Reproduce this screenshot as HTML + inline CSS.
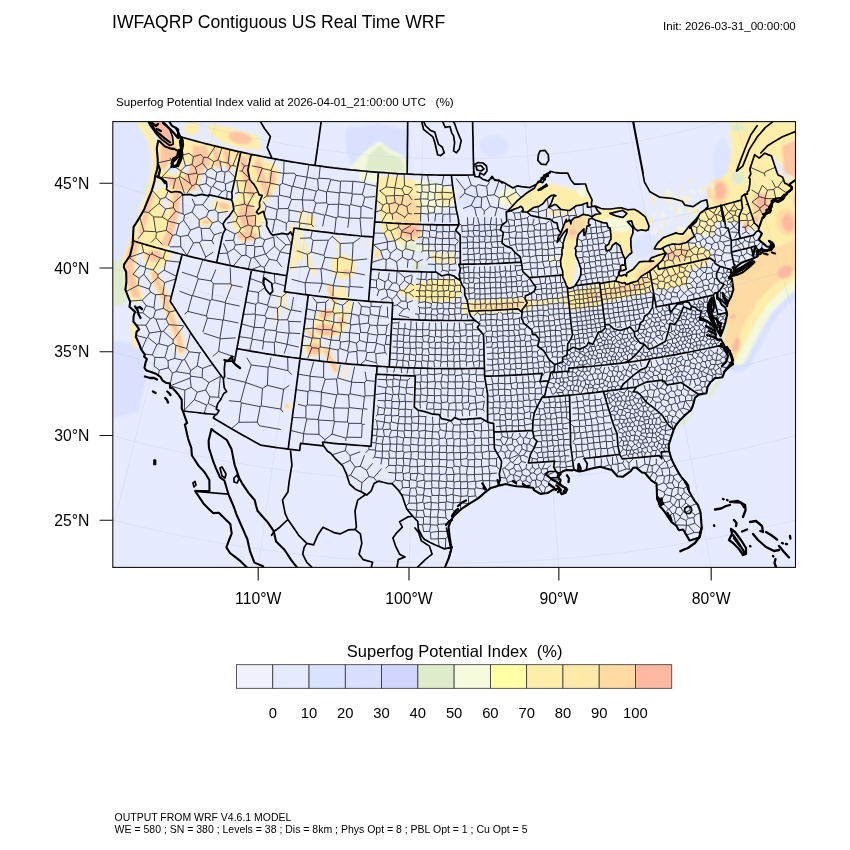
<!DOCTYPE html><html><head><meta charset="utf-8"><title>Superfog Potential Index</title><style>html,body{margin:0;padding:0;background:#fff}body{width:850px;height:850px;position:relative;overflow:hidden;font-family:"Liberation Sans",sans-serif}</style></head><body><svg width="850" height="850" viewBox="0 0 850 850" style="position:absolute;left:0;top:0">
<defs><clipPath id="fr"><rect x="112.8" y="121.6" width="682.7" height="445.8"/></clipPath></defs>
<rect x="112.8" y="121.6" width="682.7" height="445.8" fill="#e6ebff"/>
<g clip-path="url(#fr)">
<filter id="bl" x="-5%" y="-5%" width="110%" height="110%"><feGaussianBlur stdDeviation="0.9"/></filter><g filter="url(#bl)">
<polygon points="113,340 140,345 146,380 138,412 113,418" fill="#d9e1ff"/>
<polygon points="113,200 140,200 136,250 128,262 113,262" fill="#d9e1ff" opacity="0.6"/>
<polygon points="113,123 138,123 149,140 151,165 147,190 140,200 113,200" fill="#d9e1ff" opacity="0.55"/>
<polygon points="113,262 124,258 128,280 126,304 114,306" fill="#dfeccc"/>
<polyline points="142,124 151,138 155,150 156,165 154,178 149,190" fill="none" stroke="#ffeeaa" stroke-width="8" stroke-linecap="round" stroke-linejoin="round"/>
<ellipse cx="148" cy="189" rx="4" ry="6" fill="#dfeccc"/>
<polyline points="150,190 142,210 137,228 133,240 130,252" fill="none" stroke="#ffeeaa" stroke-width="4.5" stroke-linecap="round" stroke-linejoin="round"/>
<polyline points="133,326 136,346" fill="none" stroke="#ffeeaa" stroke-width="5" stroke-linecap="round" stroke-linejoin="round"/>
<polygon points="159,138 183,138 201,143 208,160 203,172 199,186 190,193 170,191 159,182 157,160" fill="#ffeeaa"/>
<polygon points="161,142 176,146 178,156 170,160 164,170 160,168" fill="#ffc6a3"/>
<polygon points="193,145 205,148 206,166 198,176 196,190 184,191 181,180 188,172 192,160" fill="#ffc6a3"/>
<polygon points="166,176 178,178 184,190 170,190" fill="#ffc6a3"/>
<ellipse cx="173" cy="170" rx="6" ry="4" fill="#e6ebff" transform="rotate(20 173 170)"/>
<ellipse cx="166" cy="183" rx="3" ry="4" fill="#e6ebff"/>
<ellipse cx="186" cy="168" rx="3" ry="5" fill="#e6ebff"/>
<polygon points="200,142 216,145 240,151 262,157 266,172 252,176 238,170 222,166 210,170 203,160" fill="#ffeeaa"/>
<polyline points="204,148 207,164" fill="none" stroke="#ffc6a3" stroke-width="5.5" stroke-linecap="round" stroke-linejoin="round"/>
<polyline points="215,149 218,165" fill="none" stroke="#ffc6a3" stroke-width="5.5" stroke-linecap="round" stroke-linejoin="round"/>
<polyline points="226,152 229,167" fill="none" stroke="#ffc6a3" stroke-width="5.5" stroke-linecap="round" stroke-linejoin="round"/>
<polyline points="238,155 241,170" fill="none" stroke="#ffc6a3" stroke-width="5.5" stroke-linecap="round" stroke-linejoin="round"/>
<polyline points="250,158 253,172" fill="none" stroke="#ffc6a3" stroke-width="5.5" stroke-linecap="round" stroke-linejoin="round"/>
<polyline points="260,160 262,172" fill="none" stroke="#ffc6a3" stroke-width="5.5" stroke-linecap="round" stroke-linejoin="round"/>
<polygon points="186,124 196,123 200,130 192,136 184,132" fill="#ffeeaa"/>
<polygon points="208,124 222,126 238,130 258,136 262,150 240,148 222,142 210,134" fill="#ffeeaa"/>
<ellipse cx="240" cy="138" rx="12" ry="6" fill="#ffc6a3" transform="rotate(15 240 138)"/>
<polygon points="234,156 272,162 280,172 276,190 268,200 252,204 238,196 234,176" fill="#ffeeaa"/>
<polyline points="243,160 246,176 252,196" fill="none" stroke="#ffc6a3" stroke-width="7" stroke-linecap="round" stroke-linejoin="round"/>
<polyline points="258,164 262,180 268,194" fill="none" stroke="#ffc6a3" stroke-width="7" stroke-linecap="round" stroke-linejoin="round"/>
<ellipse cx="272" cy="178" rx="4" ry="8" fill="#ffc6a3"/>
<ellipse cx="222" cy="206" rx="11" ry="6" fill="#ffeeaa" transform="rotate(15 222 206)"/>
<ellipse cx="224" cy="206" rx="6" ry="3" fill="#ffc6a3" transform="rotate(15 224 206)"/>
<ellipse cx="206" cy="222" rx="8" ry="4" fill="#ffeeaa"/>
<ellipse cx="206" cy="222" rx="4" ry="2" fill="#ffc6a3"/>
<polygon points="234,198 262,196 265,215 257,240 241,243 232,225" fill="#ffeeaa"/>
<ellipse cx="247" cy="216" rx="8" ry="15" fill="#ffc6a3" transform="rotate(-10 247 216)"/>
<ellipse cx="247" cy="236" rx="10" ry="5" fill="#ffc6a3"/>
<polygon points="156,188 172,186 181,196 179,216 174,232 170,246 160,250 140,246 138,238 147,210" fill="#ffeeaa"/>
<ellipse cx="166" cy="203" rx="3" ry="9" fill="#e6ebff" transform="rotate(8 166 203)"/>
<polyline points="152,196 146,214 141,232" fill="none" stroke="#ffc6a3" stroke-width="5" stroke-linecap="round" stroke-linejoin="round"/>
<polyline points="177,194 175,212 170,232 164,246" fill="none" stroke="#ffc6a3" stroke-width="7" stroke-linecap="round" stroke-linejoin="round"/>
<polyline points="136,242 131,254 129,268 132,284 137,296" fill="none" stroke="#ffeeaa" stroke-width="13" stroke-linecap="round" stroke-linejoin="round"/>
<polyline points="135,242 131,254 129,268 132,284 136,294" fill="none" stroke="#ffc6a3" stroke-width="8" stroke-linecap="round" stroke-linejoin="round"/>
<polygon points="140,244 166,246 172,256 160,270 146,268" fill="#ffeeaa"/>
<ellipse cx="154" cy="256" rx="8" ry="6" fill="#ffc6a3"/>
<polyline points="154,274 159,286 165,298 170,314 174,326 179,338 181,350" fill="none" stroke="#ffeeaa" stroke-width="10" stroke-linecap="round" stroke-linejoin="round"/>
<polyline points="154,274 159,286 165,298 170,314 174,326 179,338 181,350" fill="none" stroke="#ffc6a3" stroke-width="5.5" stroke-linecap="round" stroke-linejoin="round"/>
<ellipse cx="210" cy="262" rx="1.5" ry="1.5" fill="#ffeeaa"/>
<ellipse cx="222" cy="274" rx="1.5" ry="1.5" fill="#ffeeaa"/>
<ellipse cx="230" cy="288" rx="2" ry="2" fill="#ffeeaa"/>
<ellipse cx="201" cy="246" rx="1.5" ry="1.5" fill="#ffeeaa"/>
<polyline points="280,296 279,308 276,320" fill="none" stroke="#ffeeaa" stroke-width="3" stroke-linecap="round" stroke-linejoin="round"/>
<polyline points="284,294 286,310" fill="none" stroke="#ffeeaa" stroke-width="3" stroke-linecap="round" stroke-linejoin="round"/>
<polyline points="292,226 296,250 293,268" fill="none" stroke="#ffeeaa" stroke-width="5" stroke-linecap="round" stroke-linejoin="round"/>
<polyline points="302,212 300,236 306,250 314,274" fill="none" stroke="#ffeeaa" stroke-width="4" stroke-linecap="round" stroke-linejoin="round"/>
<ellipse cx="298" cy="254" rx="5" ry="8" fill="#ffeeaa"/>
<ellipse cx="310" cy="222" rx="5" ry="9" fill="#ffeeaa"/>
<polygon points="332,258 344,254 356,262 354,276 340,280 332,272" fill="#ffeeaa"/>
<ellipse cx="346" cy="272" rx="4" ry="3" fill="#ffc6a3"/>
<polyline points="337,238 339,252" fill="none" stroke="#ffeeaa" stroke-width="3" stroke-linecap="round" stroke-linejoin="round"/>
<polyline points="330,288 342,298" fill="none" stroke="#ffeeaa" stroke-width="4" stroke-linecap="round" stroke-linejoin="round"/>
<polyline points="329,287 332,296 335,303" fill="none" stroke="#ffeeaa" stroke-width="6.5" stroke-linecap="round" stroke-linejoin="round"/>
<polyline points="329,288 332,296 334.5,302" fill="none" stroke="#ffc6a3" stroke-width="3.5" stroke-linecap="round" stroke-linejoin="round"/>
<polyline points="341,288 345,297 349,305 347,313" fill="none" stroke="#ffeeaa" stroke-width="6" stroke-linecap="round" stroke-linejoin="round"/>
<polygon points="318,311 334,307 347,313 347,328 338,337 316,337 313,326" fill="#ffeeaa"/>
<ellipse cx="326" cy="314" rx="7" ry="4.5" fill="#ffc6a3" transform="rotate(-20 326 314)"/>
<ellipse cx="326" cy="330" rx="11" ry="6" fill="#ffc6a3" transform="rotate(5 326 330)"/>
<ellipse cx="341" cy="322" rx="4" ry="5" fill="#ffc6a3"/>
<ellipse cx="334.5" cy="320" rx="3.5" ry="3" fill="#e6ebff"/>
<polyline points="307,330 314,338 320,346" fill="none" stroke="#ffeeaa" stroke-width="5.5" stroke-linecap="round" stroke-linejoin="round"/>
<polyline points="308,331 314,338 319,345" fill="none" stroke="#ffc6a3" stroke-width="3" stroke-linecap="round" stroke-linejoin="round"/>
<ellipse cx="314" cy="349" rx="10" ry="8" fill="#ffeeaa"/>
<ellipse cx="314" cy="349" rx="7.5" ry="6" fill="#ffc6a3"/>
<ellipse cx="313" cy="349" rx="4" ry="3" fill="#ffb9a0"/>
<polyline points="326,351 331,360 335.5,370" fill="none" stroke="#ffeeaa" stroke-width="7.5" stroke-linecap="round" stroke-linejoin="round"/>
<polyline points="326,351 331,360 335.5,370" fill="none" stroke="#ffc6a3" stroke-width="4.5" stroke-linecap="round" stroke-linejoin="round"/>
<polyline points="346.5,365 345,378" fill="none" stroke="#ffeeaa" stroke-width="2.5" stroke-linecap="round" stroke-linejoin="round"/>
<ellipse cx="288" cy="407" rx="3.5" ry="3" fill="#ffeeaa"/>
<ellipse cx="287" cy="406" rx="2" ry="1.5" fill="#ffc6a3"/>
<polygon points="346,128 378,124 408,130 410,172 352,170 346,150" fill="#d9e1ff"/>
<polygon points="350,168 360,156 369,148 380,141 390,150 404,156 409,174 352,171" fill="#f3f9db"/>
<polygon points="366,168 368,156 374,150 380,145 388,153 402,159 406,173 368,170" fill="#dfeccc"/>
<polygon points="358,172 378,174 378,183 360,181" fill="#f3f9db"/>
<ellipse cx="494" cy="146" rx="14" ry="11" fill="#d9e1ff" opacity="0.8"/>
<polygon points="414,179 438,184 456,190 456,206 440,210 424,214 419,196" fill="#f3f9db"/>
<polygon points="378,176 398,176 416,181 421,196 421,223 380,223 377,200" fill="#ffeeaa"/>
<ellipse cx="445" cy="196" rx="9" ry="8" fill="#ffeeaa"/>
<polygon points="390,197 412,195 420,206 420,223 396,223 388,210" fill="#ffdba4"/>
<polygon points="379,223 420,223 422,236 412,243 396,243 384,236" fill="#ffeeaa"/>
<polygon points="396,223 420,223 420,238 404,242 396,234" fill="#ffdba4"/>
<ellipse cx="411" cy="231" rx="9" ry="5.5" fill="#ffb9a0"/>
<polygon points="396,242 430,246 432,252 400,250" fill="#f3f9db"/>
<ellipse cx="417" cy="266" rx="6" ry="4" fill="#dfeccc"/>
<ellipse cx="410" cy="247" rx="8" ry="3" fill="#dfeccc"/>
<polygon points="431,252 455,253 456,263 438,264 430,258" fill="#ffeeaa" opacity="0.75"/>
<ellipse cx="376.5" cy="254" rx="3.5" ry="5" fill="#ffeeaa"/>
<ellipse cx="376.5" cy="255" rx="2" ry="3" fill="#ffdba4"/>
<ellipse cx="369" cy="244" rx="2" ry="2" fill="#ffeeaa"/>
<ellipse cx="470" cy="200" rx="14" ry="10" fill="#d9e1ff" opacity="0.55"/>
<ellipse cx="486" cy="230" rx="12" ry="14" fill="#d9e1ff" opacity="0.55"/>
<ellipse cx="440" cy="225" rx="10" ry="8" fill="#d9e1ff" opacity="0.55"/>
<ellipse cx="460" cy="240" rx="12" ry="8" fill="#d9e1ff" opacity="0.55"/>
<ellipse cx="430" cy="270" rx="10" ry="6" fill="#d9e1ff" opacity="0.55"/>
<polygon points="396,291 410,285 430,280 452,278 462,284 460,296 452,301 430,303 410,299" fill="#ffeeaa"/>
<polyline points="468,308 498,306 526,304" fill="none" stroke="#ffeeaa" stroke-width="13" stroke-linecap="round" stroke-linejoin="round"/>
<polyline points="474,307 498,306 522,304" fill="none" stroke="#ffdba4" stroke-width="7" stroke-linecap="round" stroke-linejoin="round"/>
<polyline points="526,304 548,302 568,298" fill="none" stroke="#ffeeaa" stroke-width="6" stroke-linecap="round" stroke-linejoin="round" opacity="0.75"/>
<polyline points="708.5,398 714.5,388 720,380.5" fill="none" stroke="#dfeccc" stroke-width="3" stroke-linecap="round" stroke-linejoin="round"/>
<polyline points="678.5,427.5 685,421 691.5,415.5" fill="none" stroke="#dfeccc" stroke-width="3" stroke-linecap="round" stroke-linejoin="round"/>
<polyline points="574,300 590,297 610,291 630,287 648,282" fill="none" stroke="#ffeeaa" stroke-width="20" stroke-linecap="round" stroke-linejoin="round"/>
<polyline points="590,298 610,292 630,288 646,282" fill="none" stroke="#ffdba4" stroke-width="10" stroke-linecap="round" stroke-linejoin="round"/>
<ellipse cx="554" cy="260" rx="6" ry="4" fill="#f3f9db"/>
<ellipse cx="508" cy="197" rx="11" ry="9" fill="#f3f9db" transform="rotate(-30 508 197)"/>
<ellipse cx="511" cy="199" rx="6" ry="5" fill="#ffeeaa" transform="rotate(-30 511 199)" opacity="0.8"/>
<ellipse cx="560" cy="212" rx="14" ry="4" fill="#ffeeaa" transform="rotate(-5 560 212)" opacity="0.7"/>
<ellipse cx="645" cy="246" rx="14" ry="11" fill="#d9e1ff" transform="rotate(-20 645 246)" opacity="0.6"/>
<polygon points="650,268 660,250 680,244 700,246 712,252 708,264 690,270 686,286 660,290 648,286" fill="#ffeeaa"/>
<ellipse cx="676" cy="254" rx="16" ry="7" fill="#ffdba4" transform="rotate(-8 676 254)"/>
<ellipse cx="670" cy="255" rx="5" ry="3" fill="#ffc6a3" transform="rotate(-8 670 255)"/>
<ellipse cx="684" cy="252" rx="4" ry="2.5" fill="#ffc6a3"/>
<ellipse cx="689" cy="286" rx="3" ry="4" fill="#f3f9db"/>
<ellipse cx="722" cy="162" rx="9" ry="24" fill="#d9e1ff" opacity="0.7"/>
<polygon points="730,122 796,122 796,184 771,153 757,155 745,195 708,206 712,186 728,172 732,150 730,135" fill="#ffeeaa"/>
<ellipse cx="738" cy="178" rx="7" ry="7" fill="#dfeccc"/>
<ellipse cx="738" cy="128" rx="8" ry="4" fill="#dfeccc"/>
<polygon points="782,146 796,140 796,178 784,172" fill="#ffc6a3"/>
<polygon points="692,232 700,214 708,206 745,195 757,155 771,153 775,170 796,184 796,200 770,206 758,224 756,232 740,222 716,222 712,236" fill="#ffeeaa"/>
<ellipse cx="718" cy="192" rx="11" ry="13" fill="#ffdba4"/>
<ellipse cx="720" cy="191" rx="6" ry="9" fill="#ffb9a0"/>
<ellipse cx="762" cy="206" rx="10" ry="14" fill="#ffdba4" transform="rotate(-15 762 206)"/>
<ellipse cx="762" cy="203" rx="6" ry="9" fill="#ffb9a0" transform="rotate(-15 762 203)"/>
<ellipse cx="756" cy="219" rx="2.5" ry="3" fill="#ffb9a0"/>
<ellipse cx="746" cy="226" rx="2.5" ry="4" fill="#ffb9a0"/>
<ellipse cx="679.646" cy="218.596" rx="2.17085" ry="1.01789" fill="#ffeeaa" transform="rotate(87.7269 679.646 218.596)" opacity="0.85"/>
<ellipse cx="710.276" cy="225.645" rx="1.41747" ry="2.25147" fill="#f3f9db" transform="rotate(154.288 710.276 225.645)" opacity="0.85"/>
<ellipse cx="660.566" cy="213.411" rx="1.43347" ry="1.44291" fill="#ffeeaa" transform="rotate(28.4242 660.566 213.411)" opacity="0.85"/>
<ellipse cx="698.575" cy="223.823" rx="1.8376" ry="1.15633" fill="#ffeeaa" transform="rotate(15.1116 698.575 223.823)" opacity="0.85"/>
<ellipse cx="695.614" cy="211.574" rx="2.15959" ry="1.56235" fill="#ffeeaa" transform="rotate(152.636 695.614 211.574)" opacity="0.85"/>
<ellipse cx="695.942" cy="211.716" rx="3.0982" ry="2.38134" fill="#ffeeaa" transform="rotate(60.8497 695.942 211.716)" opacity="0.85"/>
<ellipse cx="665.352" cy="222.6" rx="1.92923" ry="1.09803" fill="#ffeeaa" transform="rotate(57.4862 665.352 222.6)" opacity="0.85"/>
<ellipse cx="654.504" cy="194.255" rx="3.0108" ry="2.10967" fill="#f3f9db" transform="rotate(101.127 654.504 194.255)" opacity="0.85"/>
<ellipse cx="689.425" cy="198.243" rx="2.07248" ry="2.02596" fill="#ffeeaa" transform="rotate(11.3198 689.425 198.243)" opacity="0.85"/>
<ellipse cx="651.327" cy="221.151" rx="2.60233" ry="2.02853" fill="#ffeeaa" transform="rotate(167.923 651.327 221.151)" opacity="0.85"/>
<ellipse cx="675.621" cy="198.073" rx="2.72898" ry="1.91366" fill="#f3f9db" transform="rotate(145.974 675.621 198.073)" opacity="0.85"/>
<ellipse cx="691.102" cy="231.617" rx="2.67651" ry="2.32977" fill="#ffeeaa" transform="rotate(60.1855 691.102 231.617)" opacity="0.85"/>
<ellipse cx="689.144" cy="198.478" rx="1.35" ry="1.02708" fill="#ffeeaa" transform="rotate(136.737 689.144 198.478)" opacity="0.85"/>
<ellipse cx="678.977" cy="212.879" rx="2.03733" ry="1.51466" fill="#f3f9db" transform="rotate(30.4252 678.977 212.879)" opacity="0.85"/>
<ellipse cx="700.808" cy="224.65" rx="2.95059" ry="1.90728" fill="#f3f9db" transform="rotate(125.292 700.808 224.65)" opacity="0.85"/>
<ellipse cx="662.353" cy="220.987" rx="2.07592" ry="1.44642" fill="#ffeeaa" transform="rotate(102.292 662.353 220.987)" opacity="0.85"/>
<ellipse cx="692.156" cy="210.231" rx="1.63601" ry="2.18291" fill="#ffeeaa" transform="rotate(54.3896 692.156 210.231)" opacity="0.85"/>
<ellipse cx="671.998" cy="217.721" rx="2.45045" ry="1.37702" fill="#f3f9db" transform="rotate(118.208 671.998 217.721)" opacity="0.85"/>
<ellipse cx="690.128" cy="224.237" rx="3.02224" ry="1.58171" fill="#ffeeaa" transform="rotate(51.488 690.128 224.237)" opacity="0.85"/>
<ellipse cx="683.216" cy="229.657" rx="2.18783" ry="1.69649" fill="#f3f9db" transform="rotate(116.77 683.216 229.657)" opacity="0.85"/>
<ellipse cx="678.657" cy="208.836" rx="3.06483" ry="2.17696" fill="#f3f9db" transform="rotate(22.8687 678.657 208.836)" opacity="0.85"/>
<ellipse cx="685.617" cy="198.52" rx="1.82736" ry="2.30307" fill="#f3f9db" transform="rotate(42.9023 685.617 198.52)" opacity="0.85"/>
<ellipse cx="676.905" cy="231.758" rx="3.0643" ry="1.75439" fill="#ffeeaa" transform="rotate(41.0466 676.905 231.758)" opacity="0.85"/>
<ellipse cx="695.63" cy="207.208" rx="1.47297" ry="1.20289" fill="#ffeeaa" transform="rotate(167.329 695.63 207.208)" opacity="0.85"/>
<ellipse cx="711.188" cy="232.092" rx="1.29174" ry="1.7755" fill="#ffeeaa" transform="rotate(132.536 711.188 232.092)" opacity="0.85"/>
<ellipse cx="691.475" cy="180.964" rx="2.61177" ry="1.07712" fill="#ffeeaa" transform="rotate(152.369 691.475 180.964)" opacity="0.85"/>
<ellipse cx="713.301" cy="191.877" rx="3.15939" ry="2.0741" fill="#ffeeaa" transform="rotate(81.7556 713.301 191.877)" opacity="0.85"/>
<ellipse cx="680.608" cy="229.268" rx="1.30636" ry="1.85956" fill="#ffeeaa" transform="rotate(56.2581 680.608 229.268)" opacity="0.85"/>
<ellipse cx="693.62" cy="231.085" rx="1.694" ry="1.07413" fill="#ffeeaa" transform="rotate(149.699 693.62 231.085)" opacity="0.85"/>
<ellipse cx="655.016" cy="231.322" rx="3.02307" ry="2.14022" fill="#f3f9db" transform="rotate(34.3299 655.016 231.322)" opacity="0.85"/>
<ellipse cx="661.258" cy="231.838" rx="2.78123" ry="1.23911" fill="#ffeeaa" transform="rotate(53.8362 661.258 231.838)" opacity="0.85"/>
<ellipse cx="693.103" cy="191.912" rx="2.95851" ry="1.44852" fill="#f3f9db" transform="rotate(53.7674 693.103 191.912)" opacity="0.85"/>
<ellipse cx="651.775" cy="201.669" rx="2.34931" ry="1.96311" fill="#ffeeaa" transform="rotate(102.295 651.775 201.669)" opacity="0.85"/>
<ellipse cx="688.638" cy="211.58" rx="2.26206" ry="2.20595" fill="#f3f9db" transform="rotate(63.3549 688.638 211.58)" opacity="0.85"/>
<ellipse cx="700.77" cy="190.862" rx="3.00567" ry="1.76214" fill="#f3f9db" transform="rotate(25.7801 700.77 190.862)" opacity="0.85"/>
<ellipse cx="689.904" cy="199.252" rx="1.64728" ry="1.328" fill="#f3f9db" transform="rotate(86.825 689.904 199.252)" opacity="0.85"/>
<ellipse cx="681.587" cy="188.515" rx="2.53634" ry="1.65873" fill="#ffeeaa" transform="rotate(10.7496 681.587 188.515)" opacity="0.85"/>
<ellipse cx="676.58" cy="201.285" rx="1.24768" ry="1.38359" fill="#ffeeaa" transform="rotate(171.074 676.58 201.285)" opacity="0.85"/>
<ellipse cx="706.512" cy="230.68" rx="2.06798" ry="2.31251" fill="#f3f9db" transform="rotate(54.119 706.512 230.68)" opacity="0.85"/>
<ellipse cx="687.966" cy="210.896" rx="1.70074" ry="1.46267" fill="#ffeeaa" transform="rotate(115.725 687.966 210.896)" opacity="0.85"/>
<ellipse cx="668.177" cy="197.387" rx="1.84961" ry="2.15994" fill="#ffeeaa" transform="rotate(98.2414 668.177 197.387)" opacity="0.85"/>
<ellipse cx="651.176" cy="219.528" rx="2.75779" ry="1.69239" fill="#ffeeaa" transform="rotate(55.9508 651.176 219.528)" opacity="0.85"/>
<ellipse cx="703.714" cy="187.707" rx="2.1683" ry="2.20382" fill="#ffeeaa" transform="rotate(20.7382 703.714 187.707)" opacity="0.85"/>
<ellipse cx="671.676" cy="207.805" rx="1.41039" ry="2.0574" fill="#f3f9db" transform="rotate(100.246 671.676 207.805)" opacity="0.85"/>
<ellipse cx="683.097" cy="199.329" rx="2.98101" ry="2.39129" fill="#ffeeaa" transform="rotate(31.5387 683.097 199.329)" opacity="0.85"/>
<ellipse cx="663.536" cy="215.354" rx="2.84593" ry="1.42342" fill="#f3f9db" transform="rotate(37.6381 663.536 215.354)" opacity="0.85"/>
<ellipse cx="654.644" cy="199.075" rx="2.9451" ry="1.04626" fill="#ffeeaa" transform="rotate(16.138 654.644 199.075)" opacity="0.85"/>
<ellipse cx="691.801" cy="215.594" rx="1.39273" ry="1.03917" fill="#ffeeaa" transform="rotate(116.772 691.801 215.594)" opacity="0.85"/>
<ellipse cx="667.911" cy="191.496" rx="1.442" ry="1.75098" fill="#f3f9db" transform="rotate(16.3665 667.911 191.496)" opacity="0.85"/>
<ellipse cx="654.208" cy="215.438" rx="2.12486" ry="1.563" fill="#f3f9db" transform="rotate(126.279 654.208 215.438)" opacity="0.85"/>
<ellipse cx="654.867" cy="193.584" rx="3.09791" ry="1.05375" fill="#f3f9db" transform="rotate(0.551542 654.867 193.584)" opacity="0.85"/>
<ellipse cx="699.145" cy="203.305" rx="2.48597" ry="1.62715" fill="#f3f9db" transform="rotate(127.797 699.145 203.305)" opacity="0.85"/>
<ellipse cx="679.832" cy="227.392" rx="2.50986" ry="1.87021" fill="#f3f9db" transform="rotate(146.99 679.832 227.392)" opacity="0.85"/>
<ellipse cx="668.646" cy="200.07" rx="2.84191" ry="1.44994" fill="#f3f9db" transform="rotate(30.3261 668.646 200.07)" opacity="0.85"/>
<ellipse cx="667.424" cy="202.583" rx="2.45667" ry="2.25507" fill="#ffeeaa" transform="rotate(61.5956 667.424 202.583)" opacity="0.85"/>
<ellipse cx="711.208" cy="201.499" rx="3.15346" ry="1.99405" fill="#ffeeaa" transform="rotate(90.9917 711.208 201.499)" opacity="0.85"/>
<ellipse cx="698.292" cy="204.505" rx="1.6447" ry="1.10765" fill="#f3f9db" transform="rotate(107.848 698.292 204.505)" opacity="0.85"/>
<ellipse cx="683.516" cy="203.798" rx="3.06909" ry="1.15643" fill="#ffeeaa" transform="rotate(174.144 683.516 203.798)" opacity="0.85"/>
<ellipse cx="670.36" cy="193.782" rx="3.12119" ry="1.98093" fill="#f3f9db" transform="rotate(171.942 670.36 193.782)" opacity="0.85"/>
<ellipse cx="661.199" cy="225.972" rx="1.79112" ry="1.83501" fill="#f3f9db" transform="rotate(19.6725 661.199 225.972)" opacity="0.85"/>
<ellipse cx="700.687" cy="213.945" rx="1.63932" ry="1.40844" fill="#ffeeaa" transform="rotate(85.2688 700.687 213.945)" opacity="0.85"/>
<ellipse cx="664.76" cy="194.663" rx="1.49397" ry="2.05465" fill="#ffeeaa" transform="rotate(81.1023 664.76 194.663)" opacity="0.85"/>
<ellipse cx="676.055" cy="210.115" rx="2.98305" ry="1.16122" fill="#ffeeaa" transform="rotate(98.4813 676.055 210.115)" opacity="0.85"/>
<ellipse cx="711.756" cy="185.795" rx="3.15039" ry="2.39416" fill="#f3f9db" transform="rotate(62.5927 711.756 185.795)" opacity="0.85"/>
<ellipse cx="690.049" cy="230.773" rx="2.94564" ry="1.97661" fill="#f3f9db" transform="rotate(6.64212 690.049 230.773)" opacity="0.85"/>
<polyline points="738,357 744,345 754,326 766,306 782,290 797,278" fill="none" stroke="#d9e1ff" stroke-width="30" stroke-linecap="round" stroke-linejoin="round"/>
<polyline points="738,357 744,345 754,326 766,306 782,290 797,278" fill="none" stroke="#f3f9db" stroke-width="17" stroke-linecap="round" stroke-linejoin="round"/>
<polygon points="738,357 744,345 754,326 766,306 782,290 797,278 797,278 797,184 792,187.5 786.4,194.3 780.1,201.1 772.1,202.8 768.8,211.7 762.3,218.1 758.6,230.4 762,233.6 758.7,239.6 764.6,244.6 769.1,241 773.9,246.5 770.2,247.9 763.3,250.8 757.5,256.1 754.3,261.7 749,266.8 737.1,274.3 731.8,278.2 731.1,296.7 726.6,304.9 727.1,314.7 723.6,328.4 721.5,340.4 729.5,353.4 733.1,364.1" fill="#ffeeaa"/>
<polygon points="737,351 737.5,340 746,321 759,300 776,283 797,268 797,268 797,238 780,246 773.9,246.5 770.2,247.9 763.3,250.8 757.5,256.1 754.3,261.7 749,266.8 737.1,274.3 731.8,278.2 731.1,296.7 726.6,304.9 727.1,314.7 723.6,328.4 721.5,340.4 729.5,353.4 733.1,364.1" fill="#ffdba4"/>
<ellipse cx="785" cy="272" rx="8" ry="6" fill="#ffb9a0" transform="rotate(-25 785 272)"/>
<ellipse cx="736.5" cy="345" rx="3.5" ry="8" fill="#ffb9a0" transform="rotate(10 736.5 345)"/>
<ellipse cx="733" cy="316.5" rx="3" ry="2.5" fill="#ffb9a0"/>
<ellipse cx="797" cy="200" rx="3" ry="7" fill="#ffb9a0"/>
<ellipse cx="787" cy="222" rx="11" ry="14" fill="#ffdba4" transform="rotate(-10 787 222)"/>
<ellipse cx="788" cy="223" rx="6" ry="9" fill="#ffb9a0" transform="rotate(-10 788 223)"/>
<polyline points="727.5,325 725,334 723,340" fill="none" stroke="#dfeccc" stroke-width="2.5" stroke-linecap="round" stroke-linejoin="round"/>
</g><g filter="url(#bl)">
<clipPath id="lk"><path d="M508.3 210.3L510.6 208L512.8 205.7L515 203.3L517.2 200.9L520.4 198.2L523.6 195.6L526.8 192.9L530.6 190.6L534.4 188.2L538.2 181.4L540.4 182L542.7 182.6L545.5 177.5L547.9 174.4L550.3 171.3L553 172L555.8 172.7L558 172.9L560.2 173.2L564 173.2L567.8 173.2L569.2 176.4L570.7 179.7L574.5 184.2L578.2 184.1L581.8 184L585.5 184L586.5 187.3L587.5 190.7L589.7 194.9L592.1 200L591.4 203.3L591.8 206.5L590.8 207L587.4 207.1L587.4 202.7L584.4 203.8L581.5 204.9L578.9 205.3L576.2 205.7L572.8 208.2L569.3 210.6L565 210L560.7 209.4L556.9 205.3L554.6 204.4L551.7 205.9L548.8 207.4L551.2 203.1L553.8 196.3L556 195.7L553.9 195.1L551 195.6L548.7 197.5L546.4 199.4L542.9 203.8L539 206.3L536.4 206.9L533.7 207.5L530.5 209.8L527.2 212.1L524.6 212L522 211.9L523.4 210.2L522.6 207.8L520.9 206.3L518.2 207.8L513.8 209.4L509.5 211.1L508.3 210.3ZM566.2 285.1L567.4 287.4L569.6 288.4L572.2 287.4L574.8 286.3L576.8 283L578.9 279.7L580.9 274.6L580.9 268.6L579.7 265L578.5 261.4L577 258.2L575.6 254.9L576 250L575 248.4L576.9 245.1L577.2 238.9L578.6 234.3L581.3 231.5L583.9 228.8L583.9 232.2L584 235.6L586.2 231.7L586.9 226.4L590.3 225L588.5 224.1L588.6 220.8L589 219.2L591.9 218.3L591.9 216.8L588.5 215.2L585.9 214.8L583.3 214.3L580.9 215.6L578.5 216.9L574.6 217.7L571.5 220.5L570.8 223.8L569.7 219.9L566 221.9L566.3 219.4L564.7 223.3L563.1 227.1L560.9 233L558.4 236.5L557.2 242.3L560.2 237.9L563.7 232.7L567.3 229.1L566.7 233.2L564.8 237.5L563.1 243.3L563 248.2L562 249.1L562 254.8L560.5 260.6L561 266.5L562.7 271.2L562.7 273.6L562.8 277L565.1 282L566.2 285.1ZM591.9 218.3L595.1 220L599 221.3L602.9 222.6L606.9 223.2L608.2 227.7L610.1 228.1L610.8 234L611 239.2L609.8 240.7L608.6 244.2L605.4 246.2L606.3 251L610.6 249.6L611 248.7L612.6 245.2L616 242.7L620 245.7L621.4 250.2L622.8 254.7L624.8 258.8L624.9 265.3L622.2 264.9L620.5 266L620.7 269.5L619.7 270.5L618.7 271.9L618.6 275.2L616.6 277.9L615.9 281.3L619 282L622.2 283.3L624.9 282.5L625.4 283.9L627.3 284.4L631.5 282.6L634.3 281.9L637.1 281.2L639.3 278.7L641.4 276.2L644 274.6L646.7 273L649.4 271.4L651.9 269.5L654.4 267.6L658.2 264.1L661.9 260.6L664 257L666.2 253.3L665.6 253.1L661.9 254.3L657.9 255.4L654.5 256.7L651.2 257.9L649.3 260.8L653.6 261.2L651.2 261.4L648.8 261.5L644.6 261.3L642.1 261.6L639.6 261.9L636.2 265.7L632.8 269.6L629.7 271.3L626.7 273.1L626.5 276.3L625.1 274.5L621.3 275.9L619.2 275.4L619 274.3L619.7 270.8L623.3 270.4L626.1 269.2L625.4 265.2L625.1 259.2L627.1 257L629.1 254.8L631.8 252.8L631.3 249.2L630.9 245.6L630.9 242L630.8 238.5L632.9 233L632.9 228L630.2 224.8L627.5 221.6L631.6 220.9L632.9 225.1L634.7 228.6L637.7 230.8L641.3 229.8L645.9 230.6L648.3 229.7L649 226L647.2 221.4L645.3 216.8L641.7 214L638 211.2L634.2 209.3L630.8 209.5L627.5 209.8L624.4 208.8L621.4 207.8L617.5 208L614.2 208.5L610.8 209L607.4 209L604 208.9L601.1 208.5L598.1 207.3L595.1 206.1L597.5 210.7L600.7 213.6L598.2 214L595.7 214.3L591.9 216.8L591.9 218.3ZM662.8 247.8L660.9 249.1L657.6 249L654.3 248.8L654.4 248.4L655.6 246.2L658.1 242.6L659.9 240.8L663.4 237.6L667.1 236.2L670.9 234.8L673.5 233.9L676 232.9L678 233.6L682.8 234.1L684.7 231.9L686.8 229.2L688.8 226.5L690.9 227.5L692.4 231.8L694.6 236.2L691.5 238.4L689 240.5L686.5 242.5L683.1 243.4L679.7 244.3L676 244.2L672.4 244L669.6 244.9L666.8 245.7L662.8 247.8Z"/></clipPath>
<g clip-path="url(#lk)">
<rect x="480" y="150" width="280" height="160" fill="#ffeeaa"/>
<polygon points="540,172 568,168 582,182 586,186 580,191 564,187 552,183 542,188" fill="#e6ebff"/>
<ellipse cx="584" cy="192" rx="7" ry="5" fill="#f3f9db"/>
<polyline points="576.5,248 578.5,262 577.5,274 575,284" fill="none" stroke="#e6ebff" stroke-width="5" stroke-linecap="round" stroke-linejoin="round"/>
<ellipse cx="619" cy="224.5" rx="15" ry="7" fill="#f3f9db" transform="rotate(8 619 224.5)"/>
<ellipse cx="574" cy="226" rx="12" ry="14" fill="#ffdba4"/>
<ellipse cx="573" cy="232" rx="3.5" ry="3" fill="#ffb9a0"/>
<ellipse cx="650" cy="270" rx="16" ry="6" fill="#ffdba4" transform="rotate(-28 650 270)"/>
<ellipse cx="690" cy="240" rx="12" ry="5" fill="#ffdba4" transform="rotate(-10 690 240)"/>
</g>
<path d="M133.4 91.6L135.1 96L136.9 100.4L138.7 104.8L140.9 108.4L143 112L145.1 115.6L147.5 120.2L149.9 124.9L152 127.8L154.1 130.8L156.1 133.7L159.1 136.8L162.1 139.8L164.8 141.8L167.4 143.7L170 145.6L173.3 144L172.6 137L171.2 133.2L169.8 129.4L166.3 126.2L162.8 123L162 118.4L161.2 113.9L158.2 109.5L155.2 105.1L152.3 103L149.3 100.8L146.3 98.7L143.9 96.1L141.5 93.6L139.1 91L136.2 91.3L133.4 91.6Z" fill="#ffb9a0"/>
</g>
<path d="M-239.8 567.2L-224.8 574.6L-209.8 581.9L-194.6 589L-179.4 595.9L-164.1 602.7L-148.7 609.3L-133.2 615.7L-117.7 622L-102.1 628.1L-86.5 634L-70.8 639.7L-55 645.3L-39.2 650.7L-23.3 656L-7.4 661.1L8.6 666L24.7 670.7L40.8 675.2L56.9 679.6L73.1 683.8L89.4 687.8L105.7 691.7L122 695.4L138.3 698.9L154.7 702.2L171.2 705.3L187.6 708.3L204.1 711.1L220.7 713.7L237.2 716.1L253.8 718.4L270.4 720.5L287 722.3L303.7 724.1L320.3 725.6L337 726.9L353.7 728.1L370.4 729.1L387.1 729.9L403.8 730.5L420.6 731L437.3 731.3L454 731.3L470.8 731.2L487.5 731L504.2 730.5L520.9 729.9L537.6 729.1L554.4 728.1L571 726.9L587.7 725.5L604.4 724L621 722.3L637.6 720.4L654.2 718.3L670.8 716L687.4 713.6L703.9 711L720.4 708.2L736.9 705.2L753.3 702L769.7 698.7L786.1 695.2L802.4 691.5L818.7 687.7L834.9 683.6L851.1 679.4L867.2 675L883.3 670.5L899.4 665.7L915.4 660.8L931.3 655.8L947.2 650.5L963 645.1L978.8 639.5L994.5 633.7L1010.2 627.8L1025.7 621.7L1041.2 615.4L1056.7 609L1072.1 602.4L1087.4 595.6L1102.6 588.7L1117.7 581.6L1132.8 574.3L1147.8 566.9L1162.7 559.3L1177.5 551.5L1192.3 543.6M-201.6 491L-187.4 498L-173.2 504.8L-158.9 511.5L-144.5 518.1L-130 524.5L-115.5 530.7L-100.9 536.8L-86.2 542.7L-71.5 548.4L-56.7 554L-41.9 559.5L-27 564.8L-12 569.9L3 574.8L18.1 579.6L33.2 584.3L48.3 588.7L63.6 593L78.8 597.2L94.1 601.1L109.5 604.9L124.9 608.6L140.3 612L155.7 615.4L171.2 618.5L186.8 621.5L202.3 624.3L217.9 626.9L233.5 629.4L249.2 631.7L264.8 633.8L280.5 635.7L296.2 637.5L311.9 639.1L327.7 640.6L343.4 641.9L359.2 643L375 643.9L390.8 644.7L406.6 645.3L422.4 645.7L438.2 646L454 646L469.8 645.9L485.6 645.7L501.4 645.3L517.2 644.6L533 643.9L548.8 642.9L564.6 641.8L580.3 640.5L596.1 639.1L611.8 637.5L627.5 635.7L643.2 633.7L658.8 631.6L674.5 629.3L690.1 626.8L705.7 624.1L721.2 621.3L736.8 618.4L752.3 615.2L767.7 611.9L783.1 608.4L798.5 604.8L813.9 601L829.2 597L844.4 592.8L859.6 588.5L874.8 584L889.9 579.4L905 574.6L920 569.6L934.9 564.5L949.8 559.2L964.7 553.8L979.5 548.2L994.2 542.4L1008.8 536.5L1023.4 530.4L1038 524.2L1052.4 517.8L1066.8 511.2L1081.1 504.5L1095.4 497.6L1109.5 490.6L1123.6 483.5L1137.6 476.1L1151.6 468.7M-164.3 416.6L-151 423.2L-137.5 429.7L-124 436L-110.4 442.2L-96.8 448.2L-83.1 454.1L-69.3 459.8L-55.5 465.4L-41.6 470.9L-27.7 476.1L-13.7 481.3L0.4 486.2L14.5 491.1L28.6 495.7L42.8 500.3L57.1 504.6L71.4 508.8L85.7 512.9L100.1 516.8L114.6 520.5L129 524.1L143.6 527.6L158.1 530.8L172.7 534L187.3 536.9L201.9 539.7L216.6 542.4L231.3 544.8L246 547.2L260.8 549.3L275.6 551.3L290.4 553.2L305.2 554.9L320 556.4L334.9 557.8L349.7 559L364.6 560L379.5 560.9L394.4 561.6L409.3 562.2L424.2 562.6L439.1 562.8L454 562.9L468.9 562.8L483.8 562.6L498.7 562.2L513.6 561.6L528.5 560.9L543.4 560L558.3 558.9L573.1 557.7L588 556.3L602.8 554.8L617.6 553.1L632.4 551.3L647.2 549.2L661.9 547.1L676.7 544.7L691.4 542.2L706 539.6L720.7 536.8L735.3 533.8L749.9 530.7L764.4 527.4L778.9 524L793.4 520.4L807.8 516.6L822.2 512.7L836.5 508.7L850.9 504.4L865.1 500.1L879.3 495.5L893.5 490.9L907.6 486L921.6 481L935.6 475.9L949.6 470.6L963.4 465.2L977.3 459.6L991 453.8L1004.7 448L1018.4 441.9L1031.9 435.7L1045.4 429.4L1058.9 422.9L1072.2 416.3L1085.5 409.6L1098.7 402.7L1111.9 395.6M-127.8 343.7L-115.2 349.9L-102.5 356L-89.8 362L-77.1 367.8L-64.2 373.4L-51.3 379L-38.4 384.4L-25.4 389.6L-12.3 394.7L0.8 399.7L14 404.5L27.2 409.2L40.5 413.7L53.8 418.1L67.1 422.4L80.6 426.5L94 430.5L107.5 434.3L121.1 438L134.6 441.5L148.3 444.9L161.9 448.1L175.6 451.2L189.3 454.1L203.1 456.9L216.8 459.5L230.6 462L244.5 464.3L258.3 466.5L272.2 468.6L286.1 470.5L300 472.2L314 473.8L327.9 475.2L341.9 476.5L355.9 477.6L369.9 478.6L383.9 479.4L397.9 480.1L411.9 480.6L425.9 481L439.9 481.2L454 481.3L468 481.2L482 481L496 480.6L510.1 480.1L524.1 479.4L538.1 478.6L552.1 477.6L566 476.4L580 475.1L594 473.7L607.9 472.1L621.8 470.4L635.7 468.5L649.6 466.4L663.5 464.2L677.3 461.9L691.1 459.4L704.9 456.8L718.6 454L732.3 451L746 447.9L759.7 444.7L773.3 441.3L786.9 437.8L800.4 434.1L813.9 430.3L827.3 426.3L840.8 422.2L854.1 417.9L867.4 413.5L880.7 409L893.9 404.3L907.1 399.5L920.2 394.5L933.3 389.4L946.3 384.1L959.2 378.7L972.1 373.2L984.9 367.5L997.7 361.7L1010.4 355.7L1023.1 349.7L1035.6 343.4L1048.1 337.1L1060.6 330.6L1072.9 323.9M-91.6 271.7L-79.8 277.5L-68 283.2L-56.1 288.8L-44.1 294.2L-32.1 299.5L-20 304.7L-7.8 309.8L4.4 314.7L16.6 319.5L28.9 324.2L41.3 328.7L53.7 333.1L66.1 337.3L78.6 341.5L91.2 345.5L103.7 349.3L116.4 353L129 356.6L141.7 360.1L154.5 363.4L167.2 366.5L180 369.6L192.9 372.4L205.7 375.2L218.6 377.8L231.5 380.3L244.5 382.6L257.5 384.8L270.5 386.8L283.5 388.8L296.5 390.5L309.6 392.2L322.6 393.6L335.7 395L348.8 396.2L361.9 397.3L375.1 398.2L388.2 399L401.3 399.6L414.5 400.1L427.6 400.4L440.8 400.7L453.9 400.7L467.1 400.6L480.3 400.4L493.4 400.1L506.6 399.6L519.7 398.9L532.8 398.1L546 397.2L559.1 396.1L572.2 394.9L585.3 393.6L598.3 392.1L611.4 390.5L624.4 388.7L637.4 386.8L650.4 384.7L663.4 382.5L676.3 380.2L689.3 377.7L702.2 375.1L715 372.3L727.9 369.4L740.7 366.4L753.4 363.2L766.2 359.9L778.8 356.4L791.5 352.9L804.1 349.1L816.7 345.3L829.2 341.3L841.7 337.2L854.2 332.9L866.6 328.5L878.9 324L891.2 319.3L903.5 314.5L915.7 309.6L927.8 304.5L939.9 299.3L951.9 294L963.9 288.5L975.8 282.9L987.7 277.2L999.5 271.4L1011.2 265.4L1022.8 259.3L1034.4 253.1M-55.7 200L-44.7 205.4L-33.6 210.7L-22.5 216L-11.3 221L0 226L11.3 230.9L22.6 235.6L34 240.2L45.4 244.7L56.9 249L68.5 253.2L80.1 257.3L91.7 261.3L103.4 265.2L115.1 268.9L126.8 272.5L138.6 276L150.4 279.3L162.3 282.5L174.2 285.6L186.1 288.6L198.1 291.4L210.1 294.1L222.1 296.7L234.1 299.1L246.2 301.4L258.3 303.6L270.4 305.6L282.5 307.6L294.7 309.3L306.9 311L319.1 312.5L331.3 313.9L343.5 315.2L355.7 316.3L368 317.3L380.2 318.1L392.5 318.9L404.8 319.5L417.1 319.9L429.4 320.3L441.6 320.5L453.9 320.5L466.2 320.4L478.5 320.2L490.8 319.9L503.1 319.4L515.3 318.8L527.6 318.1L539.9 317.2L552.1 316.2L564.4 315.1L576.6 313.8L588.8 312.5L601 310.9L613.2 309.3L625.3 307.5L637.4 305.6L649.6 303.5L661.7 301.3L673.7 299L685.8 296.6L697.8 294L709.8 291.3L721.7 288.4L733.7 285.5L745.5 282.4L757.4 279.2L769.2 275.8L781 272.3L792.8 268.7L804.5 265L816.1 261.1L827.8 257.2L839.3 253L850.9 248.8L862.4 244.5L873.8 240L885.2 235.4L896.6 230.6L907.8 225.8L919.1 220.8L930.3 215.7L941.4 210.5L952.5 205.2L963.5 199.7L974.4 194.1L985.3 188.5L996.1 182.6M-19.6 128.1L-9.4 133.1L0.9 138.1L11.2 142.9L21.6 147.7L32.1 152.3L42.6 156.8L53.1 161.2L63.7 165.4L74.3 169.6L85 173.7L95.7 177.6L106.5 181.4L117.3 185.1L128.1 188.7L139 192.1L149.9 195.5L160.9 198.7L171.9 201.8L182.9 204.8L194 207.7L205 210.4L216.2 213L227.3 215.5L238.5 217.9L249.7 220.2L260.9 222.3L272.1 224.4L283.4 226.3L294.7 228.1L305.9 229.7L317.3 231.2L328.6 232.7L339.9 234L351.3 235.1L362.7 236.2L374.1 237.1L385.4 237.9L396.8 238.6L408.2 239.1L419.7 239.5L431.1 239.9L442.5 240L453.9 240.1L465.3 240L476.7 239.8L488.2 239.5L499.6 239.1L511 238.5L522.4 237.9L533.8 237.1L545.1 236.1L556.5 235.1L567.9 233.9L579.2 232.6L590.5 231.2L601.9 229.6L613.2 228L624.4 226.2L635.7 224.3L646.9 222.3L658.1 220.1L669.3 217.8L680.5 215.4L691.6 212.9L702.8 210.3L713.8 207.5L724.9 204.7L735.9 201.7L746.9 198.6L757.8 195.3L768.8 192L779.6 188.5L790.5 184.9L801.3 181.2L812 177.4L822.8 173.5L833.4 169.4L844.1 165.3L854.7 161L865.2 156.6L875.7 152.1L886.1 147.5L896.5 142.7L906.9 137.9L917.2 132.9L927.4 127.8L937.6 122.7L947.7 117.4L957.7 112M16.8 55.4L26.3 60.1L35.8 64.6L45.3 69.1L54.9 73.5L64.5 77.7L74.2 81.9L84 85.9L93.7 89.9L103.5 93.7L113.4 97.5L123.3 101.1L133.2 104.6L143.2 108L153.2 111.3L163.3 114.5L173.3 117.6L183.4 120.6L193.6 123.5L203.8 126.2L214 128.9L224.2 131.4L234.4 133.8L244.7 136.1L255 138.3L265.4 140.4L275.7 142.4L286.1 144.3L296.5 146L306.9 147.7L317.3 149.2L327.8 150.6L338.2 151.9L348.7 153.1L359.2 154.2L369.7 155.2L380.2 156L390.7 156.8L401.2 157.4L411.7 157.9L422.3 158.3L432.8 158.6L443.3 158.7L453.9 158.8L464.4 158.7L475 158.6L485.5 158.3L496 157.9L506.6 157.4L517.1 156.7L527.6 156L538.1 155.1L548.6 154.2L559.1 153.1L569.5 151.9L580 150.6L590.5 149.1L600.9 147.6L611.3 146L621.7 144.2L632.1 142.3L642.4 140.3L652.7 138.2L663 136L673.3 133.7L683.6 131.3L693.8 128.7L704 126.1L714.2 123.3L724.3 120.5L734.4 117.5L744.5 114.4L754.5 111.2L764.5 107.9L774.5 104.5L784.4 100.9L794.3 97.3L804.2 93.6L814 89.7L823.8 85.8L833.5 81.7L843.2 77.5L852.8 73.3L862.4 68.9L872 64.4L881.5 59.9L890.9 55.2L900.3 50.4L909.6 45.5L918.9 40.5M54 -18.7L62.6 -14.5L71.3 -10.3L80.1 -6.2L88.8 -2.2L97.7 1.7L106.5 5.5L115.4 9.2L124.4 12.8L133.3 16.3L142.4 19.7L151.4 23.1L160.5 26.3L169.6 29.4L178.8 32.4L188 35.3L197.2 38.2L206.4 40.9L215.7 43.5L225 46L234.4 48.5L243.7 50.8L253.1 53L262.5 55.1L271.9 57.1L281.4 59.1L290.9 60.9L300.4 62.6L309.9 64.2L319.4 65.7L328.9 67.1L338.5 68.4L348 69.6L357.6 70.7L367.2 71.7L376.8 72.5L386.4 73.3L396.1 74L405.7 74.6L415.3 75L424.9 75.4L434.6 75.6L444.2 75.8L453.9 75.9L463.5 75.8L473.2 75.6L482.8 75.4L492.4 75L502.1 74.5L511.7 74L521.3 73.3L530.9 72.5L540.5 71.6L550.1 70.6L559.7 69.5L569.3 68.3L578.8 67L588.3 65.6L597.9 64.1L607.4 62.5L616.9 60.8L626.3 59L635.8 57L645.2 55L654.6 52.9L664 50.7L673.4 48.4L682.7 45.9L692 43.4L701.3 40.8L710.5 38L719.7 35.2L728.9 32.3L738.1 29.3L747.2 26.1L756.3 22.9L765.3 19.6L774.4 16.2L783.3 12.7L792.3 9L801.2 5.3L810 1.5L818.9 -2.4L827.6 -6.4L836.4 -10.5L845 -14.7L853.7 -18.9L862.3 -23.3L870.8 -27.8L879.3 -32.3M92.3 -95.2L100.1 -91.3L108 -87.5L115.9 -83.8L123.8 -80.2L131.8 -76.7L139.8 -73.3L147.9 -69.9L155.9 -66.7L164.1 -63.5L172.2 -60.4L180.4 -57.4L188.6 -54.5L196.9 -51.7L205.1 -48.9L213.5 -46.3L221.8 -43.7L230.2 -41.3L238.5 -38.9L247 -36.6L255.4 -34.4L263.9 -32.3L272.3 -30.3L280.8 -28.4L289.4 -26.6L297.9 -24.9L306.5 -23.2L315.1 -21.7L323.7 -20.2L332.3 -18.9L340.9 -17.6L349.5 -16.4L358.2 -15.3L366.8 -14.4L375.5 -13.5L384.2 -12.7L392.9 -12L401.6 -11.4L410.3 -10.8L419 -10.4L427.7 -10.1L436.4 -9.9L445.1 -9.7L453.8 -9.7L462.6 -9.7L471.3 -9.9L480 -10.1L488.7 -10.4L497.4 -10.9L506.1 -11.4L514.8 -12L523.5 -12.7L532.2 -13.5L540.9 -14.4L549.5 -15.4L558.2 -16.5L566.8 -17.6L575.4 -18.9L584 -20.3L592.6 -21.7L601.2 -23.3L609.8 -24.9L618.3 -26.7L626.8 -28.5L635.3 -30.4L643.8 -32.4L652.3 -34.5L660.7 -36.7L669.1 -39L677.5 -41.4L685.9 -43.8L694.2 -46.4L702.5 -49.1L710.8 -51.8L719 -54.6L727.3 -57.5L735.4 -60.5L743.6 -63.6L751.7 -66.8L759.8 -70.1L767.8 -73.4L775.9 -76.9L783.8 -80.4L791.8 -84L799.7 -87.7L807.5 -91.5L815.3 -95.4L823.1 -99.3L830.8 -103.4L838.5 -107.5M-279.3 646L-263.4 614.1L-247.6 582.7L-232.1 551.8L-216.8 521.2L-201.6 491L-186.6 461L-171.7 431.4L-157 402L-142.3 372.7L-127.8 343.7L-113.3 314.8L-98.8 286L-84.4 257.3L-70.1 228.6L-55.7 200L-41.3 171.3L-26.9 142.5L-12.4 113.6L2.2 84.6L16.8 55.4L31.6 26L46.5 -3.8L61.6 -33.8L76.8 -64.3L92.3 -95.2L108.1 -126.6L124.2 -158.7L140.6 -191.5L157.5 -225.1M-117.3 716.6L-104.8 683.2L-92.6 650.3L-80.5 617.8L-68.5 585.7L-56.7 554L-45 522.7L-33.4 491.6L-22 460.8L-10.5 430.1L0.8 399.7L12.1 369.4L23.3 339.2L34.5 309.1L45.7 279.1L56.9 249L68.1 218.9L79.4 188.8L90.7 158.5L102 128.1L113.4 97.5L124.9 66.6L136.5 35.5L148.2 3.9L160.1 -28L172.2 -60.4L184.5 -93.4L197 -127L209.8 -161.4L223 -196.6M51.5 769.3L60.2 734.7L68.9 700.7L77.4 667.1L85.8 633.9L94.1 601.1L102.4 568.7L110.5 536.5L118.6 504.6L126.6 473L134.6 441.5L142.6 410.1L150.5 378.9L158.4 347.8L166.3 316.7L174.2 285.6L182.1 254.5L190 223.3L197.9 192L205.9 160.5L214 128.9L222.1 96.9L230.2 64.7L238.5 32.1L246.9 -0.9L255.4 -34.4L264 -68.5L272.9 -103.3L281.9 -138.9L291.2 -175.3M224.9 803.4L229.9 768.1L234.8 733.3L239.6 699L244.4 665.2L249.2 631.7L253.8 598.5L258.5 565.7L263.1 533.1L267.7 500.7L272.2 468.6L276.7 436.6L281.2 404.7L285.7 372.9L290.2 341.1L294.7 309.3L299.2 277.6L303.7 245.7L308.2 213.7L312.8 181.6L317.3 149.2L321.9 116.6L326.6 83.7L331.3 50.4L336 16.7L340.9 -17.6L345.8 -52.4L350.8 -88L356 -124.3L361.2 -161.6M401 818.6L402.2 783L403.3 747.9L404.4 713.3L405.5 679.1L406.6 645.3L407.7 611.8L408.7 578.7L409.8 545.8L410.8 513.1L411.9 480.6L412.9 448.3L414 416.2L415 384L416 352L417.1 319.9L418.1 287.8L419.1 255.7L420.2 223.4L421.2 190.9L422.3 158.3L423.3 125.4L424.4 92.1L425.5 58.5L426.6 24.5L427.7 -10.1L428.8 -45.3L430 -81.1L431.2 -117.8L432.4 -155.4M577.7 814.8L575 779.2L572.4 744.2L569.7 709.7L567.1 675.5L564.6 641.8L562 608.4L559.5 575.4L557 542.5L554.5 510L552.1 477.6L549.6 445.3L547.2 413.2L544.7 381.2L542.3 349.2L539.9 317.2L537.4 285.2L535 253.1L532.5 220.9L530.1 188.6L527.6 156L525.1 123.1L522.6 90L520 56.5L517.4 22.5L514.8 -12L512.1 -47.1L509.4 -82.9L506.6 -119.4L503.8 -157M753 791.8L746.5 756.8L740 722.3L733.7 688.2L727.4 654.6L721.2 621.3L715.1 588.4L709 555.8L703 523.5L697 491.3L691.1 459.4L685.2 427.6L679.3 396L673.4 364.4L667.5 332.8L661.7 301.3L655.8 269.7L649.9 238.1L644 206.4L638 174.4L632.1 142.3L626 109.9L619.9 77.3L613.8 44.2L607.5 10.7L601.2 -23.3L594.8 -57.9L588.2 -93.2L581.5 -129.2L574.6 -166.2M924.8 750.1L914.5 716L904.4 682.4L894.4 649.2L884.6 616.4L874.8 584L865.2 552L855.6 520.2L846.1 488.7L836.7 457.4L827.3 426.3L818 395.4L808.8 364.5L799.5 333.8L790.3 303L781 272.3L771.8 241.6L762.5 210.8L753.2 179.8L743.8 148.8L734.4 117.5L724.9 85.9L715.4 54.1L705.7 21.9L695.8 -10.7L685.9 -43.8L675.7 -77.5L665.4 -111.9L654.8 -147L644 -183.1M1091 690.1L1077.2 657.3L1063.5 625L1050 593.1L1036.6 561.6L1023.4 530.4L1010.4 499.6L997.5 469L984.6 438.7L971.9 408.6L959.2 378.7L946.6 349L934.1 319.3L921.6 289.7L909.1 260.2L896.6 230.6L884 201.1L871.5 171.4L858.9 141.7L846.2 111.8L833.5 81.7L820.7 51.4L807.7 20.8L794.6 -10.2L781.3 -41.6L767.8 -73.4L754.1 -105.8L740.1 -138.9L725.8 -172.7L711.2 -207.3M1249.9 612.5L1232.5 581.4L1215.4 550.7L1198.5 520.5L1181.9 490.6L1165.4 461L1149.1 431.8L1133 402.8L1116.9 374.1L1101 345.5L1085.2 317.2L1069.5 288.9L1053.8 260.8L1038.1 232.8L1022.5 204.7L1006.9 176.7L991.3 148.7L975.6 120.6L959.9 92.4L944.1 64L928.2 35.5L912.1 6.7L895.9 -22.3L879.6 -51.7L863 -81.5L846.1 -111.7L829 -142.4L811.5 -173.8L793.7 -205.8L775.3 -238.7" fill="none" stroke="#c3c6d2" stroke-width="0.45" opacity="0.6"/>
<path d="M170.2 157.7l1 1.9 6.5-3.8M158 162.8l13.1-2.9 1.1 3.5M140.2 265.5l4.8 1.5 4.8-12-6.1-2.6-14.4 4.9M140.2 265.5l-11.3-8.1M133.1 274.2l7.1-8.7M133.1 274.2l6 4.1 4.8-4 1.9-6.1-.8-1.2M151.9 254.1l8.6 4-7.3 11.9-7.4-1.8M151.9 254.1l-2.1 .9M141.7 243.5l2 8.9M173 189.2l2.6-10.5-13.8-1.5-.8 .4M152.2 190.4l8.1 8.8 5.2-1.9 2.9-6.9M171.7 166.6l-9.9 10.6M179.1 223.9l-11.1-2.9-1.7 9.4 6.3 4.8 3.4-.5 3.1-10.8 4.6-3.7 .8-5.2 7.4-3 7.3 7.8-.1 7-8.6 3.3-6.8-9.9M143.9 231.1l11.8 .6-2.1-14.8-5.3-4.5-5.4-.8M143.9 231.1l-4.1-13.5M138 238.9l5.9-7.8M159 203.3l1.3-4.1M159 203.3l-10.7 9.1M162.3 244.4l-6.4-6.8-5 5M165.8 250.3l-2.7 7.8-2.6 0M151.9 254.1l.5-2.3M156.4 232.3l9.9-1.9M156.4 232.3l-.5 5.3M168.1 245.9l4.5-10.7M156.4 232.3l-.7-.6M220 161.5l1.8 9.6-4.9 1.3-5.3-4.2 2.3-6.5 4.2-1.9 1.9 1.7 8.1 1.6 1.8-13.6M222 147.5l-3.9 12.3M215.3 146.2l-7.5 11.4 6.1 4.1M203.5 157.2l4.3 .4M200.8 154.5l2.7 2.7-1 5.9 5.2 6.7 3.9-1.6M225.1 172.1l-3.3-1M228.1 163.1l2.3 3.1-1.9 4.5-3.4 1.4-1.2 10.5-7.7-1.4-.7-1.7 1.4-7.1M238.4 151.6l-5.5 13.9-2.5 .7M157.9 274.6l-4.7-4.6M157.9 274.6l6.3-4.4 1.7-9.6-2.8-2.5M193.5 156.7l-4.6-3.3-6.4 1.8 3 10.8 6.5-1.5 1.5-7.8 7.3-2.2M173.8 166.1l7.1 4.8 4.6-4.9M192 164.5l3.3 2.9 7.2-4.3M165.6 208.9l7.9-1.2 2.3 3.6-8 9.2-5.5-3.4 3.3-8.2-6.6-5.6M165.5 197.3l8.1 5.7-.1 4.7M153.6 216.9l8.7 .2M168 221l-.2-.5M180.9 170.9l.1 .8-1.4 4.4-.6 .9-3.4 1.7M143.9 274.3l7.2 9.4 7-6.3-.2-2.8M775.4 167.3l-10 4.3-.9 2 .5 2.7M771.9 180.5l3.6 6.9 2.5-.5 5.5-7.3M764.5 173.6l-14.1-6.2M180.2 262.2l-14.3-1.6M195.3 167.4l1.6 5.9-8.8 1.2-7.1-2.8M179.6 176.1l10.7 7.4-2.2-9M199.4 242.5l6.4 14.5 7.4-4.9M202.2 240.2l-2.8 2.3-5.9 .4-5.4-7.6-7.7 1.2 .5 10.3 6 8.5M202.2 240.2l9.8 .4 1.7 3.6M139.1 278.3l-1 7 11.1 3.7 1.9-5.3M164.2 270.2l12.5 6.2M154.1 366.1l5.2 3.9-.8 5.1M138.1 285.3l-11.7 6.1M149.2 289l1.3 3.1-8.3 8.1-12.1 .9M217 407.7l-8.8-4.2-1.5 1.6-2.5 8.5M184.4 410.1l9.9-10.4 12.4 5.4M445.3 548.7l.5-10.2-7.6 .2 .4-7.3-8 1 .2 6.7 7.4-.3 1.1 8.1M767.4 190.1l6.5-.7 1.9 9.5-10.7-.4-.3 5.8-4.9 3.8-7.9-6 7-5.4 6 1.6 2.4-8.2-5.2-4.7-3.8 8.8-6.7-4.3M318.9 178.2l11.4 .7 .5 .6-3.5 11.9-.8 .5-8.1-2.2-.7-10.5 1.2-1 1.4-12.3M341.2 181l-.6 .4-9.8-1.9M193.5 242.9l-6.5 12.4M204.4 259.3l1.4-2.3M169.8 246.8l11.1 0M176 234.7l4.4 1.8M182 272.2l15 4.9 5.7-17.1M218.6 253.6l8.7-.5 3.2 12.6M227.3 253.1l.4-.7-4.2-9M214.3 234.9l7.5-2.6M214.3 234.9l-2.3 5.7M198 174.5l-2.1 9.5 3.1 1.3 7-1.7 1-6.9-1.9-3.1-7.1 .9-1.1-1.2M192.1 185.9l-1.8-2.4M192.1 185.9l3.8-1.9M207.7 169.8l-2.6 3.8M215.5 179.5l-8.5-2.8M203.1 192.6l-4.1-7.3M211.3 187.4l-2 7.5M211.3 187.4l-5.3-3.8M228.5 170.7l6.2 6.3M232.9 165.5l3.4 .9M234.4 180.3l-9 3.8-1.5-1.5M211.3 187.4l1.5-1 3.4-5.2M215.8 269.6l-4.7 11.3-12.9-2.1-1.2-1.7M230.8 283.9l-.6-16.2M230.8 283.9l-17.4-.1-2.3-2.9M184.6 359.4l6.1 11.2 6.5-4.7 2.2-13-10.4-1.1-4.4 7.6-2.2 .7-7.7-1.7 1.2-13.1-2.8-2.1-5 3-3.2 11.4-10-.2-.8 8.7M134.6 312.7l8.2 .1 3.4-7.1-4-5.5M259.6 425.8l21.2 3.7M592.2 216.3l-1.4-9.3M583.4 214.2l-.4-10.1M578 216.6l-1.7-1.3-2.1-8.1M347.6 476.3l2.9-1.1 4.7-8.2-4.9-6.7-8.9 4.3M350.5 475.2l11.5 7.5-1 9.4M423.6 531.6l-1-6.8-4.4-.3M227.7 252.4l6.2-3.7 7.9 7-8.8 10.7M341.2 181l11.7 .4-.9 12-12.1-1.2 .7-10.8M300 238.3l10.8-.4 1.5-7.2M327.3 191.4l12 1.5 .6-.7M338.4 204.3l-.4 12.4-1.8 1.2-10.7-3.1 2.5-10.4 10.4-.1 .4-.3 .5-11.1M326.5 191.9l.1 10.9 1.4 1.6M324.8 215.3l-2.2 11.1M334.5 233.2l1.7-15.3M324.8 215.3l.7-.5M225.1 228.8l1.6 .8M225.5 229l9.4 4.9-1.4 6.3-8.5 .5M233.9 248.7l1.5-3.7-1.9-4.8M246.3 180.9l-9.4-.2 1.8 11.7 4.8 .7 .5-.5 2.3-11.7 2.5-1.8M254.1 193.2l-10.1-.6M256.9 192.4l-2.8 .8-6.6 12.3-.4 .1-2.5-1.5-1.1-11M241.9 171.1l2.6-5.2 4-.3M241.9 171.1l6.5 6M239.5 171l2.4 .1M241.4 163l3.1 2.9M235.2 179.9l1.7 .8M261.7 167.7l-9.8-1.8M294.4 173.2l-10.6 .1 .2-12.8M257.4 181.2l4.7-12.9 8.9 2.2 .5 .7-1.5 11.5-12.6-1.5-.7 .4M261.7 167.7l.4 .6M275.8 159l-4.8 11.5M283.6 173.4l-12.1-2.2M209.4 195.5l-1.1 1.5M208.9 196.2l-6.3 8.6-7.6 .3-2.9-6.4M192.1 185.9l-5.3 7.5M175.8 211.3l7.2 2.7-.3-19.4-9.1 8.4M179 177l5.4 16.4M202.2 240.2l-1.1-11.8 8.4-.1 4.8 6.6M212.8 186.4l9.3 5.2-4.6 5.3M208.9 210.8l-6.3-6M208.9 210.8l6.2-1 2.3-8.3M225.4 184.1l.3 5.7-3.6 1.8M218 212.8l10.1-1.4M218 212.8l.1 8.1 5 3.6M206.4 216.5l6 6.4 5.7-2M208.9 210.8l-2.5 5.7-7.2 3.3M215.1 209.8l2.9 3M209.5 228.3l2.9-5.4M158.1 277.4l6.5 5.2 11.2-3.7M146.2 305.7l7.7 2 1.7-12.9-5.1-2.7M164.6 282.6l-1.8 11.6-7.2 .6M142.8 312.8l7.5 6-4.4 6.4-9.7-.2M146.6 338.2l1.1-.8 9.2 7.1-4.6 10.4-7.9-.9M146.6 338.2l-5 11.7M136.3 335.4l10.3 2.8M149.4 333l-3.5-7.8M149.4 333l-1.7 4.4M154.9 357.4l-2.6-2.5M156.9 344.5l1.9-.8 2.4-12.2 2.2-.2 9.7 8.6 10.6-13.6M149.4 333l11.4-1.6-4.9-12.3-2.4-1.6 2-7.1 7.9-2 6 3.6-3.2 7.1-10.3 0M158.8 343.7l9.3 2.5M164.9 357.6l3.1 3 6.7-2.2M175.9 345.3l10.8 3.2 2.3 3.3M159.3 370l9.1-2.2-.4-7.2M168.4 367.8l4 5.3-2.1 11.1M182.4 360.1l-6.3 11.5-3.7 1.5M190.7 370.6l-.7 3.3-13.9-2.3M231.5 428.6l7.3-6.3 18.4-.2 2.4 3.7M197.2 392.2l8.4-2.2 4.3 6.8-1.7 6.7M194.3 399.7l2.9-7.5-6-4.9-6.4 2.9-14.5-4.4M221.2 398.9l-2.7-1.6-8.6-.5M686.2 520.5l.2 4.8-10.6-.4M680.2 517.7l-4.7 5.4-.6 1.3M680.2 517.7l6 2.8 2-2.3 5.6-.6 1 5.7 6.6 5.6M688.3 525.4l-1.9-.1-1 7.5M688.3 525.4l6 7.1-7.9 2.5M700.1 532.4l-5.8 .1M694.8 523.3l-6.5 2.1M478.2 184.7l8.5 1.6 2.9-4.3M486.7 186.3l.9 9.1 6.6-.6 4.8-13.8M467.9 175.2l3.4 10.1-6.4 4.7-8.7-11.4M476 186.5l-4.7-1.2M478.2 184.7l-2.2 1.8 1.6 9.8-2.4 1.1-4 8-8.2 3.1M548.6 249.1l-1.2-6.8-5.4 .8-.1 5.7 .4 .3 5.7 .6 .6-.6 5.6-.7 .3-.3-1.3-6-5.7 .1-.1-6.1 6-.4 .7 5.2-.9 1.2M546.9 230.5l-.7-.7-5.7 .2-.4 .3 .3 5.7 .4 .4 5.9-1 .2-4.9 5.8-1.2 .8 6.3 5.9-1M552.8 229.1l5.2-.7M302.8 443.8l.9-9.9 15.3 .5 6 5.3-.2 2.4M332.1 454.8l13.1-4.1 4.9 4.8 .2 4.8M423.6 531.6l6-.3 1 1.1M414.8 518.6l1.3-1.4 7.4 .2-.1 6.8-.8 .6M430.6 524.8l-1 6.5M430.6 524.8l-.4-.5-6.8-.1M759.9 208.1l0 1.5-6.6 4.2M338 216.7l11 1.6-1.2 9.4M313 240.4l-2.2-2.5M332.5 235.7l-.1 .9-4.1 3.6-15.3 .2-1.7 11.7 12.6 3.3 4.4-15.2M353.1 242.9l7.3-5.1M353.1 242.9l-12.9 .6-7.8-6.9M291.3 244l-5.2-9.9M291.5 244.6l-5.6 .2-9.6-8.5M280 251.6l-5.3-5.5-1-9.1 .4-.4M280 251.6l5.9-6.8M276 218.9l10.4 4.3-.4 7.6M274.8 219.7l1.2-.8 1.3-9.4 1.1-.8-.1-12.5-11.5-.2-3.4 2.4M274.8 219.7l-2.4 12.7M261.5 225.7l-2.9 1-3.4-.9 .5-10.5 .3-.4M274.8 219.7l-8.9-.9M265.7 254.3l9-8.2M273.7 237l-8.9 2.9-2.1 6.4 2.6 7.8 .4 .2 3.6 5-5.1 8.2-3.3-1.5-6.8-8.7-3.1 1-2.8 11.2M258.6 226.7l1.4 10.8 4.8 2.4M241.8 255.7l4.1-.5 5.1 3.1M262.7 246.3l-7.8 .6-.6 10.2 11-3M294.4 173.2l1.6 2.1 10.8 1.8 2.2-12.5M317.7 179.2l-10.8-1.9-2.2 11 11.6 2.8-2.4 9.2-11.5-.4 .8 11.1 9 2.1 1.3-.8 11.3 3M277.3 209.5l-11-3.3-3.2-4.7M264.3 213.7l2-7.5M270 182.7l.3 .4-3.5 12.9M254.4 206.5l-6.9-1M352 193.4l.4 .6 10 .4 2.8-10.7-.9-1.1-11.2-1.3M326.6 202.8l-10.7 .3-2.4 9.2M237.7 216.6l-1.4 4.7 4.4 7 7.5-3.4-1.8-8.5-.7-.8-8 1-4.2-6.5M227.1 223.1l9.2-1.8M234.9 233.9l4.5-2.2 1.3-3.4M255.7 215.3l-9.3 1.1M247.1 205.6l-1.4 10M252.6 226.4l2.6-.6M252.6 226.4l-4.4-1.5M183 214l1.5 1M188.1 235.3l2.4-5.2M195 205.1l-3.1 6.9M201.1 228.4l-2-1.6M226.6 199l.7-7.7 4.6 .9M225.7 189.8l1.6 1.5M244.6 204.1l-11.3 2.3M238.7 192.4l-3.7 1.1M162.8 294.2l2.2 1.4 6.4 .6M198.2 278.8l-5.6 16.8-.5 .3-12.5-4.7M165 295.6l-1.6 12.8M153.9 307.7l1.6 2.7M150.3 318.8l3.2-1.3M176 310.4l-6.6 1.6M192.1 295.9l-4.3 15.5-3.4 2.7M183.5 325.7l-14.8-1-5.3 6.6M173.1 343.2l0-3.3M186.7 348.5l3.8-15.7M166.2 319.1l2.5 5.6M170.2 385.8l19.9-7.8 1.1 9.3M184.4 410.1l.4-19.9M190.8 376.2l-.8-2.3M190.8 376.2l-.7 1.8M261.2 405.9l-1 .8-18.8-3.8-.9-1.1 5.2-19.3 16.8 5.9-1.3 17.5 19.6 3.2 2.8-19.8-16.2-4-4.9 3.1M238.8 422.3l2.6-19.4M257.2 422.1l3-15.4M267.4 385.3l.7-18.1-16.9-2.2-5.6 17.3-18.9-4.3M228.8 400.7l11.7 1.1M290.5 430.4l13.1 3.3 3.2-14.8-.9-1 0-11.6 1.4-1.3 13.6 .3 .2 .3-3 13.9-11.3-.6M197.2 365.9l5.4 2.5-.5 9.3-11.3-1.5M205.6 390l3.3-7.5-6.8-4.8M218.5 397.3l1.8-20.9-11.4 6.1M558.9 479.3l-4.4 8.1-5.1-2.1-.6-3 2.1-3.1 8 .1 .7-.5M443.9 175.3l-2 9.5-6-.9-6.6 .6-1.8-9.5M371.8 262.4l11.5-3.6-2.8-8.3-6.8-5.7 13.7-2.9 0 7.1-6.9 1.5M373.7 233.1l10.5 .1 3.3 8.6 7.3-1 1.9 7.7-6.1 4.8-1 4.8 6.9 3.6 6-4.5-.2-5.9-5.6-2.8M466.6 288.3l1.7-.1 .3-.3 0-4.2-4.8-1-1.9 1.9M467.6 254.3l-5.1 0M467.6 254.3l.7-5.6-.7-.6-5.3 .2M460.3 242.9l7.1-.3 .2 5.5M479.7 282.6l-5.2 1.1-.3 4.3 .5 .8 4.9-.2 .1-6 4.6 .7 .6 5.1 5.5-.4 .4 5.4 5.2-.3-.1-5.2 4.8-.1-.2-5.5-4.6-.1-.3 5.5-5.1 .2-.4-5.2 5.7-.6-.4-4.3 5.5-1.2 .4 .4 4-.1 .7-5.9 4.4 .3 .4 .3 .3 5-5.1 .8-.7-.5M540.4 236l-5.9 .6-.6-5.6 .9-1.2 5.3 .5M546.7 235.4l.7 .7M541.4 242.6l.6 .5M540.8 236.4l.6 6.2-6 .5-1.2-6.2-5.3 .6-1.5-6.1-4.8 .1-.7 .6 .2 6.1-6.5 0 .9-6.1 5.4 0M560.1 241l0-2.5M560.1 241l-1.9 0M557.5 240.9l-3.4 0M538.7 217.6l1.1 5.8 .7 .5 5.5-.3 3.3-3M532.6 224.7l1.5-6M532.6 224.7l1.2 .9 6-2.2M540.5 230l0-6.1M546.2 229.8l-.2-6.2M550.7 220.7l2.1 8.4M533.8 225.6l1 4.2M385.6 468.5l3.1-3.1 7.1 .1 .2 7.4-.3 .2-7.4-.7M396 472.9l6.2-.2 1-6.7-6.9-1.1-.5 .6M425 459.7l-6.9-1 .4-6.7 6.6 .1 .6-6.2-.8-.9 .3-6.4 6.7-.1-.2 7.1-6 .3M425 459.7l.6-.6-.3-6.8 7.2-.1-.4 7.2 7.2-.5 .5 .6-.9 6.9 .4 7.5-7.5 0 .1 6.8 6.9 .4 .3-.3 .9-6.3-.7-.6M439.2 424.3l7.4-.7-.4 7.6 6.3 .1 1.1-6.3-3.1-4.2M439.2 424.3l1.1 5.5 5.9 1.5-1.4 6.6-4.9 .7-1.5-6.7-5.9-.1 .5-7.3 6.2-.3 .6-7.1M348.7 408.2l-1.3 13.9-12.9-.5-.5-.7-.3-12.6 .4-.4 14.6 .3 .6-.6 13.4 1.5-1.4 14.3 .9 .9-.6 13.1-14.8-.2-.9 .9-.1 2.9M332 434.1l-7 5.6M319 434.4l-.4-14.4 15.4 .9M332 434.1l2.5-12.5M467.6 495.8l.8 .8 6.9-.6-.6-7.1-6.5-.2-.6 7.1-6.6 .6-.3-7.6 7-.5 .5 .4M332 434.1l13.9 4M345.2 450.7l1.2-5.5M350.1 455.5l10.2-3.8M348.8 423.3l-1.4-1.2M348.8 423.3l-2 13.9M348.8 423.3l12.5 .1M395.7 473.1l-.3 7.1-3.4 3.1M415.9 496.1l.9 7.1-7.9 0 .7-7.3 6.3 .2 1.3-1.2-1.5-7-5.3 .3-1.2 7.2-7.5-.8M708.1 209.1l5.9 4.2 3.3-6.4M700.2 220.6l6.4 1.1 2.1-2.4-4.3-8.9M698.2 217.6l2 3-.8 4.8 5.1 3.5 .2 1.3-3.8 4-4.1-.8 0-5.8 2.6-2.2M714 213.3l.7 1.2-3.8 4.6-2.2 .2M717.4 221.1l-3.1 1.7-3.4-3.7M715.8 214.8l1.6 6.3 3.2 .6 .5 5.4 4.7 .5M714.7 214.5l1.1 .3 1.8-.3 6.4 3.2M734.3 204.5l-.7-2.6M734.3 204.5l3.2 4.7 3.4 .6M746.7 214.9l3.5-2.7M748.4 204.4l-2.7 .1M746.7 214.9l-4.5-1.3M746.7 214.9l.6 5.4-7.6 .4M759 196.7l-.6-2.5M775.5 187.4l-1.6 2M688.2 518.2l-2.7-5.8 4-1.9 5.8 4.5-1.5 2.6M750.5 226.7l3.7-4M750.5 226.7l-2.4-1.4-.1-4.2 5.3-1.7M745.1 227.2l-3.1-.1M745.1 227.2l3-1.9M747.3 220.3l.7 .8M764.1 216.3l-4.2-6.7M253.7 245.5l-7.6 0-1.2-1.6 1-5.9 4.7-1.8 4.8 2.6-1.7 6.7 1.2 1.4M245.9 255.2l.2-9.7M260 237.5l-4.6 1.3M252.6 226.4l-2 9.8M239.4 231.7l6.5 6.3M235.4 245l9.5-1.1M282.3 183.3l9.9 3.3-2 10.9-10.7-2.4 .3-9.9 2.5-1.9 1.3-9.9M296 175.3l-3.2 11-.6 .3M270.3 183.1l9.5 2.1M278.3 196.2l1.2-1.1M291.5 199.5l-3.4 9.1-9.7 .1M291.5 199.5l-1.3-2M349.4 205.5l1.4-1 10.2 2.4-.3 10.9-.7 .6-10.7-.3 .1-12.6-10.6-1.5M352.4 194l-1.6 10.5M361.5 236.3l-1.5-17.9M313.5 227l-1.9-2.5 .6-11.4M299.1 229.1l.8-6 11.7 1.4M303.9 189l.8-.7M303.9 189l-1.6 10.8-10.8-.3M318.4 189.7l-2.1 1.4M315.9 203.1l-2-2.8M292.8 186.3l11.1 2.7M388.7 465.4l0-6.6 .7-.6 6.6-.1 .5 .5-.2 6.3M389.7 450.3l-.9 .9 .6 7M389.7 450.3l6.4 1.8-.1 6M396.7 444.2l-6.4-.2-.6 6.3M396.7 444.2l-.2 7.5-.4 .4M403.2 458.2l7.4 .7-1.1 7.1-5.6-.6-.7-7.2-6.7 .4M403.2 466l.7-.6M410.1 466.7l-.6-.7M410.1 466.7l7.3 0-.3-7-6.1-1.1-.4 .3M390.3 444l-7.9 .4 .1 6.7 6.3 .1M388.7 458.8l-6.5-.8 .1-6.7-6.4-.3-.7-.9 1.1-6.8 5.8 .8 1.4-7.2-6.4-.8-1.2 6.8 .4 .4M376.6 435.4l-4.7 0M376.6 435.4l.5 .7M371.4 442.5l4.5 .4M390.3 444l-.7-6.5 7.4-.7-.1 7.2 5.7 .4 1.3-6.3-6.6-1.7-.3 .4M440.7 381.7l-5.3 .2-.5 6.3 6.1 1.2 1-1.1-1.3-6.6M449.8 420.6l-3.2 3M376.5 280.2l1.8-1.8 6.7 3.4-.7 7-5.4 1.4-2.3-2.5-.1-7.5-5.9-.8M447.1 330.2l-5.4 0-.5-8.2M447.1 330.2l.6-7.4M427.6 382.2l7.3-.7-.6-6.7-6.3-.7-.9 .9 .5 7.2M421.1 381.6l6.4 .7-.3 5.5-6.4 1.1-.6-6.6 .9-.7 0-6.3 6-.3M466.6 355.3l6.2-.1-.3 6.1-5.9 .8-.9-1 .9-5.8-.5-.6-6.6-.4-.3 .3 .8 6.4 5.7 .1M453.6 361.4l.6 .5 5.6-.7 .3 6.8M453.6 361.4l.6-6.5 5-.3M280.8 409.1l2.2 3M283.6 389.3l5.7-4M213.4 283.8l-1.5 15.7 13.2 3 6.7-17.5-1-1.1M192.6 295.6l17.7 4.9 1.6-1M187.8 311.4l18.6 4.5 3.9-15.4M334.1 407.9l2.6-13 1.3-.9 10.6 .9 .7 12.7M235.6 357.3l-17-5.9-5.9 5.1M202.6 368.4l10.1-3.9M200.8 352.4l-1.4 .5M220.1 338.8l-1.5 12.6M220.1 338.8l15.5-1M251.2 365l-4.4-7.3M269 366.5l-.9 .7M271 357.4l-2 9.1 19 4.1-.3-12.9M500 477.3l5.7 .8-3.4-9.6M516.1 471.1l-1.8 3.5-.8 .5-3.3-.7-1.4-4.1 5-2.5 2.3 3.3 5.7-.1 .3-.5-3.2-6.2-4.4 .3-.7 3.2M514.2 480.3l-.7-5.2M507.4 482.7l6.8-2.4 2.4 1.1 3.5-1.8 .3-2.4 1.8-2.7 4.5 1.9-1 4-3.2 1.2-2.4-2M507.4 482.7l-.9-4.1 3.7-4.2M506.8 484.5l.6-1.8M506.5 478.6l-.8-.5M555.1 489.5l-.6-2.1M550.9 479.2l-2.6-4.4 5.4-2.5M514.3 474.6l6.1 2.6M521.8 471l.4 3.5M529.6 475.6l-2.9 .8M529.6 475.6l2.6 4.9-1.9 2.7-4.6-2.8M541.3 472.6l-4.4 2.6-.3 4.3 4.7 1.8 2.1-1.6 1.2-4-3.3-3.1-.1-3.2-2-1.7-.8-3.5M548.8 482.3l-5.4-2.6M548 474.7l-3.4 1M530.7 473.2l3.1-.3 3.1 2.3M529.6 475.6l1.1-2.4-1.6-2.7-3.2-1.8-3.8 1.8M532.2 480.5l3.3-.4 1.1-.6M569.1 215.8l-.2 4.2M576.3 215.3l-7.2 .5-1.1-.8-.7-4.7M473.3 354.7l-.4-5.7 5.3-1.3 1.7 1.8-1 5.9-5.6-.7-.5 .5M462.2 293l-1.6-1.5 0-6.4M459.6 278.2l4.4-.1-.1-5-4.4 .1M463.8 282.7l.5-4.3 4 0 1.3 4.3 3.7-.2 .6-4.6-5.1 0-.5 .5M448.8 320.8l.1-5.6-5.5-.6-.7 6M505.6 270.6l-5.5 1.2-.5-6.1M506 271l-.4-.4-.6-4.7M500.9 276.6l-1-4.5-4.4-.1-.4 .4 .1 5.2-5.3-.1 .3-5.1 4.9 0M516.9 286.5l-5.2 .2 0-4.8 4.7-.4 .5 5 .5 .4 0 4.4 5.3 .8 .3-.3 5.4-.2 1.7 1.4M515.7 276.7l1.2 4.2-.5 .6M515.7 276.7l-4.6-.1 .4 5.1-5.2 .4-.3-4.7M506.3 282.1l-.5 .8-5.2-.7 .7-5.2M511.6 286.9l-5.3-.2-.5-3.8M506.2 286.9l.5 5.8 5.2-1-.3-4.8M479.6 272.3l0-5.6M479.6 272.3l5.2 0-.2 4.8 5.2 .6 0 4.6-4.9 .5-.3-5.6-4.5 .4-1-4.7-5.2-.1 .1 5 5.4 .7 .7-.9M485.1 272.1l-.7-6M517.1 275.2l-1.4 1.5M517.1 275.2l-.9-4.1-.7-.6-4.7 1.1M516.1 192l-9.2 5.4 4.5 7.2M521.3 197.5l-5.2-5.5-1-3.8M494.2 194.8l5.1 3 4.9-1.7 1.6-11.7M504.2 196.1l2.7 1.3M529.2 210.9l9.2 1.4 .3-.5-.9-5.3M514.1 213l-3.8-2.4M520.1 212.6l-6 .4 1.3 6.5 5.5-.1 .7 5.4 6.8 0-.8 6.4 6.3-.2M520.1 212.6l2.7-3.2M538.8 217l-.4-4.7M547.3 198.7l1 8.3-1.7 2.4-7.9 2.4M546.6 209.4l-.2 7.9M475.2 197.4l-10.6-4.1-5 4.7M474.6 207.7l2 8.8M474.6 207.7l-3.4-2.3M464.9 190l-.3 3.3M481.1 207.1l3.3 4.1 5.9-4.9-3.7-10-4.9 1.1-.6 9.7-6.5 .6M484 214.6l.4-3.4M477.6 196.3l4.1 1.1M487.6 195.4l-1 .9M383.3 258.8l2.9 .7-.4 11M384.2 233.2l3.5-3.4 2.9 .8 4.3 10.1 5.7-3.1 1.2-5.8 9.2 1.8 .4 6.3-5 1.6-5.8-3.9M362.4 194.4l2.4 2.9 10.3-.7M365.2 183.7l10.9 2.5M361 206.9l1.7-1.3 2.1-8.3M360.7 217.8l12.4 .4M386.4 224.2l1.3 5.6M386.2 186.9l8.6 .9 2.8-13.9M386.2 186.9l2.7-13.7M379.3 190.8l.6 0 6.3-3.9M364.3 182.6l2.9-11.3M394.9 187.9l7.1 1.1 2.5-3.5-.4-11.4M462.7 260.7l5.5-1.1-.3-5 6.1-.3 .5 5.6 5.2-.2 1.2 4.6M468.6 264.3l-.3-4.7 6.2 .4-.5 4.3M442.9 224.9l.1 6.5 6.1 .5 .6-.5-.5-6.4M457.2 214l-7.4 .1 .3 8.3M449.6 207.2l6.3 0M449.6 213.9l0-6.7-.6-.6 .9-7.3-6.9-.2-.5 7.8 6.5-.3M448.6 251l6.8 0-.2-6-5.7-.5-.9 6.5-.6 .4-5.3-.8-.7 7.4-6.5-1 .3 6.9 6 .2 .6-5.7-.4-.4M449.4 244.4l-7.2 .1 .2 5.9-6.3 1-.6 5.5-6.4 .7-.6-6.8 7 0 .6 .6M458.6 241.5l-3.4 3.5M455.7 251.4l4.6 0M455.7 251.4l-.3-.4M467.8 242.2l5.3-.2 .3-4.8-5.4-1.1-1.1 1.1 .9 5-.4 .4M479.9 288.7l4.9-.3 .2 5.5 5.5-.1 .6 4.5 4.9 .5 .6 5-6 .2 .9 5.1M464.2 272.7l-.9-4.8-3.4 0M463.4 267.8l5.1-1.1 .3 5.7-4.6 .3-.3 .4M463.4 267.8l-.2-3.7M468.5 266.7l.8-.9M474.3 266.4l-.7 6.1-4.5 .1-.3 5.3M479.6 272.3l-.5 .6M473.9 272.8l-.3-.3M542.5 255.6l.2 6 5.8-.9 0-5.4 5.8-.2 .8 4.9-5.6 1.7-1-1M542.5 255.6l5.8-.4-.3-5.5M535.9 255.7l6.4-.3 0-6.3M535.9 255.7l1.7 6.8 5-.7 1.8 5.9 5.5-1.1-.4-4.9M530.2 257l5.5-1.4 0-5.5-7-.5 .6-5.5 5.5-.3 1 6.1 6.1-1.1M537.6 262.5l-.3 .3-7.1-.1-.5-.5 .5-5.2-.7-.6-.9-6.7-6 .4 .6 6.1 6.3 .2M588.2 226l2.6 1.9 5.3-.9-.9-6.9M601.2 222.2l-.2 4.7-4.5 .3-.4-.2M548.3 207l1.2 .8M548.8 207.4l4.5 3 6.6-1.1 .9 7-7.3 1.5-1.5 2.3M562.9 225.9l-1.1-8.7-1-.9M568 215l-6.2 2.2M553.3 210.4l.2 7.4M403.2 473.6l6.2-1 1 1.1 .1 6-1.3 1.1-5.7-1-.3-6.2-1-.9M410.1 466.7l-.7 5.9M395.4 480.2l6.5 .9 1.6-1.3M425 459.7l-.6 6.1-7 .9 .5 6.5 5.9 1.4 .2 5.5-6.9 1.5-1-1.1 1.7-7.2-7.4 .4M418.1 458.7l-1 1M410.5 479.7l5.6 .8M424.4 465.8l.5 .6 0 7.2-1.1 1M424.9 473.6l6.8 .2 .5-7-7.3-.4M432.2 466.8l.4-.4 6.3 0 7.5 .6 .7-7-.4-.3-6.9-.2M425.6 459.1l6.2 .5 .8 6.8M446.3 452.5l-7.1-.1 .1 6.5M446.3 452.5l.6 .6-.2 6.6M453.6 445.8l-.4 6.5-6.3 .8M446.3 452.5l.3-6.6 .4-.4 6.6 .3M496.9 481l-7.3-.3 .1 8.2M475.9 487.8l-.3-6.2 6.9-1.2 .5 .4 .4 8.2-7.5-1.2-1.2 1.1M478.2 498.4l-2.9-2.4M486 491.6l-2.6-2.6M489.4 480.5l-6.4 .3M369 446l-.2 3.6-3.3 3.3M368.8 449.6l6.4 .5M382.4 444.4l-.3-.3M377.3 482l-3.6-4.4 8-9.1M362 482.7l7-6.2 4.7 1.1M399.4 491.3l3.1-3.5 7-.4 .9 .8M401.9 481.1l.6 6.7M405.9 506.1l3-2.9M409.6 495.9l-.4-.5M409.2 480.8l.3 6.6M423.2 510.3l-6.2 .1-.9 6.8M423.2 510.3l1.5-1.6-.7-5.3-1.3-1.1-5.9 .9 .1 7.1-9.7-1M424.6 516.5l-1.1 .9M424.6 516.5l-1.4-6.2M431.4 502.5l-.6 7.1-6.1-.9M431 502l.4 .5 7 .6 .5 6.4 6.4 .8 .7 7.5 4.1 4.3M431 502l-7 1.4M417.1 481.6l-.1 5.2-1.3 1.1M437.5 525.1l1.2 6.3 10.2 0M437.5 525.1l.5-.6 11.4-1.1M430.6 524.8l6.9 .3M437.8 517.4l8.2 .4M437.8 517.4l.2 7.1M445.8 538.5l3.5-3.5M468.6 503.6l-8.1-.9 0 7M437.6 517.1l1-7.4-7.7 0-.6 7.3-5.7-.5M437.6 517.1l-7.1 .1-.3 7.1M460.5 502.7l-.3-.4 .7-5.9-7.5-1.5-.1 8 6.9-.6M468.6 503.6l-.2-7M622.3 252.7l-5.2-.2-.3-8.9M737.7 232.4l-3 5.4M737.7 232.4l-7-.4M733.9 227l-4.4 2.9M738.8 231l-4.9-4 4.3-4.7 .7-.2M737.7 232.4l1.2-.9M727.9 221.7l3.3 .6 3-1.6-1.5-3.8-5.7 2.9M733.9 227l-2.7-4.7M738.2 222.3l-4-1.6M721.1 209.3l-3.5 5.2M720.6 221.7l3.4-3.6M728.4 211.7l-4.3-6.8M728.4 211.7l-3.6 4.8M706.6 221.7l.7 2.9 3.9 1.8 2.8-1 .3-2.6M733.1 215.8l-4.5-4.1 1.6-.9 5.7 .2-1 4.1-1.8 .7-.4 1.1M739.1 217.2l-4.2-2.1M737.5 209.2l-1.6 1.8M734.3 204.5l-4.1 6.3M665.3 512.4l3.2-3.4-5.3-5.4M348.6 394.9l1.4-1.1 1.7-11.5 12.9 .3 1.9-2.1-1.4-8.7M338 394l-1.5-15 1.1-1 13.8 4 3.2-15.4M299.2 222.1l2.4-9.8-12.4-2.3-.4 11.1 10.4 1 .7 1M303.2 211l-1.6 1.3M286.4 223.2l2.4-2.1M288.1 208.6l1.1 1.4M434.6 395.8l6-.3 .5-.5-.1-5.6M434.9 388.2l-.6 .5 .1 6.9-6.7-.2 0-7.1-.5-.5M421.1 394.6l-.4-5.6-5.7-.3M421.1 394.6l6.2 1.2 .4-.4M420.5 395.1l.6-.5M414.8 395.2l5.7-.1-.5 6.9 6.7-.5 .7 .9-1 6.9 7.3-.5 .6 .7 6.8-.2 .3-.3-.3-5.6-6.8-.9-.4 .4-.2 5.9M435.4 381.9l-.5-.4M434.3 388.7l-6.6-.4M418.4 423.5l.4-7.2-7.3 .8 .6 5.9 6.3 .5M425.7 430.8l-.4-.5-6.4 1 .4 6.5 5.7 .6 .7-7.6 6.7 1-.4 6.6 7 1 .9-.8M417.8 430.4l1.1 .9M411.8 431l6-.6 .8-6.7 6.8 .3 .5-7.4 .8-.8M419.3 437.8l-.7 .5-7.4-.8 .6-6.5-.3-.3-.4-6.7 1-1M362.2 424.3l2.6 0M376.6 435.4l.7-6-4.7-.6M418.9 416.2l-.8-5.9M411.5 417.1l-.4-.4 .6-6.9 1-.8M405.6 401.6l7 .1M405.6 401.6l-.3 7.5 6.4 .7M383.5 436.9l.9-.6 4.7 .6 .5 .6M432.5 416.7l.4 7.6-7.3-.1-.3 6.1M418.9 416.2l7 .4M455.2 402.3l-6 1.2-1.7-1.6 .4-6.3 7.2 .2 .1 6.5 .6 .6 .3 7.1 5.8 .2 .8 6M440.6 395.5l1 7.3 5.9-.9M441.1 395l6.5 .3 .3 .3M434.6 395.8l-.3 6.7M441.6 402.8l-.5 .6M448 410.1l.5-.4 .7-6.2M448 410.1l-6.6-1.1M434 414.5l.3-5M440.4 415.4l.7-6.1M448.1 417.5l-.1-7.4M455.4 416.8l.5-6.7-7.4-.4M455.1 368.6l-.5 6.2-6 0 .2-5.9M454.2 361.9l-.2 5.7M447.7 361l-.4 .4 .4 5.9M447.7 361l5.9 .4M379.2 272.2l-.9 6.2M385 281.8l3.1-2.2 1.2-6.8M447.1 330.2l6.5 0 1-7.6M416.1 336.5l-.1 5.3 6.3 .9 1-1-.9-5.2-6.3 0M422 347.9l.3-5.2M416.1 348l5.9-.1 .9 1.1 5.3-.3 1.2 5.8-.9 .9 .2 5.6 5.1 .3 .7 6M415.7 342.1l.4 5.9M415.7 342.1l.3-.3M434.3 374.8l.3-.3 6.9-1 .9 1.1-1.4 6.9 7 .8 .5-.5 6.6 .1 .5 6.4-.5 .5-6.9-.3-.4-.4 .2-5.8M448.1 375.2l.5-.4M442.4 374.6l5.7 .6 .4 6.6M441.5 373.5l.2-4.6M447.3 361.4l-6.1 .5-1 5M434.6 374.5l-.1-6M441.2 361.9l-.4-.5-5.7-1.3-1.3 1.2M429.4 354.5l5.5 .1 .2 5.5M462.3 373.9l-.8-5M462.3 373.9l6.6 .3 .1-5.4M461.5 374.9l-5.9 .8-1-.9M461.5 374.9l.8-1M466.6 362.1l-.1 4.3M472.5 348.7l.4 .3M472.5 348.7l-6 .3-.4 5.7M292 417.5l13.9 .4M318.6 420l-.5-.5M298.1 404.4l7.8 1.9M333.7 408.3l-12.6-2.7M336.7 394.9l-15.2-2.7-.6 13.1M308 391.5l-.7 13.5M295.8 389.6l12.2 1.9 1.8-1.1 11.6 1.6 3.8-12.7-1.6-1.8-13.6-1.2-.2 14.1M239.6 306l-14.1-2.9-2.1 16.8 15 3.1M231.8 285l10.7 2.2M225.1 302.5l.4 .6M207.4 318l15.6 2.1-3.1 18.3-16.3-5.4M207.4 318l-4.6 14M223.4 319.9l-.4 .2M206.4 315.9l1 2.1M260.9 266l-9.3 3.5M269.3 259.3l7.6 1.3 3.2-8.7 9.9 2.1M336.5 379l-11.3 .3M241.4 323.9l12.6 3.5-2.1 11-12.7-1.8M249.6 351l2.7-11.9-.4-.7M601.3 458.4l0 8.8M594.5 457.9l.6 10.1M616 474.9l2.5-3.1 7.7-2.9 3.1 .3 1.9 1.2M617.9 464.1l.3-.5 4.4-.5 3.6 5.8M617.9 464.1l.6 7.7M612.6 456.7l-.1 7.6-1.6 1.5-1.9-1-2.4-7.4M602.8 467.3l6.2-2.5M606.8 448.4l.6 .4 .7 7.2M600.7 457.1l.4-8.6 5.7-.1-.4-6.8-.5-.4 0-5.6-6.8 .8-5.7 .4-.9-5.7 5.9-.4-.4-6.1-6.1 .6-.5-6.1 4.9-1.3 .9-1-.6-5-.4-.3-6.1 .4-.6 .7 1.7 6.3-6 1 .7 5.7-.7 .7-5.4 0-.5-5.7-.8-.7 .2-6 5.6 0 .7 5.9-5.7 .8M611.8 470.1l-.9-4.3M617.9 464.1l-5.4 .2M661.3 500.5l3.6-6.1-.8-2.2-7-3.3M508.8 470.3l-4.3-2.2-1.5 0M514.5 464.6l-1.7-2.1-2.1-1-6.2 6.6M560.3 472.4l-.1-4.9 5.8-.2 .5 3.1M560.2 467.5l-.4-.5-5.9 .2M560 457l5-1.6-.9-4.3-4.6 0-.7 4.9 1.2 1 .3 4.7-5.7-.2M565.3 455.7l-.4 6-4.5 .2-.6 5.1M530.3 483.2l-.7 4.6M535.5 480.1l.8 7.1-2.6 1.8M522.5 481.6l.7 5.1M516.6 481.4l0 5.4M539.3 414.2l-3.6 .4M539.3 414.2l0-5.5-1.7-1.3M534.3 419.7l5.8-.6 .3-3.9-1.1-1M544.9 413.9l.3-.5-1.5-4.7-4.4 0M540.4 415.2l4.5-1.3 1.4 5 4.2-.1 .5-5-1.3-1-4.5 .6M537 406.8l-6.9-.1-.3 4.9 .9 .9 3.2 .2M517.2 388.3l6 .3 0 5.3 5.3 .4 .7-.7-.4-5.6-5.1 .1-.5 .5M517.2 388.3l-.8 .8 .8 5.5-6.1 1.1 .2 5.5-5.2 1-1-.7-.1-6.1 5.9 .2-.4-5.8 1.4-1.2 4.5 .5M517.5 394.8l5.5-.6 .8 6.4 5.4-.6 1 .7-.3 5.8-6.2-.2-.8-4.9 .9-.8M572.5 414.1l6-.4-.3-5.6 5.4-.8 1.9 5.4-1.2 1.2M570.8 421.1l7.7-1.2M586.1 432l-.9-5.7M592.3 431l-.5-5.6-5.9 .2M586.6 432.3l5.7-1.3M586.6 432.3l-.5-.3-5.6 .8 .5 5.2 .7 .6 5.4-1.1 5.9-.2 .4-.5M557.1 423.8l-.6-5.2-5.7 .6 .5 5.3 5.8-.7M567.3 372.5l5.1-.8-.4 4.6-3.7 .6-1-4.4-.8-.5M572 376.3l1.1 .9 4.1-1.5-1.2-2.2-3.5-1.9 .8-3.7M577.2 375.7l.8 .5 .1 3.3 3.2 1.9 3.5-1-2.5-4-3.4-.6 2.6-4.3 1.4-.4 1.2 1 .5 1.5-2.3 2.8M572.6 381.2l5.4-1.6-1.5 6-2 0-1.4-1.1-.6-3.1-3.6-1-.9-2.7 .3-.8M572.6 381.2l.5-4M511.9 388.6l-1-4.9 5.6-1.6 .9 .9-.2 5.3M596.8 301.4l4.5-.9M596.8 301.4l1 4.6 4.3-1M607.7 303.7l.3 5-4.6 .3M607.7 303.7l-.3-.3-4.9 1M577.8 285.9l.4 3.8 .6 .5 3.7-.6 .7 4.6 3.7-.4 1.2 3.9-.3 .5-4.4 .5-.3-4.3-4.1 .2-.2-4.4M582.7 289.5l-.1-3.9M590.8 227.9l.4 5.4-5.6 .8-.8-.6M581.7 231l2.2 1.8M596.5 233.2l0-6M596.5 233.2l-4.9 .5-.4-.4M560.1 241l3 2.9M563.2 247.1l-8.7 1M550.9 267.3l-1-.7M550.9 267.3l5.4-.8 .2-5.4-1.4-1.1M554.2 248.4l.6 6-.5 .7M508.7 336.6l.5-.5-.4-5.6 4.8 0 1 5.1-5.4 .5M508.7 336.6l-5.7-1.1-.1-4.2 .3-.4 5.4-.5 .1-5.2-.6-.5-5.3 .1-.3 .4 .7 5.7M497.4 330.9l-.4 .4 .6 5.3 5.3-1 .2 6.3-5.3-.2-.6 .6 .4 4.9 .8 .7 4.9-.1 .3-.4-.4-5.4 5.6-1 .3 .3 0 5.6-5.5 .5M497.4 330.9l5.5 .4M497.4 330.9l-.2-5.1 5.3-.6M525.7 341.5l-.2 4.7 .6 .5 5.5-.7-1.3-5.1-4.6 .6-1.2-1 1.1-5.6 4.9 .6 .7 4-.9 1.4M518.8 324.6l-4.4 .2 0 4.9 4.5 .7 1.2-1.3-1.3-4.5 .8-.9-.2-5.6-5.7 1.4 .3 5 .4 .3M514 324.5l-5.3 .7M514.4 329.7l-.8 .8M524.9 329.2l.1 5.1 .6 .6M524.9 329.2l2-2.2M530.5 335.5l2.1-2.3M538.1 315.2l-.5-4.3-5.3 .2 .6 5.3 4.8-.8 .4-.4 5.3 .3-.5 5.3-4 .4-.4 5.4-4.1 .2-1.3-5.4 5.3-.6 .5 .4M531.8 305.4l-5 .8 .4 5.4 4.9-.6 .2-5.3-.5-.3-.5-5-5.4-.2M525.7 305.3l1.1 .9M522.2 312l5-.4 .5 4.2 5 .8-.1 4.5-3.8 1-1.9-5.2 .8-1.1M525 298.9l-2.5-2.5 .2-4.3M522.8 287.1l.2 4.7M521.4 286l1.4 1.1 4.6-1-.4-5.1-4.9 .4-.7 4.6-4 .9M511.9 291.7l.7 .6 3.8 0 1-1M522.5 296.4l-4.7 .7 .5 5 5.9 .4M516.4 292.3l1.2 4.8-5 1.2 .7 4.1-.8 .9-5.5-.3 .4-4.8-6-.1 .5 5.6 4.9-.5 1 4.7M517.7 307.5l-.1-4.7 .7-.7M496.6 303.9l-.5 5.1M519.6 313.6l-6.5-.5-.4 5.7 1 .7M520.2 317.1l-.8 1M508.1 324.7l.3-5.3 .2-.3 4.1-.3M502.6 314l-2.4-1.9M502.6 314l.2 5.6-.6 .8-5.3-.7 .4-5.8 1.5-1.7M507.2 313.8l1.4 5.3M507.2 313.8l-4.6 .2M508.4 319.4l-5.6 .2M502.8 324.8l-.6-4.4M497.2 325.8l-1-.7 .4-5.1 .3-.3M467.8 303.7l7.2 .7 0 5M474.3 315.7l3-3.2-.1-.7M467.4 303.6l-5.9-.4-1 5 .4 .5 6.5-.1M455.6 297.7l-.3 5.6 5.5-.8 .1-4.9-5.3 .1-.5-.5 .3-5.3 5.2-.4M460.9 297.6l.9-.9M460.8 302.5l.7 .7M443.4 314.6l-.5-.6 1.2-5.1 4.2-.1 1.4 5.7-.8 .7M455.8 320.8l-1.1-6.5-5 .2M474.2 292.7l-5 1.1-.9-5.6M474.2 292.7l.9 1.1-.4 4.8-5.4 .2-.2-4.9-4.6-.2M468.6 287.9l5.6 .1M474.7 288.8l-.5 3.9M479.9 288.7l.1 5.4-4.9-.3M475.3 299.2l-.2 5.2 5.6-.3-.8-5.1 5.3-.2-.2-4.8-4.8 .2-.5 4.7-4.4 .3-.6-.6M468.1 300.2l1.2-1.4M490.4 303.8l-4.2 .6-1-.8 .1-4.8 5.5-.1-.4 5.1M480.7 304.2l0 4.7M486.2 304.4l-.4 4.8M497.3 313.9l-6.4 .8 .3-4.2M485.2 303.6l-4.5 .6M506.2 286.9l-5.3 1 .5 5.3 5.1-.3 1.2 5 4.1-.2 .8 .6M512.6 292.3l-.8 5.4M512.7 308.2l-.2-4.9M517.6 302.8l-4.3-.4M490.1 272.3l-5-.2M490.1 272.3l.2-5.9M473.1 242l.3 .3-.3 5.9-4.8 .5M490.8 230.2l-5.6 .8 .7 4.8-.9 1-6-.9 .8-4.4-.6-.7 0-5.6-5.1 .5-.9-1-5.4 .2-.3 .5 .9 5.5 4.5 0 .5-.5 .7-4.7M490.8 230.2l-.8-5.6-5.2-.1-.1-7.4M485 230.8l-.4-6.2-5.2 .4-1.9-7.8M479.8 231.5l5.2-.7M491.3 230.6l4.9-1 .4-4.4-.3-.3-6-.5 1.2-7.2M491.3 230.6l-.5-.4M522.8 269.3l-6.6 1.8M515.5 270.5l-.2-4.7 6.8-.3M521.6 258.1l1.6-1.9M529.7 262.2l-6.6 1.3M535.4 243.1l-.6 .7M528.9 237.5l-.7 .9 .6 5.1 .5 .6M522 244.5l.6 5.6-5.2 .7-.5 .6M522 244.5l6.8-1M532.6 224.7l-4.1 0-1-6.9 1.4-1.9M520.1 212.6l1 6.5 6.4-1.3M496.6 225.2l5.7-.6M496.2 229.6l5.2 .7M496.2 229.6l1 6.6 4.4-.7M522 244.5l-.3-.4 .6-5.8 5.9 .1M507.7 210.3l-9.5-2.9-1.2 .7-2.1 8.2M502.5 224.4l-1.5-5.9M499.3 197.8l-1.1 9.6M496.3 224.9l0-7.3M490.3 206.3l6.7 1.8M449.6 213.9l-6.7 .5-.4 8.3M387.4 249l3.2 4.3M386.2 259.5l3.4-1.4M397.8 270.3l-1.3-8.6M404.6 218.3l.2-1.2-8.7-5.2-4 2.1 .7 5.8M398.8 227.2l-.2-3.2M398.8 227.2l-8.2 3.4M442.7 198.9l-.9-6.5-6.3 0-.6 .4-.1 6.7 .7 .7 7.2-1.3M434.8 199.5l-5.7 .9-1.4 5.5 7.3 1.2 1.4-1.2-.9-5.7M428.2 192.4l-.3 6.7 1.2 1.3M429.3 191.6l-1.1 .8-6.1-.5-.4-6.7-.6-.7-6.2 .4M434.9 192.8l-5.6-1.2-.3-6.7 .3-.4M362.7 205.6l10.1 3.5M435.9 183.9l-.4 8.5M473.2 248.3l1 5.7 4.9-.7 .6-5 5.3 0 .5 5.4-5.2 .8-1.2-1.2M398.8 227.2l2.8 3.6 9.5-5.5M443 231.4l-.4 .4 .3 6.7 5.9-.2 .3-6.4M455.4 231.3l-.5 .3 .2 6.6 3.4 2.8M449.7 231.4l5.2 .2M458.9 223.2l2.9 2.4 .3 5.8-.9 1M449.1 238.6l6-.4M468 236.1l.4-5.1-6.3 .4M466.9 237.2l-5.1-.5M449.4 244.4l-.3-5.8M479.7 282.6l-.3-4.1M484.3 283.3l.6-.5M490.1 282.7l-.3-.4M494.8 266.2l.7 5.8M474.5 283.7l-1.2-1.2M468.6 283.7l1-1M602 232.2l.7 .4 1.1 4.9-5.9 .3-.9-4.2 5-1.4-1-5.3 6.7-.6M610.6 229.6l-7.9 3M596.5 233.2l.5 .4M611.3 236.5l-7.4 1.1-.2 5.3 2.9 2.4M496.7 466.4l-7.5-1-.2-6.2 .3-.3 7.1-.4 .3 7.9 2.3 2.7M489 459.2l-6.4-.7-.6-5.9 6.8-1.7 .5 .4 0 7.6M440.3 429.8l-1.9 2.1M432.8 451.9l-.5-5.8 6.8-1.2 .8 .9-.7 6.6-6.4-.5-.3 .3M431.7 445.6l.6 .5M439 439.4l.1 5.5M446.6 445.9l-6.7-.1M447 445.5l-.6-6.4-1.6-1.2M482.6 473.8l-.6-6.8 6.5-.9 1.4 7.6 6.9-.7M482.6 473.8l7.3 0-.5 6.7M482.3 474.3l.3-.5M482.3 474.3l.2 6.1M489.2 465.4l-.7 .7M375.9 451l-1.4 6.1 7.5 1.1-1.1 6.2M417 486.8l7.2 1.5 .8-7.1-1-1.1M438.9 488.2l-6.9-.4-.4-6.8 .3-.3M438.8 481.1l.1 7.1 .4 .3-.3 6.6 7.3 .8 .3 5.6 6.6 1.5-.6 6.4-6.8 .4 .1-7.7 .7-.6M425 481.2l6.6-.2M445.6 487.8l-6.3 .7M445.6 487.8l.8 7.9 6.5-1.4 .5 .6M745.1 227.2l1.1 4.6-4.5 2.5M750.5 226.7l4 4.2M711.9 244.5l-.4 3.5 4 2.5 3.6-1.7-1.4-6.4-2.8 0-3 2.1-5.2-1.6-1.5-3.7 4.2-2.9 2.6 1.4 2.9 4.7M721.8 255.8l1.8-3-.5-1.1-4-2.9M721.8 255.8l-7.2-1.2 .9-4.1M691.6 495.9l-1.8 .5-4.4 3.9 .3 2.7 4.6 3.2 6.7-2.7M370.4 314.5l8.4 1.5-1.4 9.2-.5 .5-6.8-.7-1.9-2 .8-7.1 1.4-1.4-.4-7.1 1-1 0-5M376.9 325.7l1.2 8.9 7.4 0 1.7-9.2-9.8-.2M390.6 344.4l-5.2 0 1.2-8.9 3.2 .2M359.7 324.2l1 8.1 6.8 .5 2.6-7.8M368.2 323l-8.5 1.2M392.9 379.6l-6.6 .3 1 6.8 4.9 .5 .7-.5 0-7.1 .9-.8-.3-3.5M386.1 379.7l1-4.9M419.9 402.1l.6 6.3M427.3 395.8l-.6 5.7M414.5 401.6l5.4 .5M433.9 402.9l-6.5-.5M420.2 382.3l-4.9-.3M421.1 375.3l-.7-.6-6.4 .6-.8 .8M424.9 445l-6.6 .5-.4-.5 .7-6.7M418.5 452l-.5-.5 .3-6M411.2 437.5l-.3 .3 0 6.5 7 .7M411 458.6l.1-6.7 6.9-.4M405.1 416.8l0-7.5-6.1 0-.5 6.2 .8 1.1 5.8 .2M411.1 416.7l-5.9 .2-.2 6.8 6.1 .3M463 381.8l-1.5-6.9M463 381.8l-7.9 .1 .5-6.2M455.3 395.5l-.2-6.7M447.6 395.3l.6-6.8M442 388.3l5.8-.2M460.2 452.5l-6.5 .4-.5-.6M460.2 452.5l-.2-6.1-6.3-.6 .4-6.6-1.2-1.1-.1-6.5 7.5 .5-.3 6.3-5.9 .8M461.1 423.9l-1.1 1-6.4 .1M461.1 423.9l-.7-4.5M481.7 430.7l6.9-.2 .3 7 5.4 .2M488.8 430.2l-.8-8M481.7 430.7l-.4-7.1 3-3.3M469.6 410.6l0 5.3M469.6 410.6l6.8-1.6 .3 7.2M461.8 402.7l.6 .6 .9 5.6-1.4 1.3M455.8 402.9l6-.2 .7-6.7 5.9-.3 .1 6.3 1.3 1.4 5.9-.4-.6-6.4-6.7-.9 .6-6.1-6.6-1.8-.5 .5 0 7.2 .6 .5M469.6 410.6l-1.2-1.3-5.1-.4M476.7 408.7l6.1 .8 1.6-8.3-8.5 2 .8 5.5-.3 .3M468.4 409.3l1.4-5.9M462.4 403.3l6.1-1.3M380.3 306.9l-1.3 9 8.7 1.3-.3-10.5M380.3 306.9l1.6-1.5M387.2 325.4l2-1.6M388.8 318.2l-1.1-1M377.1 296.1l1.8-5.9M384.3 288.8l2.1 1 1.4 6.8-6.9 3.5M431.5 296.7l.6-5.4 4.9-.6 .7 .7 .6 5.2 5.4 .1 .3-.3 5.1 .5 .5 .6-.2 5.1-5.9 .2 .2-6.1M431.5 296.7l6.6 .1-.4 5.9 5.1 .8 .6 4.6-6.4 1 1.1 4.7 4.8 .2M416.9 269.2l.3-6.9-5.1-3.6-4 1.2-.8 7.9M397.4 271.2l7.2 6.3 7.5-2.6M402.5 257.2l5.6 2.7M414.1 251.1l.6-.4M422.7 259.3l-5.5 3M414.1 251.1l-2 7.6M402.3 251.3l3.4-2.6 8.4 2.4M447.6 342.9l.2-6.6 5.2 .7 .8 4.9 .8 .7-1.5 6.3 6.6 0-.2 5.4M447.6 342.9l-6.2-1.2 0-4.1 6.1-1.6-.4-5.8M465.9 348.4l.6 .6M465.9 348.4l-6.1 .3-.8-5.9-4.4-.2M440.8 361.4l.6-6.6 5.7 .3 .3-6.8-6-.1-.1 6.4-6.3-.1 .3-5.9 5.8-.6-.1-5.8 .4-.5M447.7 361l-.3-5.7 6.1-.9 .7 .5M435.4 336.3l5.8 1 0-6.9-5.3-.3-.3-7.4M435.4 336.3l.2-6-6.2 0-.5 5.2 .5 .8 5.1 .8 .9-.8M441.7 330.2l-.5 .2M423.3 341.7l4.8 .4 1.3-5.8M422.9 336l6-.5M422.9 336l-.5 .5M385.5 334.6l1.1 .9M416.8 329.6l-.5 .4-.3 6.3-6.1-.2-.5 6 .5 .4 5.8-.4M416.8 329.6l5.7 .2 .4 6.2M416.3 330l-5.6-.4 .4-8.7M416.8 329.6l-.6-7.5M410.7 329.6l-.5 .3-1 5.5 .7 .7M428.5 355.4l-6.2-.4-.4-.5 1-5.5M415.8 348.2l.7 6.4 5.4-.1M386.1 379.7l-8.5-.3M375.7 381.4l-9.2-.9M365.6 360l10.7 2.8 1.1 1.7M359.9 364.9l5.7-4.9 1.4-7.4 7.4-.4 2.1-8.9-.4-.6-8.9-.4-.4 .3-1.1 8.4 1.3 1.6M375.8 353.7l.5 9.1M385.1 352.6l2 1.9M385.1 352.6l-9.3 1.1-1.4-1.5M393.6 372.8l1.3-5.5M387.3 372.7l-.4-6M391.8 334.6l5.5 .5 .1 5.9 5.8 .5 .7-6.1 5.3 0M392.7 341.1l4.5 0-.3 6.1-4.3-.3M409.4 342.1l-5.5 .2-.7-.8M384.2 345.4l1.2-1M385.1 352.6l-.9-7.2-7.7-2.1M254.2 327.3l9.6 .5 1.7 1.9-2.4 11.3-10.8-1.9M262.5 349.5l1.1-7.8-.5-.7M274.7 353.9l-.4-11.5-10.7-.7M245.8 302l10 2.3-.7 9.8-11.8 .3M254.2 327.3l1.4-12.7-.5-.5M247.8 290.7l10.7 1.7-.5 10.1-2.2 1.8M264.2 267.5l.7 4.2M276.9 260.6l4.8 6.3M262.2 282.9l2-10.2M262.2 282.9l-12.2-4.5M258.5 292.4l6-4.6M263.6 285.8l-1.4-2.9M367.2 258.9l-14.7 1.6-.3-.3 .9-17.3M340.2 243.5l-.1 13.5 12.1 3.2M352.5 260.5l-1.6 11.6 13.9 2.8M376.6 287.7l-7-.2M623.2 311.4l-4.8 1.1-.4-5 4.7-.5 .5 4.4 .5 .5 5-1.4-.9-3.9-.4-.3-4.4 .4-.3 .3M604.6 322l-5 1.1 1.1 3.8 4.4-.5M616.7 354.5l-1.5 2.4-3.7-.3 3.3-3.9 1.7 .6 .2 1.2 2.6 2.8 2.4-1-.5-3.3-2.8-1.1-1.9 1.4M606.7 328.9l-1.2 3.9-2.2 .4-2.2-1.1M605.5 327.4l1.2 1.5 3 .3 1.2 2.9 3-.6 .2-2.7M602.4 340.3l-1.2-2.1 2-1.8 3.5 2 .1 1-1.7 .9-2.7 0-1 2.2 2.3 2.8 .7-.5 .7-4.5M607.4 303.4l-.3-4.1-.3-.3-5 .4M627.8 306.6l4.8-1.3-1-4.4-4.2 .5 0 4.9M623 306.7l-1-5.1 4.9-.6 .5 .4M598.4 430.7l.4 .3 .3 5.4 .7 5.9-6.1 .5-.7-5.5M603.6 423.4l.9 6.5-5.7 1.1M603.6 423.4l-5.2 .7-.4 .5M605.1 430.4l-.6-.5M605.1 430.4l1 4.9 5.7 0 1.2 5.2-.8 1-5.8 .1M593.6 442.8l.7 6.2 .6 .3 5.8-1.2-.8-5.8 6-1.1M595.9 457.4l-1-8.1M601.1 448.5l-.4-.4M590 458l-.8-8 5.1-1M593.6 442.8l-5.5 .8-1-6.1-.5-5.2M611.8 435.3l.8-1-1.6-5.8-5.9 1.9M628.8 463.3l.5 5.9M628.8 463.3l-2.3-2.8M622.6 463.1l1.5-2.8M628.8 463.3l4.3-4.5M621.9 456.2l4.6-1.6 1.5 .8 1.1 2M637.4 468.2l-1-8M519.1 455.4l-6.3 7.1M519.1 455.4l.9 .6 1.4 5.4-2.5 2.9M526.7 464l-.8 4.7M526 462.8l-4.6-1.4M542.1 440.8l4.9 .1-.3-5.6-.4-.3-4.6 .7 .4 5.1-.9 .9-4.2-.2M532.4 464.3l0 2.8 3.2 2.4 3.6-1.8M529.1 470.5l3.3-3.4M533.8 472.9l1.8-3.4M541.2 469.4l1.1-.5 2.6-5.8M548 474.7l-.8-6.2-4.9 .4M554 456.9l-6.2 .3 1.4 4.7M554 456.9l.3 4.6M554.3 456.5l4.5-.5M554.3 456.5l-.3 .4M547.2 468.5l3.5-3.4M543.5 461.9l.1-3.9 4.1-.9 .3-5.4 .3-.4 4.9 .3 .9-5.5-.8-.6-1.2-5.3-4.8 1 .2 5.3-.3 .5-5.1-.1-.9-5.2M566.3 466.8l-.7-4.5 7.1-2.1M566.3 466.8l7.2-.9M566 467.3l.3-.5M564.9 461.7l.7 .6M569.6 456l-4.3-.3M576.4 457.5l7.1-1.1 1.9 1.9M576.4 457.5l-2.2 3.4M571.6 451.9l4.7-.1 .1 5.7M541.4 484l-2.9 2.9 4.3 6.7M541.4 484l4.1 3.6-1.2 5.8M541.3 481.3l.1 2.7M536.3 487.2l2.2-.3M549.4 485.3l-3.9 2.3M557.3 423.9l4.5-.6 1.1 .7 0 4.4-.9 1-4.3-.1-.4-5.4M543.7 408.7l.7-.8 5.3-.3 0 5.2M546.3 435l-.1-4.8 5.6 .2 0 4.5-5.1 .4M557.4 429.7l.3-.4M557.4 429.7l-5.3 .2-.8-5.4-5.5 .7-.1 4.6 .5 .4M555.8 382.3l.2-3.4-2.3-.8-4.3 1.4M554.1 383.8l1.7-1.5 3.3 1.7 1.3-1.7-.5-4.1-3.2 .2-.7 .5M554.1 383.8l-5.7-1.8M532.9 368.3l.3-.3 5.5 .3-.3 5.4M532.9 368.3l.9 5.9M517.4 383l5.5-.4 .8 5.5M528.9 387.9l-.3-5.8-5.7 .5-.1-6.3M516.5 382.1l-.5-5.8M524.8 412.9l5-1.3M524.8 412.9l-1.8-5.7 .7-.9M534.8 399.6l2.2 7.1M534.8 399.6l-4.6 1.1M535.2 393.6l-6 0M528.5 394.3l.7 5.7M535.3 393.8l-.3 5.5 5.9 .5M518 400.9l4.9 .5M518 400.9l-.5-6.1M488.8 430.2l4.9-.2M502.3 436.3l-1-3.5M500.4 439.8l1.9-3.5 5.8 1.8-1.3-6.7M500.4 439.8l-4.6-.2M580.5 432.8l-1.1-.7 .1-5.5-5.8-.1 .5 6.3-3.7 .1M570.1 421l-3.6-3 .3-5.8 3.3 .1M562.9 424l7.3-1.5M561.8 423.3l.1-5.6 4.6 .3M566.1 406.9l-5 .3-.5-4.9 4.7-.8 .8 5.4M578 376.2l.9-.4M587.6 376.2l-.9 3.2-1.8 1 .8 3.6 2.9 .7 0 3.4 4.4-.8 .2-1.3-3.1-2.2-1.5 .9M587.6 376.2l-3-2.6M578.3 370.1l3.2 1.4M578.3 370.1l-2.3 3.4M587.2 370.8l-3.1 1.3M589.7 371.4l-2.5-.6-.5-3.5M587.6 376.2l3.3-2-1.2-2.8 2-5.2M577.4 367.9l.9 2.2M583.2 367.5l-.3 3.6M510.9 383.7l-.4-.2-.2-7M585.1 316.1l-3.7 .3-1-4.4 4.8-.5-.1 4.6 .3 .3 4.4-.9-.8-4.3-3.6 .1-.9-3.9 4.6-.8-.9-4.2-4.1 .9 .3 4.1-4.4 .7 .4 3.9-3.7 .9-.4 .4 .7 3.7 3.9 0 .5 3.9-4.1 .9-.4-4.6-5.8 1M570.7 334.5l-3.9 .4 0 5.1 2 1.7M553.7 378.1l-1.6-5.1M556.7 378.4l-.1-6.1M575.4 361.2l3.2 .8 .4 2.6-2.4 2.5M575.4 361.2l-1.3 .8 .3 4.8M567.5 350.4l-4.8 .8-.5 .8 .7 2.6M554.1 383.8l-.1 2.9-3.8 1.7-3.3-1.5M561.8 377.2l-1.9 1M562.9 378.1l-1.1-.9 .5-5M562.9 378.1l1 3.7-3.5 .5M568 377.7l-5.1 .4M564 381.9l3 .5 1.9-2M603.6 314.2l4.5-.5 .5 .4 .8 3.9-4.8 1.5M599.6 323.1l-.6-.4 .1-3.9 4.1-.9M613.5 312.9l-4.9 1.2M608.3 308.9l-.2 4.8M608.3 308.9l4.5-.2 .9 4 4.7-.2 .7 4-4.7 1.2 1.1 4.7-5.1 .8-.4-4.8 4.2-.8-.7-4.7M595.6 323.7l3.4-1M593.9 319.6l.8-.8 4.3-.1-1-4.6 5.5 0M593.9 319.6l1.7 4.1M587 293.6l-.2-3.9 .4-.5 3.8 0 0 3.7-4 .7M582.7 289.5l4.1 .2M586.8 284.8l.4 4.4M586.7 279.6l4.7-1-.6-5.8 5.6 .2 .4 4.6-5 1.2 1 4.2M586.7 279.6l.3 4.9M581.2 280.8l5.3-1.3-1.8-5.1-3.8 .6M581.2 280.8l0 3.7M591.6 288.7l-1-3.7M591 289.2l.6-.5 3.1 0 .7 3.8-3.8 .9-.6-.5M591.7 238.7l-.1-5M597.9 237.8l-.3 .4-5.2 1-.7-.5-4.4 1-1-.6-.7-5M581.2 280.8l-2.1-1.8M578.2 289.7l-4 1.1 1 4.1 3.7-.2 .5 4.2-4.2 .8 .9 3.6-.6 .8 .3 3.8 3.9-.1 .2-4.2 4.2-.4-1-4.2-3.5 .2 0 4.3-3.5-.2M573.1 286.9l1 3.8-5.5 1.6M550.9 283.2l4.8-.9-.6-6.8M549.2 276.4l1.7 6.8M612.1 259.2l5.1-1.1 .7 .4 1.5 5.8-6.8-.5-.5-4.6M612 264.7l.6-.9M612 264.7l1.7 5.5 7.1-1M621 265.7l-1.6-1.4M624.1 256.7l-6.2 1.8M617.1 252.6l.1 5.5M613.7 270.2l-.3 .4-5.2 .5-1.2-5.4 5-1M508.7 336.6l.1 4.4M483.7 349.1l-3.8 .4M478.2 347.7l.7-5.2 3 .1M477.3 312.5l3 2.4 5.3-1-.2-3.3M480.3 314.9l.6 5.3-2.2 2.3M479 355.5l4.9-.4M472.5 361.3l.8 .7 .8 4.8M479 355.5l.5 4.9-6.2 1.6M479.5 360.4l.4 .5-.9 6.5M479.9 360.9l4.4 .6M531.7 293.3l.2 6.6 4.8 .2-.2-5.7-2.5-2.2M531.3 300.4l.6-.5M528.4 291.6l-.8-5.3 6.5-.6M546.5 284.2l4.3-.9 1 5.1 4.3-.1 .1-5.6-.5-.4M546.5 284.2l-1.4-1.1 .8-6.7M550.9 267.3l0 7.5M544.4 267.7l-.4 .6 1 7.1M530.2 262.7l.8 5.8 6.2-.5 .1-5.2M544 268.3l-6.2 .4-.6-.7M520.3 341.2l.4-.5-1.4-5.6-4.2 .8-.4 5.3 5.6 0 0 5.4-5.3-.4-.7-4.6-5.2-.3M524.5 340.5l-3.8 .2M525 334.3l-5.7 .8-.4-4.7M514.3 341.6l.4-.4M514.6 335.6l.5 .3M520.1 329.1l4.8 .1M519.6 323.7l5 .4M533.2 368l-.2-4.8 5.1-.7 1 5.3-.4 .5M545.4 346.5l-.8-4.4-5.9-.1M545.4 346.5l-5 1.5M531.2 339.5l6.6 1.1M537.6 345l-5.7 1.2 0 5-5.4 .7 .7 5.2 4.8-.3 .5-5-.6-.6M533.1 333l6.5-1.1-.9-5.2 5.5-.6-.6-4.7-.7-.6M539.6 332l.1 5.4-1 1.1M545.2 337l-5.5 .4M545.2 337l-.1 4.6-.5 .5M531.9 329.1l2.5-2.3M496.6 303.9l5.2 0 .3 5M507.5 313.6l5.3-.8-.1-3.7M507.5 313.6l-.1-4M513.1 313.1l-.3-.3M455.6 307.9l-.7-4.2-5.4-.9-.7 5.6 6 .4 .8-.9 4.9 .3M455.3 303.3l-.4 .4M460.7 313.7l.2-5M460.7 313.7l-5.9 .4 0-5.3M448.3 308.8l.5-.4M501.4 298.1l-.3-.3 .2-4.6-5.2 0-.1 5.5 5.1-.9M467.5 217.4l.3 7.5M461.8 225.6l5.7-.2M474 217.3l-.8 7.4M479.2 230.8l-5.8-.4M474.3 236.2l-1.4-5.3M473.4 237.2l.9-1 4.6-.1 .6 5.9 5.2-.2 .3-5M473.4 242.3l5.7 .2 .3 5.5-6.2 .3M479.5 242l-.4 .5M485.7 242.7l-1-.9M485.7 242.7l5-.8 .3-5.3-5.1-.8M491.3 230.6l.2 5.6 5.6 .1 .1 5.2-6.1 .8-.4-.4M491.5 236.2l-.5 .4M522.6 231.5l-1.2-6.5-6 1.4 .2 4.7-6.6 1.6 .8 4.9 5.7 .7 .3 5.7-.3 .4-5.4 1.3-1.3-6.9 1-1.2M508.4 219.4l6.1 1 .9-.9M503.6 247.2l.6-.5M502.4 241.3l-5 .4 .5 5.6 5.7-.1 0 5.5 5.8 .6-.6 5.3-5 .2-.4-.3-.4-5.1 .6-.7M436.4 205.9l5.9 1.2-.2 6.4 .8 .9M453.7 196.1l-3.8 3.2M452.2 185l-9.2 .9-1 6.3 10.3 .7M441.9 184.8l1.1 1.1M428 214l.6 7.6M428 214l.7-.8 5.6-.5 1.4 1.4-.9 7.4M435 207.1l-.7 5.6M427.5 206.1l1.2 7.1M442.1 213.5l-6.4 .6M381.9 221.7l4.7-8.4-5.3-3-5.8 1.7M392.1 214l-2.2-1.1-3.3 .4M376.3 200.3l6.8 4.8-1.8 5.2M383.1 205.1l3.9-2-1.2-7-5.9-5.3M389.9 212.9l-1-8.8-1.9-1M416.3 191.8l4.8 1 1-.9M422.3 174.6l-1.2 9.9M404.5 185.5l8 2.7M404.5 194.4l3.8 .2 4.3-5.5M402 189l2.5 5.4-1.3 1.4-8.9-.4 .6-7.5M429 184.9l-7.3 .3M427.9 199.1l-7.3-.3 .5-6M420.4 199.1l1.2 7.1-.6 .7-4.7-.2M420.4 199.1l-6 .3M427.5 206.1l-5.9 .1M408.3 194.6l3.9 5.5M414 213.6l6.7 0-.1 8M420.9 213.4l.1-6.5M408.2 213.4l-1.4-6.8 4.5-3.4M412 214.1l-3.8-.7-3.4 3.7M420.9 213.4l7.1 .6M423.3 224.5l-.1 5.9-.4 .4-6.7-.1M422.6 236.8l.2-6M417.7 237.7l4.9-.9 .7 .7 5.2 .6 .5 6.1-6.2 .2-.4-.4 .9-6.5M460.4 285.1l-4.9 .3-1.3-5.7 2.1-2M455.4 291.9l-1-.9 .4-5 .7-.6M448.8 257.7l5.9-.1 .4 .5 .6 5.6-6.2 .9-.7-.9 0-6-.8-6.3M455.7 251.4l-1 6.2M456.3 270.2l-7.1 .1 .3-5.7M456.4 264.5l-.7-.8M460.3 257.8l-5.2 .3M401.6 230.8l.2 1M405.7 248.7l.7-7.2M414.1 229.6l-3.1 4M414.5 241l-3.1-1.1M435.5 250.8l-.5-6.4-5.9-.2-.6 6.5-5.6 .1-2 1.7M429.1 257.6l-2.7 2.8M442.2 244.4l.3-5.6-6.8-1-.6 6.5 7.1 .1M442.9 238.5l-.4 .3M481.3 452l-6.4 .4-.2-6.8 6.5-.1 .1 6.5 .7 .6M474.9 452.4l-.7 .7 .9 5.9 6.4 .6 1.1-1.1M482 467l-.4-.4-.1-7M481.3 423.6l-6.8 .7-.3-.3-.2-5.3M467.6 419l-.5 5.4 7.1-.4M461.1 423.9l5.7 .8 .6 6.9 6-.1 1.8 6.8 5.8-.4 .3-6.8-6.6-.9-1.3 1.3M372.8 463.3l-6.2 6.9-6.3-3.9 4.2-11.1M374.5 457.1l-1.9 1.5M369 476.5l-2.4-6.3M355.2 467l5.1-.7M431.1 488.6l-6.6 .1-1.1 6.3 .3 .5 7 1.3 1.4-1.4-1-6.8 .9-.8M424.2 488.3l.3 .4M438.6 495.5l.4-.4M438.6 495.5l-6.5-.1M431 502l-.3-5.2M422.7 502.3l1-6.8M438.4 503.1l.4-.4-.2-7.2M417.2 494.9l6.2 .1M438.8 502.7l7.1-.6M445.3 510.3l.5-.5M456.5 513.6l-3.9-4.2M475.6 481.6l-.6-.5-7.4 1.1 .1 6.1M445.6 487.8l.5-.4 .4-5.5-7.4-1.1M452.9 494.3l.7-5.3-7.5-1.6M662.3 259.6l2.5 2 .2 6.5M651.5 280.2l5.7-1.8 .7-2.8-4.3-5.7M647.5 272.9l.1 4.7 2.8 2.3M661.9 274.6l-4 1M661.9 274.6l3.4-5.8M661.9 274.6l2.5 3.7-.4 3.1-4.7-.2-2.1-2.8M699.8 241.6l3.7-3 1.7 .6M699.8 241.6l1.9 5.5 2.2 .1 2.8-4.3M708.9 250.6l2.6-2.6M708.9 250.6l-3.1-.8-1.9-2.6M659.3 295.5l-5-2.2M659.3 295.5l2-1.7 .7-4.7-3.8-.9-1.9 1.3M659.3 281.2l-1.7 3.4 .6 3.6M664 281.4l1.2 1.5-1.3 5.5-1.9 .7M746.2 231.8l3.6 2.4M764.8 204.3l5.9 3.7M755.9 251.5l-2.3 3 3.9 1.2M755.9 251.5l1.2-.1M775.8 198.9l2.3 2.2M778 186.9l8.9 6.4M730.8 245.2l-5.8 .6-1.9 5.9M723.6 252.8l7.6 .3M708.9 250.6l1.5 4.5 3.9-.3 1.6 7.4M712 237.7l3.7-3.2-1.1-2.8-4.5 .1-.7 .5 0 4M714 225.4l3.3 2.9-2.7 3.4M711.2 226.4l-1.1 5.4M721.1 227.1l-1.6 1.2-2.2 0M723.6 235.3l6.5 3.8M723.6 235.3l-2.3 .6-.7 .9-.9 4.1 3.2 1.3 6.8-2.1M728.2 229.6l-4.6 5.7M719.5 228.3l1.8 7.6M715.7 234.5l4.9 2.3M717.7 242.4l2-1.5M732.6 247.5l3.3-2.1 .3-6.1M725 245.8l-2.1-3.6M696.9 241.6l-2-5.5M695.2 237l-.6-1.6M696.9 241.6l2.9 0M694.4 234.8l2.4-1.4M703.5 238.6l-2.6-4.4M709.4 232.3l-4.7-2.1M707.3 224.6l-2.8 4.3M692.1 225.4l4.7 2.2M685.5 512.4l-2.1-.4-2.3-4.3 4.6-4.7M689.5 510.5l.8-4.3M680.2 517.7l.1-1.6 3.1-4.1M350.9 272.1l-1.1 1.1 .1 13.3 13.3 .9M378.1 334.6l-.6 .6-9.4-1.6-.6-.8M356.7 351.4l-8.3 .8-2.8 11.5M356.7 351.4l1 13.4M337.6 378l2.7-13.1M398 423.5l1.3-6.9M398.5 415.5l-6.8 .4-.3 6.1 6.6 1.5M406.3 393.4l-1.2 1.2 0 6.6 .5 .4M406.3 393.4l6.7 1.4M391.8 408.1l.2-6.6 7.5 .2-1.3-7.3-4.9 .1-.6 .5-1.2 5.7 .5 .8M391.8 408.1l6.8 .8 1-7.1 5.5-.6M399 409.3l-.4-.4M391.7 415.9l-.6-.8 .5-6.8-6.3-.3-.6 .4-.8 6-6.3 .4 .8-7.6 6.3 1.2M398.7 394l-.5 .4M398.7 394l6.4 .6M350 393.8l14.5 2.7-1.3 12.1-.5 .5M364.6 382.6l.5 13.3-.6 .6M407.4 380.2l-.9 7.5-.5 .4-6.4-1.4-.4-.5 .8-5.9 .4-.3 7 .2 3-2.2M413.5 387.4l-7 .3M400.6 375.3l-.2 4.7M393.8 378.8l6.2 1.5M392.9 386.7l6.3-.5M393.3 394.5l-1.1-7.3M398.7 394l.9-7.3M406.3 393.4l-.3-5.3M410.7 451.6l-.6-6.4-7-.2-.2 6.1 1.1 1.3 6.7-.8 .4 .3M410.9 444.3l-.8 .9M403.2 458.2l.8-5.8M404.8 437.4l-.9 .7M402.6 444.4l.5 .6M410.9 437.8l-6.1-.4-.9-6.3-6.3-.4-.3 5.7M396.5 451.7l6.4-.6M397.3 430.4l.8-6.8 6.5 .3 .2 6.4-.9 .8M389.1 436.9l2.2-6.6 6 .1M411.5 430.7l-6.7-.4M405 423.7l-.4 .2M475.1 396.6l1.5-1.4-1.2-6.7-6.4 1-.1-8.2 6.6 1.3 .4 5.3 7.5 .5 1.1-1M455.3 395.5l6.6 0M455.6 388.3l6.3 0M463.1 381.9l-.7 5.9M460 424.9l.3 7.2 7.1-.4 .1 6.4 7.4 .5-1 6.2-6.4 .6-1-6.1 1-1.2M446.4 439.1l6.5-1M460.4 438.8l-.1 7.3-.3 .3M460.4 438.8l-.4-.4M476.6 395.2l5.8 .2 2.3 2.6M504.9 383.9l-.3 5.3-5.8 .2-.9-5.9 .3-.3 6.6 .5-.1-7.1M493 383.8l4.9-.3M492.6 384.3l.4-.5-1.6-6.5M492.6 384.3l.3 5.3 5.5 .2 .4-.4M511.9 414.1l-.7 5.2-4.9 .3-1.3-5.4 .4-.6 6.2 .1 .3 .4 5.3-.3 .8 5.8 .5 .4 5.4-1 .7-.7-.6-4.3-6.2-.9-.6 .7M468.9 374.2l.7 .6-.8 6.4-5.7 .7M476.4 368.5l-.7 5.8-6.1 .5M484.4 374.9l-8 .1-.7-.7M476.5 381.5l-1 1.1M476.5 381.5l7.6 .2M482.4 395.4l1-7M475.4 388.5l.5-.6M476.4 375l.1 6.5M492.6 384.3l-6.5 .5M488.7 390.4l4-.5 .7 6.1 5-1.1 0-5.1M387.8 296.6l4.3 2.7 .1 3.8M386.4 289.8l2.1-.5 4-6.3-4.4-3.4M397.1 271.5l-.7 11.4-3.9 .1M404.4 280.5l.2-3M404.4 280.5l-5.1 5.3-2.9-2.9M454.2 279.7l-4.8 .1 0-5.3M449.2 270.3l-.9 .9 .3 1.9M448.3 271.2l-5.7-.9-.6-6 6.8-.6M409.5 283.9l1.4-.3 1.5-7.9M409.5 283.9l-5.1-3.4M453 349l-5.4-.9 .3-4.8 5.9-1.4M453.5 354.4l-.5-5.4M447.6 342.9l.3 .4M404.3 328.8l-.6 6.4-5.6-.8 0-5.3 .5-.5 5.7 .2 .5-.5 5.4 1.6M398.7 322.7l-.1 5.9M398.7 322.7l-6.9 .3M393 328.3l5.1 .8M397.3 335.1l.8-.7M397 305l-3.4 .6M397 305l6.9 4.2-5.2 5.7M423 321.8l-.4 7.9 6.2 0 .6 .6M436.8 308.9l.8-6.2-5.1-.3-1-5.7-5.4 .4-.9 4.5-6 1.1 0-6 .5-.5 5.7 .1 .7 .8M444.1 308.9l-.7-.8M431.4 303.5l-.5 4-5.2 .6-.3-6.3 6 1.7 1.1-1.1M436.8 308.9l-4.7 .1-1.2-1.5M422.3 355l-.1 5.5 5.9 1 .6-.5M428.1 361.5l-.5 6.2M428 374.1l-.7-5.9M409.9 342.5l.3 5.8 .3 .3 5.3-.4M415.7 355.3l-5.9-1.2 .7-5.5M416.5 354.6l-.8 .7-.2 5.5-6.1-.5-1.1 1.1 .8 5.5M265.5 329.7l10.5 1 .8 1.1-1.7 9.8-.8 .8M263.8 327.8l2.6-9.6-1.6-2.6-9.2-1M278.2 319.9l-.3-.4-11.5-1.3M276 330.7l2.2-10.8 9.3-.1 3.2-9.4-10.2-4.5 1.1-8.8-11-2.4-3.1 10.5 .9 1.5 9 1.5 3.1-2.3M274.4 273.8l.5 9-2.9 1.8M629.2 315.4l-4.2 .9 .1 5 4.9-.9-.8-5M624.3 315.8l-4.8 1 .7 4.9 4.7-.2 1.6 6M623.7 311.9l.6 3.9 .7 .5M581.4 316.4l-.5 .6M603.3 333.2l-.1 3.2M606.7 338.4l1.3-3 0-.9-2.5-1.7M615.7 359.5l-.5-2.6M611.3 356.7l.2 3.1 1 .4 3.2-.7 1 .5 0 3.9M611.3 356.7l-2-1.4-.6-2 1.6-2.2 3.8 .9 .7 .7M614.1 352l.7-3.9-4.5 .7-.4 .4 .4 1.9M607.6 340.1l-.8-.7M607.6 340.1l.6 3.7-.4 .4-3.4 .6M609.9 349.2l-1.6-.9-.5-4.1M612.3 344.2l-2 4.6M612.3 344.2l-4.1-.4M599.5 369.3l-3.9-.5-1.8-2.6M601.8 365.7l-2.3 3.6 1.9 3.4 1.2 .4 .5-.2 1.8-5.7M594.5 365l.6-1.6 4.2-1.2 2.4 1.5-.1 1.4M590.3 365.4l-2.7-2-4.6 1.9 .4 1.7M582.9 365.2l-3.9-.6M631.6 300.9l.7-1-1.6-4.4-4 .7 .2 4.8M613 447.1l2.4 7.9M613.1 446.8l4.4-.4M607.4 448.8l5.6-1.7M612.2 441.5l.9 5.3M618.2 463.6l-1.8-7.7M619 443.4l2.7-3.4-.5-1.9-2.2-1M613 440.5l2.4-.2M612.6 434.3l4.7-.8M589.2 450l-.9-.6-5.9 2 1.1 5M588.1 443.6l-.6 .7 .8 5.1M581.7 438.6l.1 5.6 5.7 .1M626.4 412.7l-1.3 2.9-3.7-.6 1.5-5.2-4-.5-1.7 2.8-3.5-1.4 1.3-4.3 1-.5 1.3 .5 1.6 2.9M623.2 409.6l3.2 3.1 3.6-.5 .7 1.2-1.1 4.3-2.2 .9-.5-.1-1.8-2.9M630.4 410l-.4 2.2M623.2 409.6l.6-1 3.2-.4 3.4 1.8 1.7-1.7 .3-2.1-1.3-1-3.2 .2-.9 2.8M622.9 436.8l-.1-3.4-4.5-1.6M621.2 438.1l1.7-1.3 2.3-.1 1.3-1.1-.5-3.5-1.1-.2-2.1 1.5M632.4 429.9l2.9 2.2 2.3-1.8 0-4-2.8-.7-2.1 1.6-.3 2.7-3 1.4-1.4-.5-.7-3.8 2.5-.9 2.9 1.1M644.2 457.6l.9 6.5 3.6 .9 .4-.1 1.3-7.6M645.1 473.3l1.8-1.1 1.8-7.2M637.7 468.6l7.4-4.5M520 456l3.5-.7 4.8 2.4M531.9 463l.3-4.7 4.9 .8 .5 3.7M532.2 458.3l-1.6-1.6M534 436.1l7.1-.8 .6 .4M544.4 407.9l-.1-4.8-2-2M541.4 393.9l2.5 2.2M535.3 393.8l6.1 .1 0-6.1-6.1 .7-.1 5.1M550.2 388.4l2.2 6.1M550.1 407.2l-.4-4.6-5.4 .5M550.1 407.2l4.8 .6 .4-.5 .6-4.8-.9-.7-5.2 .7-1-5.5M549.7 407.6l.4-.4M555.4 412.8l-4.4 1M555.4 412.8l-.5-5M554.8 397.3l.2 4.5M560.2 402l.4 .3M560.8 407.6l.3-.4M560.8 407.6l-5.5-.3M560.2 402l-4.3 .5M560.2 402l-.2-4.5M524.4 425.7l.4-.6 7.7-1.6M525.5 430.3l-1.1-4.6-5.7-.1-.2-5.6M530.7 412.5l-.4 6.5 2.2 2.1M511.2 419.3l1.1 1.2 5.7-.9M524.8 425.1l-.9-6.1M517.9 408.3l5.1-1.1M517.9 408.3l-.1 4.8M524.8 412.9l-.8 1.1M530.3 419l-5.7-.7M514.9 447.2l4.1-2.5-2.7-5.1-3.7-.6-.4 5.3 2.7 2.9-.9 3.4 4.6 4 3.4-5.8-.5-3.9 2-1.4 3.4 .8 .1 6.6-.5 .2-4.5-2.3M534 447.2l-5.1-3.3 1.7-4.7 3.2-2.3M527.9 431.7l-2.5 5.5 5.2 2M519.5 432.9l.8 3.2 3 2.2 2.1-1.1M541.1 435.3l0-4.5 4.6-1M532.9 431.8l7.6-1.6 .6 .6M533.3 425l6.4 .4 .8 4.8M551.8 430.4l.3-.5M546.6 386.9l-4.7 .4-2.1-5.8M528.9 387.9l5.5-.4 .9 1M541.4 387.8l.5-.5M529 381.7l-.8-6.1M529 381.7l6 .4-.6 5.4M535 382l-1.7-7M528.6 382.1l.4-.4M539.7 381.1l-4.7 .9M527.8 368.9l5.1-.6M527.5 369.2l.3-.3-.7-5.8-5.3 .5-.7 4.9 .8 1-.5 5.5M527.5 369.2l.8 5.3M527.5 369.2l-5.6 .3M500.2 426.4l-4.2 .1M500.2 426.4l-.3-6.4 5.6 .5 .8-.9M499.7 419.9l-5.7 .3-1 1.1M505 414.2l-4.7 .7-.6 5M494 414l4.8-.5 1.5 1.4M494 414l0 6.2M506.3 431l-.1-5.3-.5-.5-5.5 1.3 1.1 5.6M505.5 420.5l.2 4.7M512.3 420.5l-.2 5.2-5.9 0M581 438l-6.2 1.1 .1-5.9 4.5-1.1M609.6 415.6l-5.6 .9-.7 .9 .8 5.5 7.1-.1M578.2 408.1l-.4-.4-5.4 .6M566.8 412.2l-.5-.3 0-4.9 3.7-.6M588.9 399.7l.8 .8-.5 5-4.8 .7-1.6-5 1-1.3 5.1-.2 .2-5.9M561.7 417.5l.1-5-.8-.6-5.6 .9 1.5 5.2 4.8-.5M566.3 411.9l-4.5 .6M556.5 418.6l.4-.6M550.8 419.2l-.3-.4M560.8 407.6l.2 4.3M597.9 378.6l-3.6 1.2-.5-.3-1.8-5 2.9-1.6 3.1 1.6-.1 4.1 1.6 .8 2.6-.5 2.4 1.3-1 2.7-4.2 1.5 .2-5M601.4 372.7l-3.4 1.8M595.6 368.8l-.7 4.1M586.7 379.4l3.2 1.5 3.9-1.4M590.9 374.2l1.1 .3M525.5 346.2l-5 .6-.2 5.1 .5 .5 5.7-.6-.4-5.1M598.2 358.3l1.1 3.9M595.1 363.4l.3-3.8 1.8-1.5 1 .2 3.3-.6 .8 .5 2.5-1 2.1 .4 1 2.9-1.4 1.3-3.3-.6-.9-3M566.8 334.9l-.7-.5-4.6 .6-.5 .8 .8 4.4 5-.2M582.1 325.6l.3 3.6-4.1 .9-.5-4.4 4.3-.1 .3-.4-.4-3.8-.6-.5M585.4 316.4l.7 3.8-4.1 1.2M577.2 321.8l.4 3.8-5.3 1.5M576.3 313.3l-5.9-.2M563.8 308.7l.7 5.2-5.6-.5-.2-4.3 4.3-1 .8 .6 5.6-.7M564.7 314l5.3-.9M576.7 312.9l-1.1-4.8-5.1 1M570.6 343.9l-1.6-1.9M570.6 343.9l.1 3.9M574.7 339.5l1.1 3.9-.3 .4-4.9 .1M574.7 339.5l-3.6 .2M575.5 343.8l.1 4.1M562.7 351.2l-.2-5.5 2.8-.1M575.4 351l-1.5 2-2.4-.3-2.2-2.7M575.4 351l-.2-2.6M569.7 355.1l-2.4-.9M569.7 355.1l1.8-2.4M549.2 361.9l.9 5.4 3.5-.7M549.2 361.9l1.3-1.2M562 356.8l-4.7 .6-.4-.3 .8-5.6 4.5 .5M549.7 371.8l.2-4.2-5.6-1-.9 1 1.4 5 4.9-.8 .8 .8M542.1 376.3l2.7-3.7M544.5 362.1l4.7-.2M544.5 362.1l-.2 4.5M539.1 367.8l4.3-.2M552.6 356.8l4.3 .3M557.3 357.4l.3 5.8M551 358.4l1.6-1.6-.6-4.2 5.1-1.7-.4-3.5-5.1-.6-.4 5.1 .8 .7M574.1 362l-.7-.3-1.8-4 3-1.8 1.9 1.1-1.1 4.2M574.6 355.9l-.7-2.9M569.7 355.1l.7 2.4 1.2 .2M549.2 325.6l-5 .6 .5 5.3 5.6-1.1-.5-4.3-.6-.5 0-4.7-.5-.5-.3-4.2 1.2-1.2 3.5-.3 1.8 5.1-.6 .8-5.1 .3M545.2 337l.4-.5-1.1-4.7-4.9 .2M561.5 329.4l-1 1.4-5-.5 .3-4.3 4.4-1.1 1.3 4.5 4.7-.4-.1 5.4M561.5 335l-1-4.2M554 386.7l2.7 2.5-.6 2.8-3.3 2.6M602.8 310.1l-4.8 .1 0 3.9-3.6 .7 .3 4M593.9 319.6l-3.1 .1-.8-4 3.9-1.2 .5 .3M589 311.2l.3-.2 3.8-.2 .8 3.7M599.2 288.1l-4.1 .2-.2-4.4M600.4 289.8l4.6-.9-1-5.4M594.7 288.7l.4-.4M598.1 282.8l-.7-4.8-.6-.4M585.1 273.8l-.4 .6M585.1 273.8l5.6-1.1 0-4.5-6.4 .3 .4-5.3 4.5-.9 1.7 5.5 4.4-.7 1.7 5.1-.6 .8M584.1 268.7l1 5.1M590.7 268.2l.2-.4M601 265.9l-4.9 .4-1-4.8 .6-.9 4.9 .1 .4 5.2 .9 .8-.1 4.8-4.8 .7M595.3 267.1l.8-.8M605.9 259.4l-4.9 .8-.4 .5M606.6 265.4l-.7-6 6.2-.3-.9-6.1 5.9-.4M601.9 266.7l4.7-1.3 .4 .3M582.4 246.4l-6.3-.1M582.4 246.4l.4-.5-1.3-5.1-4.4-2.4M581.5 240.8l4.8-1.7M584.1 268.7l-3.5 0M556.5 266.6l1.4 7.6M560.4 275.2l.2 7.2-4.4 .3M565.3 281.6l-4 1.3-.7-.5M574.4 295.8l.8-.9M574.4 295.8l-5.3-.3M591.6 293.4l.4 3.8-3.9 .5M592.7 302l-.4-4.6 3.8-.7 .1-3.4 3.8-1.2M588.3 302.3l-.5-4.1M588.3 302.3l4.4-.3M574.4 295.8l.6 3.7-5.6 1.9M596.2 296.8l4.7 .2M595.4 292.5l.8 .8M605.2 289l.8 4.9-4.2 .8M596.7 301.3l-.5-4.5M596.7 301.3l-3.9 .7 .5 4.2 4.2 .3 .4 3.6-4.8 .7 .1-4.5-4 .5 .1 4.2M606.8 299l-.8-5.1 4.5-.6 1.2 4.7-4.6 1.3M497.6 336.6l-.5 .8 .7 4.3M497.6 347.2l-4.8 1.3-1.2-1.2 1-4.7 4.6-.3M486.2 347.3l5.4 0M486.8 342.6l-1.3 1.6M486.8 342.6l4.8-.9 1 .9M472.3 324l1.9-2.6M472.3 324l.5 5.6 6 .2M466.1 329.8l-.3-5.4 6.5-.4M466.1 329.8l.3 .3 5.8 .1 .6-.6M492.5 331.6l-.9-.9-5.4 .8-2.1 2.7M492.5 331.6l-.5 4.9-.6 .5-5.1-.5-1.2-.9M497 331.3l-4.5 .3M496.2 325.1l-4.5 .8-.1 4.8M497.1 337.4l-5.1-.9M486.4 325.4l-.7 .7 .5 5.4M491 325.2l.7 .7M491 325.2l-4.6 .2-.8-5.3 5.4-.5 0 5.6M491.6 341.7l-.2-4.7M486.8 342.6l-.5-6.1M480.1 325.8l5.6 .3M490.9 314.7l-5-.6-.5 5.9-4.5 .2M490.9 314.7l.3 4.7 5.4 .6M485.6 313.9l.3 .2M460.9 320.6l1.1-5.8 5.3-.9 .3 4.6M459.9 330.3l-.7-7.8M459.9 330.3l6.2-.5M465.8 324.4l-1.5-1.7M460.7 313.7l1.3 1.1M486.5 364.8l6 .5 .7 4.5-8 1.5M516.9 280.9l4.4-.3 0-4.8-4.2-.6M522.1 281.4l-.8-.8M536.7 300.1l.7 .6-.3 4.8-4.8 .2M537.9 310.4l5.2-.4-.1-4.8-5.9 .3 .8 4.9-.3 .5M536.5 294.4l4.9 .4 .4 4.7-4.4 1.2M543.2 304.9l-.7-4.9-.7-.5M534.4 284.8l6.4-.9 .7 5 4.8-.6 .2-4.1M539.4 277.1l1.5 6.7 4.2-.7M537.8 268.7l-.3 7.2M537.7 315.6l.7 5.2M533.1 321.4l-.5-.3M522.8 317.9l4.1-1M526.5 324.9l2.3-2.8M544.5 362.1l-.9-1-5.2 .9-.3 .5M533 363.2l-.7-.6-5.2 .4-.3-5.4-5.8-.3-.2-4.9M538.4 362l-1.3-4.7-4.5 .1-.3 5.2M564.2 318.5l.5-4.5M559.4 319.4l4.8-.9 1.2 1 5.2-.7M559.4 319.4l-.6-5.8-5.6 .9 .2-5.4 .3-.3 4.7 .1 .3 .2M563 308.1l.4-5-4.8-.3-.5 .6 .3 5.5M568.8 302.7l-5.3 .3-.6-5.7-5.2 1.4-.5-.4 .5-5.2 4.2-.3 1 4.4 5.3-.2M492.1 263.7l-.2-3.4-.5-.6-5-.1-.8 4.4M479.7 259.7l.4-.4 5.9-.2 .4 .5M491.9 260.3l5.9-1.3-1-5.3 .5-.7 .3-5.4-5.4-.4-1.1 1.3 .4 5-5.6 .5-.4-.3M498.3 263.4l-.3-4.2 5.4-.7M490.5 293.8l.3-.4M490.8 298.7l.3-.4M479.4 248l.3 .3M485.3 248l-.3 .3M485.7 242.7l-.4 5.3 5.8 .5M480.1 259.3l.2-4.8M486 259.1l-.1-5.1M508.9 258.8l6.2-.2 .2 3.3M508.9 258.8l.6 4.2M515.3 265.8l-1-1.1M510.4 271.3l.2-6.5M520 257.7l-4.9 .9-.8-6M508.9 232.6l.3-6.1 .4-.4 4.8-.5 1 .8M503.3 232.1l5.6 .5M503.3 226.1l5.9 .4M508.2 220.3l1.4 5.8M514.5 220.4l-.1 5.2M516.5 232.1l-.9-1M521.7 244.1l-5.9-.1M517.4 250.8l-1.9-6.4M509.5 246.5l.6-.8M504.1 239.4l4.7-.6M394.2 195.6l1 6.9 3.8 2.5 2.5-.6 1.7-8.6M385.8 196.1l8.4-.5M388.9 204.1l6.3-1.6M406.8 206.6l-5.3-2.2M396.1 211.9l2.9-6.9M430.5 230.3l-1.1 1 .4 5.7 5.9 .7 1.2-5.8-.9-1.1-5.5-.5-.2-5.6M423.2 230.4l6.2 .9M437.2 225l-1.2 5.8M442.6 231.8l-5.7 .1M429.8 237l-1.3 1.1M416.1 243.8l6.3 .2M422.9 250.8l-.1-6.4M437.7 291.4l5.9-.5 .3 .3 .1 5.2M442.8 303.5l.7-.7M450.1 291.6l-1 5.3M450.1 291.6l-1.6-1.5-4.6 1.1M455.1 297.2l-5.5 .3M454.4 291l-4.3 .6M481.3 438.2l.4 6.8 6.7 .6 .5-.7-.5-6.8-7.1 .1-.3-.3M488.8 450.9l-.4-5.3M481.2 445.5l.5-.5M494.4 444.5l-5.5 .4M488.9 437.5l-.5 .6M489.3 451.3l5.6 .2M481.7 430.7l-.4 .4M474.5 424.3l.2 5.9M475.2 438.3l-.3 .3M474.7 445.6l-.8-.8M467.1 445.9l-6.8 .2M460.4 438.8l6.1 .5M467.1 445.9l.4-.5M481.6 466.6l-7.1 .6-.1 7.1 7.9 0M475 481.1l-.7-6.6-7.3 .3-.6-.6-6.2-.1-.2 7 .8 .7 6.3-.2-.1-6.8M446.4 467l.4 .5-1.1 6.4-5.7 .6M446.5 481.9l.7-.7-.7-6.5-.8-.8M467.1 445.9l.6 6.4-7.1 .5-.4-.3M474.2 453.1l-6.2-.5-.3-.3M474.7 459.5l-.4 7.4-6.3-.5 0-6.5 6.7-.4 .4-.5M466.9 458.6l1.1-6M466.9 458.6l1.1 1.3M453.4 460l.8-.7 6.3 .1 .1-6.6M453.4 460l.8 6.1 5.6 .8 1.4-1.3-.6-6.1 6.3-.9M453.7 452.9l.5 6.4M447.1 460l6.3 0M452.4 467.8l-5.6-.3M452.4 467.8l1.8-1.7M467.5 466.7l.5-.3M467.5 466.7l-6.3-1.1M453.6 489l.5-.5 6.4 .1 .3-6.8M664.4 278.3l4.7-3.1-2.7-6.1M671.1 280.4l-.2-4-1.8-1.2M671.1 280.4l-2.6 2.2-3.3 .3M710.4 255.1l-2.2 3.3M705.8 249.8l-2.4 3.7 4.2 5.1M690.1 249.7l3.5 4.5 3.3 .5 .4-.4 1.4-5.5-2.7-2.6-5.9 3.5-.3-.2-1.7-6.9 7.3 .8 .6 2.8M696.9 241.6l-1.5 1.8M701.7 247.1l-3 1.7M703.4 253.5l-6.1 .8M660.4 300.3l2.1 .6 2.7-2-.3-3.1-3.6-2M660.4 300.3l-1.1-4.8M700.6 325.2l-1.3 1 .1 2.7 1.8 1.5 3.1-2.9-2.4-2.7-1.3 .4-2.4-4.1 2-1.3M760.7 250.6l2-7.7M735.9 245.4l1.3 0 3.9-2-3.5-4.4M744.2 238.3l.6 2.1-2.6 3.1-1.1-.1M755.9 251.5l-.9-.8-3-.9M736.2 275.3l.3-5.6M743.2 271.8l-2.4-4.1M713.2 262.7l-1.9 5.3 1.9 3.5 3.8-.4M707.3 267.2l-1.7-6.1M707.3 267.2l4 .8M721.5 260l.3-4.2M721.5 260l-3.9 2.5M731 272.6l-4.1-.6 .7-3.2M724.1 261.7l-2.6-1.7M724.1 261.7l1.5 4.6M638.8 425.5l.1-4.5-3-1-2.3 2.3 1.2 3.3M637.6 426.3l1.2-.8 1.8 .3 3.9-2-.5-1.9-4.8-1.2 1.8-4-2.4-1.2-.8-2.6 1.5-2.5 4.5 1.5-1.4 4.5-1.4 .3M627.8 421.8l-.4-3.2M630.2 423.2l2.6-1.2-2.6-3.9-.6-.4M627.8 421.8l2.4 1.4-.4 2.9M633.6 422.3l-.8-.3M630.2 418.1l5.1-.6-1.6-3.6-3-.5M635.9 420l-.6-2.5 3.3-2M668.5 422.4l-1.2 .9M668.5 422.4l-1.2-6.2-2.4 .3M683.1 408.1l1.8-6.8 .5-.3 5.8 8M683.1 408.1l7.4 2.6M680 402.1l4.9-.8M680 402.1l-2.9 1.7 2 5.6 .4 .1 3.6-1.4M672.2 409.8l-3.5 2.5 .5 2.7 3.9 1.8 2.4-1 .7-3.8-4-2.2-1.2-5 4.6-1.6 1.5 .6M679.1 409.4l-2.9 2.6M684.5 415.4l-5-5.9M680.7 419.6l-5.2-3.8M660.9 414.3l4.9-4.3 2.9 2.3M667.3 416.2l1.9-1.2M671.1 421.7l-2.6 .7M671.1 421.7l.4-.3 1.6-4.6M677 424.1l-5.5-2.7M689.8 496.4l-5.5-4.5-3 4.2 .7 2.4 3.4 1.8M681.1 507.7l-1.6-.4-.4-7.5 2.9-1.3M359.4 323.9l-.6-8.4 1.6-1.3 8.6 1.7M370 307.4l-8.6-1.1-3-4M380.3 306.9l-9.3-.5M360.4 314.2l1-7.9M377.5 335.2l-1.4 7.5M368.1 333.6l-.9 8.7M359.4 333.7l1.3-1.4M359.4 333.7l.2 6.8 7.2 2.1M357.4 350.6l-1-7.5 3.2-2.6M357.4 350.6l8.3 .4M356.7 351.4l.7-.8M367.5 409.3l-4.3-.7M391.3 430.3l-1.1-1.3-.2-5.9 1.4-1.1M384.4 436.3l-1-6.5 6.8-.8M387.3 386.7l-1.3 1-8.6-1.7M402.8 360.3l-5.4 0-1.2 6.2M402.9 360.4l0 6.7M389.8 359.2l7.2 .6 .4 .5M401.7 373l-.5-4.8M407 373.8l1.2-6M489.3 408.1l3.7-.1 .5 5.5-6.1 1M493.3 402.7l-5.9-.7M493.3 402.7l0 4.9-.3 .4M482.8 409.5l1.8 2M493.3 407.6l6.6 .4-1.1 5.5M494 414l-.5-.5M510.5 383.5l-5.6 .4M510.5 389.8l-5.8-.5-.1 5.8-4.9 .7-1.3-.9M488.1 396.1l5 .3 .9 5.4-.7 .9M493.4 396l-.3 .4M396.5 294.9l4.9 6.3 4.6 0 0-8.4-2.1-1.8-3.8-1.1-2.6 2.1-1 2.9-4.4 4.4M397 305l4.4-3.8M388.5 289.3l9 2.7M399.3 285.8l.8 4.1M409.5 283.9l-5.6 7.1M403.9 309.2l3.7-1.2-.3-5.3-1.3-1.5M410 310.3l-2.4-2.3M407.3 302.7l5.5-2.1M406 292.8l2.9-.1 4.8 4.1M421 279.3l4.7 .2 1.2-7.2M421 279.3l.4-7.5M435.3 264.4l.2 7.5M427.9 264.1l7.4 .3 .5-.5M426.7 280.2l4.9-1.2 .9 5.6-.6 .6-5-.3-.2-4.7-1-.7M431.8 272.9l-.2 6.1 6.1 .7-.3 5.1 .5 .6 4.7 .1 .5-.3 .5-5.6-5.5-.3-.4 .4M425.8 286.1l.2 4 5.8 .9 .1-5.8M425.8 286.1l1.1-1.2M454.8 286l-5.7-.9 .2-5.2-5.5-.4 0-2.2M448.5 290.1l.2-4.6 .4-.4M442.6 270.3l-1.9 1.6M448.8 257.7l-6.4 .7M459 342.8l1.2-1 6 1-.3 5.6M472.5 348.7l-.6-5.8-5.2-.6-.5 .5M454.4 331l5.2-.2 1.1 5.5-.4 .6-6.4-.8 .5-5.1-.8-.8M459.9 330.3l-.3 .5M453 337l.9-.9M460.2 341.8l.1-4.9M466 335.6l-5.3 .7M466.4 330.1l-.4 5.5 1.1 1.1-.4 5.6M434.5 341.6l-5.5 1.4 .3 4.6 5.8 .8 .3-5.9-.9-.9 0-4.5M428.1 342.1l.9 .9M441 342.2l-5.6 .3M428.2 348.7l1.1-1.1M409.4 317.6l-10.5-2.3M404.8 328.3l.2-5.2M419.1 320.2l-.3-5.8-3.8-.6M398.7 322.7l1-.9M438.1 313.8l-1.2 1.4 .5 5.2M425.5 313.9l-.1-5.6-6-.7 .4 5.9 5.7 .4 .5 .4 4.9-.1 .4 .4 .2 6M418.1 306.1l1.3 1.5M418.8 314.4l1-.9M422.2 360.5l-.9 .9 .8 6M420.4 374.7l.4-6.3M403.6 353.6l-.1-5.6-.5-.7-5.5 .4-.7 5.6 .3 .4 6.5-.1 .5 .6 5.3 .2 .4-.3M410.2 348.3l-6.7-.3M404.1 354.2l-1.3 6.1M397 359.8l.1-6.1M390 353l6.8 .3M396.9 347.2l.6 .5M403.9 342.3l-.9 5M348.5 296.9l.8-9.8-15.9-1.4-.5 10.4M258 302.5l9.5 2.7M270 293.7l.6 1M264.8 315.6l3.6-8.9M277.9 319.5l-.5-11.3M291.4 310l2.1-12.8M291.4 310l-.7 .4M281.6 297.1l5.1-4.4M274.9 282.8l10.3 3.1M289.9 267.8l17.9-1.5-.4-11.9-10.6-3.7M311.3 252.1l-3.9 2.3M337.2 272l.5-13.4-12.8-1.3-3.2 11 15 4.1 .5-.4 12.6 1.2M340.1 257l-2.4 1.6M349.9 286.5l-.6 .6M333.3 285.6l3.4-13.2M323.9 255.4l1 1.9M309.9 268.6l-2.1-2.3M309.9 268.6l11.1 .3 .7-.6M620 321.9l.4 4.8 1.7 1.2M609.7 329.2l1.6-2.2M610.6 332.8l-2.6 1.7M610.6 332.8l.3-.7M615.7 326.9l-.2-4.5 4.5-.5M610.1 323.6l.3-.4M616.9 327.4l3.5-.7M609.4 318l.6 .4M610.6 332.8l3 3.9-1.6 .9-4-2.2M607.6 340.1l3.3-.3 1.1-2.2M579.3 338.2l3.7-.2 .6 .5 .2 4.4-4.1 .1 .3 4.6M579.3 338.2l.3 4.8-3.8 .4M574.8 339.5l4.4-1.4-.9-3.7 .3-.5-.7-3.3-5.6-.6M587.9 338l1 4.4M587.9 338l-4.3 .5M585 343.9l-1.2-1M601.7 363.7l1.5-2.5M607.3 364.6l-.8-2.8M609.3 355.3l-2.4 2.3M610.6 360.4l.9-.6M610.6 360.4l-2.7 .1M597.9 345l-2.6 1.8 .2 3.3-2 1.1-.2 3.4 3.4 1.7 .9-3.2-1.5-2.7-.6-.3M597.9 345l.5-2.1-1.9-3.1-1.1-.5M595 346.7l-1.3-3.5M601.4 342.5l-3 .4M599.8 346.4l3.9-1.1 .5 2.9-1.9 2.1 .2 2.1 3.1 .9 1-.3-1-4.4-1.4-.4M599.8 346.4l-1.9-1.4M600.8 338.2l-4.3 1.6M589.1 342.9l1.2 3.1 .4 .1 4.3 .6M600.1 349.3l2.2 1M599.8 346.4l.3 2.9-4 1.1M608.3 348.3l-2.7 .3M608.7 353.3l-2.1-.3M601.5 353.6l1-1.2M601.5 353.6l0 4.1M604.8 357.2l.8-3.9M602.6 373.1l-.5 5.8M582.9 365.2l.1-4-1.9-1.2-2.5 2M587.6 363.4l-1.3-2.8-.9-.2-2.4 .8M576.5 357l1.9-.3 2.2 1.6 .5 1.7M580 348.9l-.3 3.4 3.4-1 2 2.3 3.5-2.3 4.1-.3 .8 .2M575.4 351l4.1 1.6 .1 .4-1.2 3.7M580.6 358.3l3.6-2.9-4.6-2.4M626 295.7l-4.7 1.5-1.1-5.2 4.9-.4 .9 4.1 .7 .5M621.9 301.6l-.6-4.3-5.1 .2-.4 .4 1 4.4-4.5 1.4-.4-.3 .3-5.1 3.6-.4M618 307.5l-.3-.2-.2-4.5 4.4-1.2M612.8 308.7l.7-.8 4.2-.6M605.2 289l4.6-1-.9-5.6M634.5 285.3l.5 4.7-4.3 .5-1.7-6.8M634.5 285.3l-3.4-2.6M638 309.7l-4.2 .4-1.1-4.7 4.4-1.1 .4 .3 .5 5.1M643.2 308.1l-4.9 1.8 1 3.7 4.7-.5-.7-5 4.5-.7-.8-4.7 5.9-.9M643.2 308.1l-1.4-4.1-4.3 .6M635 290l.4 .2 .3 4.4-5 .9 0-4.9-5.3 .5-.7-4.4 2-2.4M657.6 284.6l-5.7-1.7M640.8 276.9l1.2 .8 2.2 5.1-.8 1.1-3.9 .9-.4-.3-.8-4.4M647.6 277.6l-5.6 .1M634.5 285.3l4.6-.8M650.4 281.9l-6.2 .9M635.4 290.2l4.4-.9-.3-4.5M652.5 297.2l-6.2 .9-.9-4.1-4.5-.1-.8-4.3-.3-.3M646.9 302.6l-.7-4.4-4.8 .9 .6 4.6 4.9-1.1M655.5 302l4.9-1.7M629.4 400.6l.6-.5 3-.2 2.5 4 2.4-1.3 3.4 1.8 .4 1.3-2.9 3.2 .5 1.5M631.1 405.2l-1.7-4.6-3.7 .6-.6 .3 .2 1.1 2.6 2.8M632.4 406.2l3-2.1 3.2 4.8-4.2 .6-2.3-1.2M665.8 410l0-3.1 3.6-2.5 1.6 .4M668.1 400.9l1.3 3.5M675.6 403.2l-1.1-5.5-4.8-.3-1.6 3.5-5-1.4-1.6 .8-.8 1.7 1.3 3.4 3.8 1.5M628 430.8l-2 1.3M626.5 435.6l3.5 .9 1-1-1.6-4.2M632.9 458.2l0-3.9-3.2-.2-1.7 1.3M632.9 454.3l.9-1.8 3.8 1.4 .9 3.9M575.6 444.7l1 6.7 5.6-.1-.5-7.1-6.1 .5-2.7-1.9M574.8 439.1l-2 3M576.3 451.8l.3-.4M617.2 412.1l.2 1.7 2.7 2 1.3-.8M610.5 414.3l4.2 1 2.7-1.5M613.7 410.7l-3.4 1.4M612.6 421.4l2.7-1.7-.6-4.4M620.1 415.8l-.3 3.1-.6 .8-3.9 0M626.9 418.5l-2.8 1.3-4.3-.9M619.6 429.1l-1.2 1.8M619.6 429.1l-2.1-3.9-3.8-.3M622 428.3l2.9 3.6M622 428.3l-2.4 .8M611 428.5l.8-1.3M619.6 422.6l-.4-2.9M619.6 422.6l-2.1 2.6M604.1 422.9l-.5 .5M631 435.5l3.7-.2-.4 4.6-1.2 1.4-3.4-.7 .3-4.1M635.3 432.1l-.3 3 4.3 1.5 .2 2.1 3.3 1.6 3.2-2 .2-.7-5.4-2.4-1.5 1.4M644.8 424l3.6-.4 .4-4.4-4.3 1.1-.5 1.6M649.1 417.3l.3 1 2.9 1 2.1-1-1.5-3.9-1.7-1-2.1 3.9-1.6-.9-4.3 .7 1.3 3.2M649.4 418.3l-.6 .9M665.7 422.7l-4.3-.8-1.9-4.7 .9-2.2M652.9 414.4l6.1-1.4M654.4 418.3l2.2 .1 2.9-1.2M648.4 423.6l1.8 1.1 2.3-.5-.2-4.9M664.1 492.2l3.4-4.5-1.3-3.5-2.5-1.3-6.9 2.7M542.1 446.9l-.5 .5-7 .4M514 450.6l-2.6 .9-2.4 6.9 .3 .4 9.3-4.1 .5 .7M510.7 461.5l-1.4-2.7M519 444.7l2.5 .2M523.3 438.3l.2 5.2M520.3 436.1l-4 3.5M528.9 443.9l-2 .4M531.6 452.2l-4.6-1.3M523.5 455.3l3-4.2M512.2 444.3l-5.8 1.1 2.1 4.7 2.9 1.4M500.4 439.8l2.6 4.9-1.4 1.4-6.6-1.3M508.2 438.2l-3.1 6.3-2.1 .2M512.6 439l-1.1-1.1-3.3 .3M505.1 444.5l1.3 .9M503 458.9l2.8-1.1-1-5.5-4.1-1.6-3.1 2.6M509 458.4l-3.2-.6M496.4 458.5l1.4-1.5M508.5 450.1l-3.7 2.2M501.6 446.1l-.9 4.6M554.3 456.5l-1-4.8 6-.8-1.1-5.4-4.1 .6M564 439.6l5.3-.2M564 439.6l-.4 5.3 7.1 .1M518.7 431.2l-.3-5.2-6.1-.1-.3 5.2M511.5 437.9l1.7-5.1M518.7 425.6l-.3 .4M545.4 424.8l-5.5 .4 .4-5.9 4.8 .8 .3 4.7 .4 .4M546.3 418.9l-1.2 1.2M570.6 423.9l3.1 2.6M574.9 433.2l-.7-.4M562.9 428.4l5.2 .4M562 429.4l1.5 4.7 5.3-1.3M615 406.4l-2.3-.3-3.4 3.9M602.9 410.2l1.1 6.3M602.9 410.2l5.6-.3M623.8 408.6l-.2-1.4 1.7-4.6M617.3 406.4l2.7-1.7 3.6 2.5M602.1 405l.7 5.1-6.2 1.7M602.1 405l4.3-1.5M612.5 360.2l1.1 3M622.3 356.5l-.6-.2M619.3 357.3l-.6 1.7 2.7 2.6 2.8-2.4-1.9-2.7 3.1-2.2-.7-2 2.3-1.3-1.3-3.8-2.6 1.7 .4 2.8 1.2 .6M618.7 359l-2 1M617.9 365.7l-3.6 1.6-3.2-1.6M610.6 360.4l-.4 4M602.2 388.1l.8 2.6M604.7 385.8l2.4 .3 1.2 1.4-1 3.5M602.2 388.1l2.5-2.3-1.2-2.9M604.9 380.1l3.5 2-1.3 4M604.9 380.1l-.4 .1M594.3 379.8l.7 4.1 4.1 .8 .6 2 2.5 1.4M593.5 388.1l-.5-.8M593.5 388.1l3.7 1.1 2.5-2.5M595 383.9l-1.8 2.1M589.9 380.9l.2 2.9M585.7 384l-1.5 3.5 3 1.7 1.4-1.1M592.1 393l1.4-4.9M588.2 393.2l-1-4M583.8 399.9l-1.2-5.3M509.1 346.9l.7 .6 4.5-.4 .7-.9M520.3 351.9l-5.1 .3-.9-5.1M521 357.3l-.3 .4-5.4 .7-.5-5.8 .4-.4M520.7 357.7l.9 5.6-5.9 .1 .4 5.3-.9 .8-4.3-.5-.5-4.6 5.2-1.1-.6-4.6-5.1-.1-.6 4.8 1.1 1M601.5 353.6l-3.9-.5M597.2 358.1l-.5-1.8M592.7 351l-2-4.9M595.4 359.6l-3.5-1.2 .2-2.7 1.2-1.1M591.1 365.5l-.6-6.5-1.6-.3-2.6 1.9M590.5 359l1.4-.6M562.1 345.5l-5.3 1.8-.7-5.8 5.1-.4 .9 4.4 .4 .2M561.8 340.2l-.6 .9M578.3 334.4l-3.9 .5-1.7-1.1M583.6 333.8l-.6 4.2M583.6 333.8l-.7-.5-4.3 .6M582.9 333.3l-.5-4.1 4.6 0 .1 3.5-.5 .7-3 .4M578.3 330.1l-.4 .5M574.8 339.5l-.4-4.6M586.1 320.2l.4 .3 4.3-.7 .1 4.3-4 .3-.5 .7 1.1 3.4 3.6-.2 .2-3.8-.4-.4M571.8 328.9l-5.5 0-.7-4.8 5.4-.5M557.7 351.5l-.6-.6M550.7 345.9l-4.3 1.1 .3 5.3 4.5-.4M550.7 345.9l.9 .9M557.5 364.9l4.1 3 .6 3.9M557.5 364.9l.5 6.7M557 363.9l.5 1M560.3 362.8l3 2.6-1.7 2.5M563.3 365.4l2.1-.1-.5 6.3M573.4 361.7l-2.2 .3-2 4-2.6-1.5 1.4-4-.3-1-.4-.3-4.1 0M562.9 361l3.5 3.5-1 .8M566.3 355.4l1 3.8M570.4 357.5l-2.7 2M571.2 362l-3.2-1.5M561 335.8l-5.2 .2 .1 5.4-4.7 .6-.5 3.9M545.6 336.5l4.7 .2 .8 5.1-6-.2M545.4 346.5l1 .5M564 381.9l-1.4 4-2.7-.1-.8-1.8M556.7 389.2l1.5-.8 1.7-2.6M559.8 396.1l-2.5-3.4 5.5-.3 .7 3M556.1 392l1.2 .7M565.5 401.3l-.1-5M558.2 388.4l4.8 2.8-.2 1.2M597.8 306l-.3 .5M602.1 271.8l.2 5.3 .4 .3 5.6-.6-.9-4.8-5.3-.2M597.4 278l4.9-.9M608.2 271.1l-.8 .9M603.3 283l-.6-5.6M595.1 261.5l-5.7 .6-.3-4.9-6-.5-.2-4.4-.9-.9 .4-5M582 251.4l-6.2 .5M556.5 261.1l4.3-1.2M554.8 254.4l7.3 0M566.9 286.8l-4.9 .7 .5 4.4 5.2 .1M561.3 282.9l.5 4.4-5.7 1 .9 4.2 .7 .6M479 335.9l-6.4-.1-.4-5.6M479 335.9l-.4 6.3-5.5-.3-.7-5.8-5.3 .6M480.9 333.8l-1.9 2.1M471.9 342.9l1.2-1M493.7 370.3l4.7 0 .6 5.7M493.7 370.3l-.8 6M493.2 369.8l.5 .5M498.2 383.2l.4-5.9M487.1 359l5.3 .5 .3 5.5-.2 .3M504.9 375.7l-1.2-5.9-4.6-.1-.7 .6M510.3 369.5l-5.8-.7-.8 1M510.3 369.5l-.8 5.9M530.5 269.2l1.8 8.3M530.5 269.2l-7.1 .4M531 268.5l-.5 .7M521.3 275.8l2.4-2M527 281l2.5-2.6M543.2 304.9l4.6 0 .6-.8-1.2-5-4.7 .9M548.4 304.1l4.3-.5 .4 .4 .6 4.8M553.4 309.1l-4.8-.1-.8-4.1M553.1 304l5-.6M541.4 294.8l.9-1-.9-4.8-6.4 .9M538.1 355.9l5.8 .4 1.1-1.2M538.1 355.9l-.8-4.1 2.1-2.6M543.6 361.1l.3-4.8M537.1 357.3l1-1.4M546.7 352.3l-1.2 1.2M526.8 357.6l.4-.5M532.6 357.4l-.6-.6M537.3 351.8l-4.8 0M543.1 310l.8 .7-.4 4.8 4.9 .7M548.6 309l-.8 1.1-3.9 .6M543.6 321.4l5.1-1M554.6 325l-.3-4.4M549.8 326.1l4.8-1.1 1.2 1M560.3 324.6l-1-5.1-4.4 .3M547.8 310.1l1.8 4.9M562.5 291.9l-.6 .9M553 298.5l-.3 5.1M553 298.5l4.2-.2M558.6 302.8l-.9-4.1M503.6 263.6l.2-4.8M511 251.7l-1.6 1.6M496.8 253.7l-5.2-.1-.2 6.1M497.9 247.3l-.3 .3M491.1 242.3l1.1 4.9M503 253.4l-5.7-.4M452.4 467.8l1.8 6.4 5.6-.4 0-6.9M446.5 474.7l7.6-.4-.8 7.1-6.1-.2M454.1 488.5l-.2-6.5-.6-.6M679.6 272.1l-2.7 2.3-1.2-.3-3.4-6.9M679.6 272.1l-.5-5.9-.7-1M677.9 276.6l-1-2.2M677.9 276.6l2.9 1.5 4-2-1.4-3.7-3.8-.3M675.3 282.1l2.6-5.5M675.3 282.1l-4.2-1.7M670.9 276.4l4.8-2.3M696.9 254.7l1.5 4.9M707.1 267.4l-6.3 .4 1.2-6.2M690.6 256.7l.4 5.9M690.6 256.7l3-2.5M663.9 288.4l2.9 2.1 4-4-2.3-3.9M664.9 295.8l2.5-4.5-.6-.8M688 288.8l5.5-1.3-3.1-4-4.2 0 1-6.1-2.4-1.3M688 288.8l-2-5.1-3.9 .6-1.3-6.2M712.1 272.9l1.1-1.4M712.1 272.9l-5.4 .8-1.4-1.1 1.8-5.2M690.4 283.5l3.3-2.9 3.2 3.5-.3 3.3-.8 1.1-2.3-1M689.2 276.5l-2 .9M689.2 276.5l4.5 2.5 0 1.6M695.3 515l4.9-2.3M614.8 348.1l.8-1.1 3.5 .7-.7 4.2M713.9 339.4l1.5-2.1M713.9 339.4l-2.5 .3-.9-.5 0-4.6 .5-.2 4.5 2.2M714.9 330.2l-3.3 1.7-.6 2.5M695.3 325.2l4 1M693.7 326.8l1.1 2.4 1.6 1.8 3-2.1M693.7 326.8l1.6-1.6-.1-.8 2.5-3.4-2.1-2.4 4.4-1.8M710.5 334.6l-.8 0-3.2 2.7 1 1.9 3 0M706.5 337.3l-2-1.3-.1-2.8-2.5-1.1-.7-1.7M706.2 341.8l1.3-2.6M706.2 341.8l-3.6-1.6 1.7-4.1-3.5 .6-1.3 2.5-2.9-2.2-.3-3 2.7 .1 1.8 2.6M724.7 294.9l-2.9 5.5M724.7 294.9l5.1 4.1M728.1 291.8l.7-.5 3.7 .1M728.1 291.8l2.1 5.9M724.7 294.9l-.1-1.2-4.1-1.8-.4 7.5M728.1 291.8l-1.3 .3-2.2 1.6M744.8 240.4l4.2 1.9-.3 5.1M750.8 235.7l-1.7 6.6 5.1-.4 1-1.2 3.7-.8M755 250.7l-.1-4.5M741.8 255.2l-.9-4.3M741.8 255.2l1.1 .5 3.9-2.7-.1-4.5M746.3 261.3l-3.4-5.6M751.2 255.2l-4.4-2.2M737.2 245.4l4.2 4.4M742.2 243.5l1.7 4.4M732.1 255l7.4 1.3-.9 5.8-5.4-1.4M741.8 255.2l-2.3 1.1M724.1 261.7l7.7-2.3M740.1 263.7l-1.5-1.6M714.2 283.9l.3-5.2-1.9-1.3-4.3 2.8 1.2 3.3 4.7 .4M712.1 272.9l.5 4.5M706.2 279.2l2.1 1M706.7 273.7l-.5 5.5-4.1 1.3 1.4 4.8 4.9 0 .7 4-4.6 1.5-.4-.2-1.4-3.5 .8-1.8M716.9 278.3l-2.4 .4M719.9 291.3l.6 .6M726.8 292.1l-2.2-3.7-1.3-.1M724.9 277.9l2.7-1.8-2.1-2.9-1.5-.2-1 .6-.5 3.6 2.4 .7 .6 3.1 1.8 0 4.5-2.3M729.4 276.8l-1.8-.7M722.4 283.1l3.1-2.1M719.9 279.2l2.6-2M718 272.3l5 1.3M726.9 272l-1.4 1.2M723.4 268.1l.6 4.9M633.7 413.9l1.6-1.1-.9-3.3M635.3 412.8l2.5 .1M643.2 417.1l-.8-.7M664 435.6l-.3 3.1-2.5 .6-2.8-3.1 1.6-2.4 4 1.8 1.4-1.5 6.3 1.4M661.2 439.3l-3.1 2.2 .7 1.4 3.3 2.1 1.2-.9 .6-5.2 5.9 2.1M684.3 491.9l-.6-3.4 4.5-2.6M685.5 400.7l6.2-.2 2.3 1.4M676.9 507.5l-3.1-2.1-.5-.1-4.4 3.6 3.4 4.7 1 0 1.7-.9 1.9-5.2 2.6-.2M677 499.7l-3.2 5.7M677 499.7l2.1 .1M680.3 516.1l-5.3-3.4M670.1 501.3l3.2 4M663.1 503.1l7-1.8 1.3-5.1 2.6 .3 3 3.2M668.5 509l.4-.1M668 516.8l4.3-3.2M675.5 523.1l-2.2-9.5M288 370.6l3.7 4M309.8 376l-12.1-1.9M359.4 323.9l-8.5 1-1.3 7.8 9.8 1M309.8 376l3.8-14.2M323.6 377.5l.1-15M377 405.4l1.4 1.8M375.9 416.3l1.7-1.5M384.9 415.4l-1-1M391.1 415.1l-6.2 .3-.6 6.8-7.6-1.5 1 8.5 4.8-.2 1.9-6.8 5.6 .9M375.4 419.4l1.3 1.3M383.4 429.8l-.9-.8M377.3 429.4l.4-.2M385.6 393.3l-.2 7.2-.5 .3-7.3-.4M385.5 393.1l-10 1.5M392.7 395l-7.1-1.7M391.5 400.7l-6.1-.2M386 387.7l-.5 5.4M385.3 408l-.4-7.2M365.1 395.9l9.6-.3M517.9 408.3l-.5-6.9-5.3 .4 0 5.7 5.8 .8M518 400.9l-.6 .5M511.6 413.7l-.4-5.4 .9-.8M505.4 413.6l-.4-4.9 1-.9 5.2 .5M505 408.7l-4.9-.8-.2-5.8-.4-.4-5.5 .1M418.3 303.7l.9-1M415.4 296.4l3.8 .3M426 290.1l-.7 .8 .1 5.4M431.8 291l.3 .3M420.8 279.5l-4.3-.9M416.1 290.4l3.1 .4 .5 5.4M419.4 290.7l1.4-6-.6-.7-4.2 .6M408.9 292.7l5.2-3.5M425.3 290.9l-5.9-.2M425.8 286.1l-5-1.4M420.8 279.5l-.6 4.5M410.9 283.6l2.8 1.9M437.9 273.3l.2 6M448.7 285.5l-5.6-.3M432.5 284.6l4.9 .2M437 290.7l.9-5.3M443.6 290.9l-1-5.4M426 314.3l-1.2 6M432.1 309l-1.2 5.2M436.9 315.2l-5.6-.6M428.8 329.7l.7-6.9M415.5 360.8l.4 .4-1.3 6M409.4 354.4l0 5.9M421.3 361.4l-5.4-.2M402.9 360.4l5.4 1M414 375.3l-.2-7.3M291.4 310l10.1 1.8M617.4 330.5l-2.7 1.5 1.4 3.4 .9-.1 3-2.1-.2-1.3M613.9 331.5l.8 .5M615.1 336.7l-1.5 0M615.1 336.7l1-1.3M623.1 334.4l1.7-5.4M623.1 334.4l-.6 .2-2.5-1.4M621.2 339.3l1-.6 .3-4.1M621.2 339.3l-4.2-4M569.6 304l5.9 .1M596.5 331.9l1.6 1.3M596.5 331.9l-.4-4.1 4.3-.4 .6 4.3M600.8 338.2l-2.1-5M600.7 326.9l-.3 .5M595.4 324l.4 3.5 .3 .3M587.9 338l.2-.5 4.1-1.2 2.6 2.1M588.1 337.5l-1.5-4.1M596.5 331.9l-4.4 .3-.6-3.5 4.3-1.2M592.2 336.3l-.4-3.6-4.7 0M592.1 332.2l-.3 .5M606.8 374l2.7-3.6 2.6 .9 .8 4.7-2.3 .9-3-1.2-.8-1.7-3.7-1.1M608.3 366.8l1.2 3.6M604.9 380.1l2.7-4.4M610.4 381.6l-2 .5M610.4 381.6l.2-4.7M613.6 370.6l.7-3.3M613.6 370.6l-1.5 .7M611 288.9l-1.2-.9M611 288.9l-.3 4.2 5.3 .1 .2 4.3M613.5 307.9l-1.2-4.2M617.5 302.8l-.7-.5M611.7 298l.5 .3M607.7 303.7l4.2-.3M613.4 270.6l.2 4.9 3.3 2.2M608.3 276.8l.5 .5 4.8-1.8M608.8 277.3l.6 4.6M628.7 310.6l5.1-.5-.2 5 5.3-.8 .4-.7M628.7 310.6l.7 4.6 4.2-.1 1.1 4.8-3.8 1.1-.3 4.2-1.7 1.8M640.5 294.4l-4.4 .5 .3 4.7-4.1 .3M640.5 294.4l.5 4.5-4.5 .8 .6 4.6M635.7 294.6l.4 .3M640.9 293.9l-.4 .5M641.4 299.1l-.4-.2M644.8 288.9l1.2 4.2 4.6-.9-1.5-5.1-3.8 1.1-.5 .7-4.7 .7M645.4 294l.6-.9M643.4 283.9l1.9 4.3M650.4 285.1l-1.3 2M653.3 293.9l-2.7-1.7M674.5 397.7l1.3-1.9 3 .1 1.2 6.2M633.8 452.5l-.7-2.1-1.3-1-1 .6-1.1 4.1M626.5 454.6l.2-3.9 4.1-.7M633.1 450.4l4.7-1.6 .6 3.8-.8 1.3M621.5 423.7l2.3-1 2.2 1.5 .2 2.2-3.5 1-1.2-3.7-1.9-1.1M624.1 419.8l-.3 2.9M622 428.3l.7-.9M627.8 421.8l-1.8 2.4M627.3 427l-1.1-.6M656.6 418.4l-.9 5.8 4.1 .2 1.6-2.5M652.5 424.2l1.8 .8 1.4-.8M646.9 472.2l5.5-.2-.4-6.3-2.9-.8M649.6 478.6l3.3-6.1-.5-.5M663.7 482.9l.7-6.5 5.5-1.6-.7-6.5 5.2-3M666.2 484.2l2.4-1.3 1.4-8.1 3.3 1.1 5.6-2.5M671.3 429.3l-5.9 1.5 0 3.3M671.1 421.7l2.2 7.4M666.2 425l-1.1 5.3 .3 .5M666.2 425l.8-1.3M542.7 452.5l.2 5-4.6 .1-1.3-4.4 4.8-1.4 .9 .7 5.3-.8M543.6 458l-.7-.5M548.3 451.3l-1.1-4.3M541.6 447.4l.2 4.4M533.6 450.8l3.4 2.4M537.1 459.1l1.2-1.5M569.4 449.4l-4.9 1.2-.4 .5M564.5 450.6l-1.1-5.5-5 .2-.4-4.7-5.8-.5 .3-4.3-.7-.9M547.5 446.5l5.8-1M558.6 439.8l-1.4-4.7 .5-.6 5.4 .1 .4 4.5-4.9 .7-.6 .8M552.5 435.8l4.7-.7M564 439.6l-.5-.5M563.5 434.1l-.4 .5M557.4 429.7l.3 4.8M589.7 400.5l5.2-.5 .7 5.8 6.3-1-1.6-5.2-5.1 0-.4-4.9M589.2 405.5l.6 .6 5.7-.2 .7 5.6M601.9 397.5l-1.6 2.1M594.9 400l.3-.4M597.2 389.2l.8 3.4M577.8 407.7l-.5-6.1-5.9 1M583.6 407.3l.8-1.1M582.8 401.2l-5.4 .3-.9-5.1M565.5 401.3l4.2 .3M604.6 394.9l2.6-.7 1-2M611.9 390.6l-.2-3.7-3.4 .6M614.2 394.8l-1.4-3.5M614.2 394.8l-2.4 .7-3-3.1M605.8 398.8l1.9-1.1-.5-3.5M613.1 400.5l-2.4-2.9-2 .4 1 5.3-1.9 .7M613.1 400.5l-3.1 2.8 2.7 2.8M607.7 397.7l1 .3M611.8 395.5l-1.1 2.1M621.4 361.6l-.1 2M584 387.6l-3.2 6M584 387.6l-3.8-1.9-1.8 .7-.1 4.8 1.4 2.4M581.3 381.4l-1.1 4.3M576.5 385.6l1.9 .8M574.5 385.6l-1.2 4.6 5 1M567 382.4l.5 3.3 2.9 .1 2.7-1.3M562.6 385.9l2.8 2.4 2.1-2.6M563 391.2l2.4-2.7 3 2.2-.4 4.6M572.7 390.7l-2.2-.5-2.1 .5M572.7 390.7l.5 4.2M573.3 390.2l-.6 .5M570.4 385.8l.1 4.4M521.1 368.5l-5 .2M516 375.3l-.8-5.8M510.3 369.5l.6-.5M592.1 355.7l-2.6-1.3-1.5 2.2 .9 2.1M585.4 360.4l-.8-5 3.4 1.2M584.2 355.4l.4-.1 .5-1.7M589.5 354.4l-.9-3.1-.6-1.6-3.6-2.2M582.4 325.2l4-.1M586.5 320.5l.4 3.9M587 329.2l.5-.7M591.5 328.7l-.4-.4M595.4 324l-4.1 .5M565.4 319.5l-.1 4.4-5 .7M577.2 321.8l-5.3-.1M555.5 335.7l-4.8 .6-.4-5.9 5.1 0 .1 5.3 .3 .3M550.3 336.7l.4-.4M605.9 259.4l-.5-4.5 2.9-4.2M611.2 253l-2.8-2.4M592.5 245.2l.6 4.7-4.4 1.7-.6-.4-1-5.5 .8-.6 4.6 .1 .8-.9-.9-5.1M587.3 239.7l.6 5.4M582.8 245.9l4.3-.2M582.9 252.3l5.2-1.1M589.1 257.2l.6-.7-1-4.9M583.5 262.4l-1-5-5.6 .6M583.5 262.4l-4.2 1.4M584.7 263.2l-1.2-.8M583.1 256.7l-.6 .7M556.5 266.6l4.7-.2M492.7 365l5.3-1.1 .4 .4 .7 5.4M557 292.5l-4.8 1.5 .5 4.2-5.4 .7-.6-4.7 4.6-1-.1-4.2-4.4-.2-.5 5.1 .4 .3M453.9 482l6.1-.9M459.8 473.8l.4 .3M467.5 466.7l-1.1 7.5M467.6 482.2l-.5-.6M685.2 268.3l3-3.6M685.2 268.3l-.1 2 5.4 2.3 2.1-1.7-1.8-6.1M679.1 266.2l6.1 2.1M683.4 272.4l1.7-2.1M689.2 276.5l1.3-3.9M681.6 254.1l-3.2 2.2 1.9 5.8M681.6 254.1l3.6 2.4 .3 .5-1.1 4.2M681.3 249.9l.3 4.2M687.8 250.4l-6.5-.5-.3-.5-5.3 .5-1-5.8M687.8 250.4l-2.6 6.1M690.6 256.7l-5.1 .3M687.8 250.4l2-.9M681 249.4l1-5.9M688.1 242.6l-.6-.6M674.8 255.6l-1.8-3.3-.5-.1-4.4 1.9 .6 5.7 3.9 1.2 2.2-5.4 3.6 .7M675.7 249.9l-2.7 2.4M674.4 264.6l-1.8-3.6M664.8 261.6l3.9-1.8M666 253.5l2.1 .6M668.4 245.2l4.1 7M662.5 300.9l1.3 4.7M665.2 298.9l5.1 .5 1.5 3.7M670.3 299.4l1.4-2.6-.6-3.6-3.7-1.9M679.3 298.6l.6 3.1M679.3 298.6l-2-1.7-5.6-.1M703.7 272.4l-3.9 5-2.6-1-1.3-4.4 3.6-2.9 .6-.2 3.6 3.5 1.6 .2M701.9 280.4l-2.1-3M700.8 267.8l-.7 1.1M694.1 263.5l5.4 5.6M692.6 270.9l3.3 1.1M693.7 279l3.5-2.6M696.9 284.1l5-3.7M712.3 375.9l1.1-1 2-.7 .8 4.1M712.3 375.9l-.1 4.7M721.4 374.6l1.2 1.2M721.4 374.6l-5.2-1-.8 .6M721.2 340.1l-4.8 3.8 .7 2.6M713.9 339.4l1.5 3.9 1 .6M702.6 340.2l-2.2 .7 .9 3.8 2.7 .8 2.4-2-.2-1.7M700.1 350.5l.3 1.5 3.1 1.5 3.1-3.4M682.5 303.2l1.2 3.8M679.3 298.6l4.8-5.3-3.8-3.7-3 3.4-4.7-1.1 1.7-4.5 3.1-1.7 2.1 .5 .8 3.4M684.4 293.3l3.1 3.1-.2 3.9M691.6 306.8l2.8-2.9-.6-3.6M684.4 293.3l3.5-3.8 5.7 4.6-6.1 2.3M625.1 342.1l-2.9 1.9-.8-.1-.7-4 .5-.6M625.1 342.1l-1.6-3-1.3-.4M720.4 327.1l3.7-.7M695.8 314.9l-.3-3.9-3.2-.4-.7 3.4 3.8 1.2 .4-.3 4.1-.8M695.4 318.6l-1.2 .5-3.3-1.7 .6-3.3-3.9-.4-1.1-1.7 .5-3.4M695.4 318.6l0-3.4M691.2 308.4l1.1 2.2M714.2 328l-4.3-1.1 .1-3.9M708.8 329.8l-1.9 2.5-2.4 .7 .6-5.2 1.4-.2 2.1 .5 .2 1.7 2.8 2.1M709.7 334.6l-2.8-2.3M709.9 326.9l-1.3 1.2M706.2 321.8l.3 5.8M704.3 327.5l.8 .3M703.9 321.8l-2 3M698.2 321.1l-.5-.1M694.2 319.1l-.9 2.5 1.9 2.8M630.9 321l-.9-.6M629.8 326.1l-1 1M625.1 342.1l1.2 .5 .6 3.6-.9 .5-3.8-2.7M621.2 353l2.3-1.3M619.4 347.5l3.7 1.4M619.4 347.5l.7-2.2 1.3-1.4M626 346.7l-.3 .5M704 345.5l.4 2.1M701.3 344.7l-.4 .3-1.6 4.5M700.4 340.9l-.7-.4-.2-1.3M701.9 332.1l-2.9 2M696.4 331l-.2 3-3.6 .4-.7-2.6 2.9-2.6M711.4 290.7l3-6.6 3.3 1.1 .7 5.6M711.4 290.7l1.9 2.8M720.8 282.6l-3.1 2.6M722.3 310.6l-4.6-1.5M716.2 311.9l-4.6 1.3M716.6 315.5l.9-1.6M716.6 315.5l-4.2 .3M761 241.7l-4.1 4.7M754.2 241.9l.9 4M752.4 235.4l2.8 5.3M704.4 302.3l2.5 0 .9-5.7M704.4 302.3l-.9-4.8M708.3 303.3l-1.4-1M713.1 296.9l-1.6 3.3M703.8 320.6l-.5-3.8-2.8-1M709.8 318l-1.6-.8M709.4 317.8l-4-2-2.1 1M709.5 283.5l-1.1 1.8M711.4 290.7l-2.3-1.4M706.5 296.2l-2-5.4M696.6 287.4l6.1-.3M731.8 286.5l-3.4 1.2-1.2-1-.2-1.1 .7-.8 2.1-.8 2 2.5 .9 .1M728.8 291.3l-.4-3.6M731.6 279.8l-1.8 4.2M727.3 281l.4 3.8M724.6 288.4l2.6-1.7M722.4 283.1l1.5 .8M722.7 283.3l1.6 .9M723.2 283.5l1.5 .9M723.6 283.8l3.4 1.8M644.2 411.7l1.6-.2 2.1-1.2 .2-2.1-2.8-2.4-2.5 .3 1.4 5.6-.4 .2M647.5 416.4l-1.7-4.9M641.7 405.7l1.1 .4M651.2 413.4l-.4-1.3-2.9-1.8M652.6 450.6l-2 2.4 .8 3.7M652.6 450.6l3.7-.2-1.1 5.9M656.8 447.6l-2.4-1.7-3.1 1.2 1.3 3.5M656.8 447.6l.9 1.9-1.4 .9M656.8 447.6l2-4.7M661.7 447.5l.4-2.5M661.7 447.5l-3.1 2.3-.9-.3M652 465.7l4.3-1.7 0-5.3M707.2 387.5l-2.5-.9-2.6 .9-.5 2.4 1.8 4M691 368.2l-3.2 4.5-3.9-1.8 .6-4.7 5.1-.1 1.4 2.1 3.3 .5 .8-.5 4.4 1.7 .6 1.1-2.5 3.5-3.5-1.4 .2-4.4M701.6 389.9l-6.3 .5M691.7 400.5l.2-4.9 3.7-.9M695.9 385.6l3.7-.8 2.5 2.7M695.9 385.6l-2.1 2.6M691.1 379.5l-1.5 6.2M694 379.6l1.9 6M691.9 378.9l2.1 .7 4.4-1.5-.8-3.6M691.9 378.9l-.8 .6-5.4 .5 0-3.4-3.9-1.2-.9 1.3 2.1 5.6 2.7-2.3M685.5 396.8l2.5-2.2 .4-3.4-5.1-2.6-2.1 2.3 .6 3.6 3.7 2.3 0 3.9M691.9 395.6l-3.9-1M678.8 395.9l3-1.4M677.3 389.5l-2.9 2.2 1.4 4.1M677.3 389.5l3.9 1.4M690.5 388.8l-2.1 2.4M683.6 384.2l-.3 4.4M677 384.7l.3 4.8M681.3 496.1l-3.2-2.4 .1-6.2 5.5 1M667.5 487.7l4.9 1.3-1.2 7-6.3-1.6M678.1 493.7l-4.1 2.8M343.2 313.1l8.2 .4 .3 .4-1.7 10-7.6-1.9 .8-8.9-.4-.4-.2-7.4 6.7-5.6M358.8 315.5l-7.1-1.6M350.9 324.9l-.9-1M353.5 302.3l-2.1 11.2M342.4 322l-1.2 .8 .1 9.2 8.2 .8-.1 8.2-8.8 1-.8 6.5 7.9 2.6 .7 1.1M499.5 401.7l.2-5.9M291.7 279.3l13.4 3.6 .6 12M333.3 285.6l-11.2-2.3-1.1-14.4M309.9 268.6l-4.4 14 16.6 .7-3.1 9.2M305.5 282.6l-.4 .3M275.1 341.6l12 2.7 1.7-11-12-1.5M284.2 353.6l3-9.2 11.6 2.7M616 293.2l4.1-1.3-.5-4.2 .4-.7-1.6-5M625.1 291.6l.3-.5M614.5 282.4l-.4 5.5 .7 .4 4.8-.6M624.7 286.7l-4.7 .3M611 288.9l3.1-1M616 293.2l-1.2-4.9M634.6 444.5l-1.5-3.2M631.7 447.4l-3.8-2.7 .4-3.2 1.4-.9M634.6 444.5l-2.9 2.9 .1 2M625.2 436.7l1.9 4.3-3.7 .1-1.7-1.1M627.1 441l1.2 .5M623.1 449.3l3.2 1 1.6-5.6-4.5 1-1 .8 .7 2.8-3.3 4.1M626.7 450.7l-.4-.4M619.1 445.3l3.3 1.2M623.4 441.1l0 4.6M638.4 447.7l1.8-.3 1.1-3.5-2.9-1.7-2.6 2.5 2.6 3-.6 1.1M634.6 444.5l1.2 .2M638.4 440.2l-4.1-.3M638.4 440.2l0 2M642.6 443.3l-1.3 .6M640.2 447.4l2 1.3 3.8-1.3-3.4-4.1M651.3 447.1l-2.7-1.3-1.8 1.6 .8 3.9 3 1.7M660 433.8l-.5-.9 2.4-3.5 3.2 .9M666.2 425l-5.6 2.3 1.3 2.1M659.8 424.4l.7 2.8-3.7 2 0 2.5 2.7 1.2M658.6 449.8l2.3 3.5M661.7 447.5l1.8 .9 1.4 3.5M662.8 475.4l-1.1-6.8-2.1-1.5-4.2 6.1 1.8 3 5.6-.8 1.6 1M669.2 468.3l-.8-.5-6.7 .8M654.6 482.7l2.6-6.5M652.9 472.5l2.5 .7M659.2 466.2l-2.9-2.2M659.2 466.2l.4 .9M673.8 478.4l-1.5 4.5 2.5 4.6 3.3 0 .8-4.5-5.1-4.6-.5-2.5M668.6 482.9l3.7 0M683 478.6l-4.1 4.4M672.4 489l2.4-1.5M603.3 417.4l-6.1-.6M589.8 406.1l.3 5.8M585.5 412.7l4-.1M598.4 424.1l-2.1-6.3M614.5 394.9l.9 2.6-1.8 3-.5 0M616 405.9l-.4-3.8-2-1.6M611.7 386.9l.6-.5-.6-4.1-1.3-.7M612.9 376l1.5 .4 .1 4.9-2.8 1M583.1 351.3l.8-3.5M590.3 346l-2.3 3.7M597.6 238.2l1 5.9 5.1-1.2M593.3 244.3l5.1-.1 .7 5.5-5 .9 .2 5.4 .6 .3 4.8-1.4 .2-.4-.5-4.5 6.5-1M589.7 256.5l4.6-.5M593.1 249.9l1 .7M601 260.2l-1.3-5.3M605.4 254.9l-5.5-.4M595.7 260.6l-.8-4.3M492.4 359.5l.6-.5 5 .1 0 4.8M492.8 348.5l0 4.5 5 .6 .6-5.7M486.8 353.8l6-.8 .2 6M509.8 347.5l-.4 5.1 .3 .3 5.1-.3M504.5 368.8l.1-4.4-.5-.6-5.7 .5M504.6 364.4l4.7-1M509.7 352.9l-.2 5.3 .4 .4M552.2 294l-.9-.8M551.8 288.4l-.6 .6M546.3 288.3l.5 .5M542.3 293.8l4 .1M665 305.8l4.5 4.4-4.7 1.1-2.1-1.6-.2-2.3M674.3 308.1l6.2 2.3M680.6 310.6l-3.3 4.2-4.2-1.1-.9-.9-.1-1.9M670.8 286.5l3.5 .9M671.1 293.2l1.5-1.3M675.3 282.1l2.1 3.6M677.3 296.9l0-3.9M688 288.8l-.1 .7M682.1 284.3l-2.6 1.9M710.6 369.3l2.8-.4 1.8-4.3-4.4-.2-2.4 3.7 .8 1.1 1.4 .1 2.8 5.6M716.2 373.6l-.8-3.1-2-1.6M710.5 343.2l-2 1.1 1.5 3.9M710.5 343.2l2.2 1-.9 3.3M711.4 339.7l-.9 3.5M706.4 343.5l2.1 .8M715.4 343.3l-2.7 .9M695.6 358.5l-2-.4-3.7 2.3 .6 2.2 5.5 1.8 1.6-1.7-2-4.2 2.2-2 3.9 1.3 1.1 3.7 2.4 .2 2-1.3-.4-4.1-2.9-1.7-2.2 3.2M689.6 366.1l.9-3.5M685.5 360.7l-1.3 5 .3 .5M685.5 360.7l3.3-.7 1.1 .4M705.6 367.8l1.3-.4-1.7-5.7M701.2 366.4l-.7-3.4 2.3-1.5M701.2 366.4l4.4 1.4-3.2 3.5 5.1 2.7 4.8 1.9M697.6 362.7l2.9 .3M709.7 360.7l-2.5-.3M709.7 360.7l1.1 3.7M706.9 367.4l1.5 .7M698.1 354.2l-.3 2.3M703.5 353.5l.4 1.1M700.4 352l-2.3 2.2-4.1-2.5M714.2 353.3l-2.4 2.5-2.8-1-.2-4.6M714.2 353.3l-4.3-3.8M716.8 353l-2.6 .3M717.9 348.3l-1.1 4.7 .6 .9 2.3 .7 3.9-3.7-3.5-2.9M706.8 356.3l2.2-1.5M712.4 359.3l-.6-3.5M709.7 360.7l2.7-1.4 3.5 1.2-.1 3.6-.6 .5M701.2 366.4l-1.7 3.5M696 364.4l-.9 3.8M688.2 373.5l-.4-.8M691.2 375.7l-3-2.2-2.5 3.1M691.2 375.7l2.9-2.6M691.9 378.9l-.7-3.2M684.2 312.9l-2.6-1.3M684.2 312.9l-.5 2.7-2.4 .4M686.5 312l-2.3 .9M686.1 317l-2.4-1.4M687.6 313.7l-1.5 3.3 .8 2.2 1.2 .3 1.9 2.6-.2 1.4-1.6 1.3-3.7-.4 1.6-4.5 .8-.7M694.1 299.6l-.5-5.5 2.3-1.6-.1-4M704.1 290.6l-5.4 3.2 1.9 3.3M698.7 293.8l-2.8-1.3M616.7 342.4l.6-1.9-1.6-1.8-3.3 3.1 .4 2.2 1.1 .3 2.8-1.9 3.4 2.9M620.7 339.9l-3.4 .6M615.6 347l-1.7-2.7M615.1 336.7l.6 2M610.9 339.8l1.5 2M612.3 344.2l.5-.2M718.4 318.4l2-2.5 2.8 .9-.1 1.9-3.9 2.9-.9 .1M718.4 318.4l-.3 2.9M720.1 314.2l.3 1.7M716.6 315.5l1.8 2.9M724.8 324l-5.6-2.4M725.7 320l-2.6-1.3M726.7 313.1l-3.5 3.7M670.5 332.4l-1.7 .6M672.2 338.9l-3.5-5.2M672.3 339l2.3-1 .3-2.1-4.4-3.5 1.3-1 2.3-.7 1.6-1.2 3.4 2.1 1.3-2.1 2.9-.9 .9-.9-.7-2.6-.9-.2-3.6 .6 1.4 4M674.1 330.7l2.2 4.1 1.9-.3 1-2.8 3.4 1.1 .4 3.7 1.3 .3 1.8-.6 .9-3.3-1.2-1-.1-3.2 2.9-.4 1.4 .6 2.9-2.1 .8 0M674.9 335.9l1.4-1.1M674.3 317.5l-1.2-3.8M674.3 317.5l3.3 1.2M677.3 314.8l1.5 1.7M677.8 321l3.2-.4 .9-1.1-1-3.1M630.6 325.2l5 .1 .1 4.5M628.3 333.4l1.8 .2 1.6 4.4-2.5 1.5-1.6-1.5-.3-3.4 1-1.2-1.3-5.2M632.7 332.8l-2.6 .8M623.1 334.4l4.2 .2M634.5 336.1l-1.6 1.7-1.2 .2M623.5 339.1l4.1-1.1M629.2 340.2l-2.9 2.4M629.2 340.2l0-.7M629.2 340.2l1.9 2.5 3.3-2.1-1.5-2.8M626.9 346.2l2 .2 2.4-2.2-.2-1.5M671.8 331.4l-.7-6M675.5 324.1l.7 .8-.5 4.6M674.3 317.5l-1.3 3.8 1.6 2.5M647.8 307.4l1.2 .8M727.8 352.1l-4.2-1.2M717.4 353.9l-1.4 6.5 3.7-.3 2.8-3-2.8-2.5M700.9 345l-4.1 .1-.8-3.1 3.7-1.5M696.6 337l-2.3 2.8 .5 1.7 1.2 .5M696.8 345.1l-.2 .5 .8 3.3M692 343.6l2.8-2.1M692 343.6l2.4 2.6 2.2-.6M716.6 308l-2.2-.1-2-2.9 2.9-2M714.4 307.9l-2.9 2.7M711.3 304.8l1.1 .2M705.4 315.8l-.4-2-4-1.3M650.8 412.1l4.4-3M657.6 409.7l4.4-4.3M709.2 369.2l-1.7 4.8-1.5 2.5-3.7-.2-3 2.1 1.6 3 4.4 .2 1.7-1-1-4.1M700.1 371l1.4 .5 .9-.2M704.7 386.6l.6-5M699.6 384.8l1.3-3.4M698.4 378.1l.9 .3M701.5 371.5l.8 4.8M710.9 382l-3.9-1.4M356.4 343.1l-6.8-1.8-1.9 9.8M499.9 402.1l5.2-.6M504.6 395.1l.4 .3M512.1 401.8l-.8-.6M506 407.8l.1-5.6M331.8 298.5l2.8 4.1 8 2.7M313.6 319.5l.7-.5 1.3-8.1-9.4-2.2M305 318.6l8.6 .9-.5 8.6-9.5 1M287.5 319.8l1.3 1.6 .4 11.6-.4 .3M288.8 321.4l12.3 .4M289.2 333l11 .6M642.5 402.7l-1.2 1.7M642.5 402.7l-1.6-5-2 1.5-1 3.4M645.1 401.9l-2.6 .8M640.9 397.7l.7-.9M633 399.9l1.5-2.2 4.4 1.5M641.4 451.9l.8-1 3.2 2.1-1.1 4.3M641.4 451.9l1.4 5.5M638.4 452.6l3-.7M642.2 448.7l0 2.2M647.6 451.3l-2.2 1.7M646.8 447.4l-.8 0M654.3 425l.4 2.2 2.1 2M654.4 445.9l0-3.3 3-1.3 .7 .2M637.6 430.3l3.2 1.5 1.8-2.6-2-3.4M644.8 424l1.1 4.5-.5 .6-2.8 .1M671.4 459.2l-5.1 2.6-1.5-.6-2.5-5.2M670.6 456.3l-8.3-.4M668.4 467.8l-2.1-6M659.2 466.2l5.6-5M668.8 448.8l-2.9-1.2-.5-3 3.2-1M663.5 448.4l2.4-.8M663.3 444.1l2.1 .5M617.3 397.9l.6 3.1 3.4 .2 1-.6-1.1-3.9-.9-.5-3 1.7-1.9-.4M615.6 402.1l2.3-1.1M614.5 394.9l3.5-2.1 2.3 3.4M620 404.7l1.3-3.5M625.1 401.5l-2.8-.9M622.3 374.1l-.9-2.2-3-.4-.6 .5-1.1 3.8 2.4 2 3.2-3.7 2.1 1.4 1.4-.4 .8-5-2.2-.6-3 2.4M618.2 365.8l.2 5.7M622.7 365.5l1.7 4M613.6 370.6l4.2 1.4M614.4 376.4l2.3-.6M614.5 381.3l3.1 1.1 2.3-2.8-.8-1.8M624.4 375.5l-1.6 4.5-2.9-.4M498.1 353.8l.7 4.4 4.6 .6 .8-.6 0-5.9 5.2 .3M498.1 353.8l5.9-1.7-.7-4.3M498 359.1l.8-.9M497.8 353.6l.3 .2M504.1 363.8l-.7-5M509.5 358.2l-5.3 0M655.2 306.9l3.5 5.3 1.9-.2 2.1-2.3M683.9 370.9l-1.7 .8-1.9-.5-2.9-4.4 4.1-1.8 2.7 .7M685.5 360.7l-2.4-1.8-2.7 2.9 1.1 3.2M691.9 331.8l-1.9-2.4 0-.5M694.3 339.8l-2.6-1.7 0-2.8-5.1 1.2-.5-.3M692.6 334.4l-.8 .6-3.8-2.3 2-3.3M688 332.7l-1 .2M682.6 332.7l3.2-.8M678.2 334.5l1.3 2.1-3.5 2.1-1.4-.7M682.5 341.7l2.7-1.4-.9-3.5M682.5 341.7l-1.9-1.4 .5-2.9 1.9-.9M681.1 337.4l-1.6-.8M681 320.6l1.6 4.3M676.2 324.9l2.8 .6M682.6 332.7l.7-4.1M685.7 328.7l-1.5-1M683.1 343.9l-1.9 1.4-1.6-.3-1.6-3 2.6-1.7M683.1 343.9l-.6-2.2M672.3 339l.3 4.2 2.4 .2 2.7-1.5-1.7-3.2M677.2 361.1l3.2 .7M683.1 358.9l-1.2-2.9M677.2 361.1l-.5-2.4 5-2.8M679.6 345l-2.3 2.7-.6-.2-1.7-4.1M683.5 325.1l1-.7M681.9 319.5l4.2 .4M688.6 328.3l-.4-3.5M692.9 326.8l-3.1-3.3M690.9 317.4l-2.8 2.1M693.3 321.6l-3.3 .5M637.2 336.2l1.9-2.6-1-2.8M667.1 331.6l-2.2 .4-5.3-1.7 1.2-3.4 3.5-.9 2.5 4M644 313.1l1.2 .8M673 321.3l-3.5-1.8 1.5-5.6 1.2-1.1M664.8 311.3l.3 4 5.9-1.4M662.3 315.5l-1.7-3.5M662.3 315.5l2.7 0 .9 4.2 1 .9-.3 2.4-1.7 1.7-4.8-4 .3-.6 5.5-.4M635.6 325.3l.5-.7-1.3-4.6 5.1-1.4-1-4.3M639.9 318.6l1.7 1.2M628.9 346.4l1.2 2.2-1.7 2.7-1.4-.3M631.3 344.2l3.1 1.2 .7 3.8-1.7 .8-3.3-1.4M627.1 370l2.6-5.1-1.4-2.1M626.6 370.1l.5-.1 3.7 2 1.5-3.8 5.7 1.8M727.8 352.1l-3 5 1.7 3.7 6.3 3.6M724.8 357.1l-2.3 0M717.2 364.9l4.8-1.9 .5 .3 .2 3.6-2.1 1.4-1.2-.4-2.2-3-1.4-.8M719.7 360.1l2.3 2.9M715.4 370.5l4-2.6M721.4 374.6l-.8-6.3M727.8 368.1l-5.1-1.2M726.5 360.8l-4 2.5M681.2 345.3l1.1 3.6 .7 .2 3-2.1-.7-2.4-2.2-.7M694.4 346.2l-1.4 2.5 1.2 1.7M704.2 307l-3.3 4.4M704.2 307l3.4 1.4M701.2 311.5l6.3-1.2-2.5 3.5M696.3 307.5l.7-.7 2.6 .9 .4 3.2M695.5 311l1-.4M694.4 303.9l2.4 .7 .2 2.2M696.8 304.6l1.6-1.2 .2-2.9M704.4 302.3l-.9 .8-4.4-3M664.6 394.8l-4.6-1.5-1.4 3.4 2.9 3.6M663.1 399.5l1.5-4.7 2.6-1.5 .6 .1 1.9 4M648.1 408.2l2.3-2.4M660.7 402l-4.7 .4-.9 5.1M676.7 376.7l4.2 0M676.7 376.7l2.1-4.6 1.5-.9M682.2 371.7l-.4 3.7M675.8 377.1l3.1 6M675.8 377.1l.9-.4M682.8 382.9l.2-.6M329.6 348.4l-2.4 12.9M338.2 363.3l-.2-13.3-8.4-1.6 1.3-8.4 1.5-9 8.2 1.5-1.1 8.1-8.6-.6-9.5-2.4 1.1-7.6 .6-.6-.1-8.3-8.7-2.1M338 350l1.8-1.5M340.6 342l-1.1-1.4M341.3 332l-.7 .5M333.9 322.3l7.3 .5M333.9 322.3l-2.3 7.6 .8 1.1M316.9 302.7l8.9-.5-.5 9.5-9.1-1.3 .7-7.7-4.2-5.4M328.8 299.4l-3 2.8M315.6 310.9l.6-.5M324.4 319.9l1.3-7.8 7.1-.2 1.4 1.4-.5 8.6-9.3-2-1.4 1.2M325.3 311.7l.4 .4M331.6 329.9l-8.5-.5M334.6 302.6l-1.8 9.3M342.8 312.7l-8.6 .6M322.5 330l-9.3-1.9-.4 9.7 7.4 .8 .1 8.4-1.5 1.4-6.9-.7-1.6-2 1.8-7.5 .7-.4M654.8 433l-2.1 .3-.5 3.9 4 .9 .9-1.4-2.3-3.7 2-1.3M658.4 436.2l-1.3 .5M657.4 441.3l-1.2-3.2M652.2 437.2l-.5 .5 .1 3.9 2.6 1M648.6 445.8l.2-2.3 3-1.9M642.8 443l5-.5 1 1M645.4 429.1l.3 3.7-4.4 .5-.5-1.5M652.7 433.3l-.4-3.8-3.1-1.3-.5 .3 .5 4.2 3.5 .6M654.7 427.2l-2.4 2.3M651.7 437.7l-5-.6 .2-3.3 2.3-1.1M646.9 433.8l-1.2-1M645.9 428.5l2.8 0M650.2 424.7l-1 3.5M621.4 387.2l-3.4-2-2.7 1.8 .3 2.9M617.6 382.4l.4 2.8M612.3 386.4l3 .6M631.8 392.1l.4 3.3 2.2 1.8 3.3-4.7M631.8 392.1l2.1-.6M634.5 397.7l-.1-.5M630 400.1l-.4-3.2 2.6-1.5M626.3 396.5l2.1-.7 .4-4.9-1.6-1.7-2.8 3.7-.4 1.7 2.3 1.9-.6 4.7M629.6 396.9l-1.2-1.1M621.2 396.7l2.8-2.1M631.8 392.1l-3-1.2M619.2 391.5l5.2 1.4M690.4 339l.4 4.8 1.2-.2M690.4 339l-1.8 .2-1.7 2.1 .2 1.2 3.6 1.4-.9 3.6 3.2 1.2M691.7 338.1l-1.3 .9M686.6 336.5l2 2.7M685.2 340.3l1.7 1M688.7 348.2l1.1-.7M685.3 344.6l1.8-2.1M686 347l2.7 1.2-.4 3M676.5 351.8l2-2 .9 .2 1.3 4M676.5 351.8l1.3 2.2M675 348l1.7-.5M675 348l-2.1 3.7 .5 .6 3.1-.5M677.3 347.7l1.2 2.1M673.4 352.3l.3 3M676.7 358.7l-2.9-1.6M684.8 353l-1.8-3.9M682.3 348.9l-2.9 1.1M672.6 343.2l-1.1 1-.1 1.4 3.6 2.4M645.4 329.1l-1 .4-4.4-.2M645.4 329.1l-1.3-3.2-3.6-1.7M646.2 329.3l.9 2.3-1.3 3.4-3.1-2.2 1.7-3.3M646.2 329.3l-.8-.2M639.1 333.6l1.1 .3 2.5-1.1M636.1 324.6l3.9-.3M642.1 343.6l2.4-2.2-.1-3.5-1-.4-5.2 1.4M640.2 333.9l3.2 3.6M634.4 340.6l3.3 1.3M645.9 336.5l-.1-1.5M645.9 336.5l-1.5 1.4M634.4 345.4l3.4-3.3M664.9 332l-3 3.9-1.3-1-1.1-4.5-2.3 .4-1.9-4.3 4.1-1.4 1.4 1.8M669.5 319.5l-2.6 1.1M659.9 317.8l.5 2.3M662.3 315.5l-2.4 2.3-1.2-.8-1.3-3.1-3.9 .1-1 1.1-.1 1.7 2.5 1.3 3.8-1.1M669.6 324.9l-3-1.9M658.9 322l1.2-1.3M659.4 325.1l-.5-3.1-2.6-.1-1.5 .9-.8 3-3 1.2-.8-.3-4 2.6M664.3 326l.6-1.3M644.1 325.9l2.6-3.4 3 2.9 .5 1.3M643.6 319.8l2.7 1 .4 1.7M646.4 314.8l2.8 4.1-2.9 1.9M630.8 372l1.7 2.6M631.6 365.6l-1.9-.7M631.6 365.6l.7 2.6M638.4 368.7l-2.8-4.5-4 1.4M625.8 375.1l5 2.7M640.6 356.5l-3.9-.6M640.6 356.5l1.6-2.5-.1-.5-3.4-2.4M636.1 354.3l-4.4-.8 1.7-3.5M635.1 349.2l2.6 1.1M673.9 384.1l-1.3-4.6 1.3-2.7 1.9 .3M675 371.8l-2.6 2.7 1.5 2.3M678.8 372.1l-3.8-.3 .6-4.2-3.4 1-2 2.4 1.9 3.3-4.9 2-1.3 5.2 6.7-2M674.4 391.7l-2.8-.9-.8-4.6M671.6 390.8l-3.8 2.6M692.4 355l-5-1.2-.4-.3M692.4 355l1.5-3.2M693.6 358.1l-1.2-3.1M688.8 360l-1.4-6.2M700 307.2l-.3-2.9 3.5-.3 .3 2.3-3.5 .9-.4 .5M698.4 303.4l1.3 .9M704.2 307l-.7-.7M703.5 303.1l-.3 .9M650.2 403.1l2.4-3.6-.2-1.5-4.1-1.4-.9-5.8-1.9-.7-5.1 3M646.1 401.5l2-4.8-5.7 .3M656 402.4l-3.4-2.9M645.3 405.8l1-3.2M654.4 390.3l-4.4-.8-2.6 1.3M653.1 397.3l1.3-7 2.8-1.8 .9 .3 1.9 4.5M653.1 397.3l-.7 .7M658.6 396.7l-5.5 .6M321.4 337.6l-1.2 1M329.6 348.4l-9.3-1.4M303 335.5l9.1 2.7M301.6 345.4l8.7 .3M319.6 361l-.8-12.6M307.6 358.7l4.3-11M647.8 442.5l-1.8-4.2M642.8 443l0-2.7M638.4 440.2l1.1-1.5M646.7 437.1l-.5 .5M641.3 433.3l-.5 1.9M627.9 381l-.3 7M622.8 380l.6 .5M633.2 379.1l.3 6.6M631.8 378l1.4 1.1 4.4 .7 2.8-1.2-1.7-7 7 1.4 .4-.3-1.7-4.4M627.2 389.2l-.1-.5M649.7 325.4l2.1-4.3 3 1.7M655.3 326.5l-1.3-.7M649.2 318.9l1.5-.2 1.1 2.4M658.7 312.2l-1.3 1.7M653.7 307.3l-.2 6.7M656.3 321.9l-1.4-3.8M650.7 318.7l1.7-1.9M649.3 313.1l3.2 2M640.6 356.5l.7 3.7M642.2 354l3.6 2.7-1.2 3.3M666.7 340.5l1.3 2.3-1.6 2.3-2.6 .6-1.8-2.3M666.7 340.5l-1.2-.8M672.2 338.9l-5.5 1.6M671.5 344.2l-3.5-1.4M661.9 335.9l.9 3.9M653 331.6l-2 1.5-.6 4 .4 .4 2.9 1.4 2.4-2.5 6.3 3.7M653 331.6l2.6 .5 .6 4 4.4-1.2M647.1 331.6l3.9 1.5M651 327l2 4.6M657.2 330.8l-1.6 1.3M645.9 336.5l4.5 .6M647.5 342.4l.6 .6 2.8 0 2.9-3.5-.1-.6M647.5 342.4l3.3-4.9M657.7 344l-3.9-4.5M647.5 342.4l-3-1M637.6 379.8l1.1 6M645.5 390.1l-1.6-5.2M635.5 357.6l3.4 3.3M640.2 361l1.4 5.8M627.6 359.6l.8 .8M627.6 359.6l-.1-4.1 2.1-1.9 1.9 .1 1.3 3.8M624.2 359.2l3.4 .4M625.4 354.3l2.1 1.2M628.4 351.3l1.2 2.3M644 347.7l-.6 4.6 4.3 .2 1.8-1.8 .2-1.3M642.1 353.5l1.3-1.2M648.1 343l0 5.1M647.2 356l-1.4 .7M647.2 356l.5-3.5M677.4 366.8l-.8-.3-1.1-2 1.7-3.4M676.6 366.5l-1 1.1M675.5 364.5l-3.6-1.1 1.4-6M672.2 368.6l-2.2-4.7 1.9-.5M653.1 358.8l-1.4-3.7-3.9 1.2 2.1 2.7M651.9 354.1l-.2 1M651.9 354.1l-2.4-3.4M647.2 356l.6 .3M672.9 351.7l-3-1-1.5 1.4 .4 2.6M671.4 345.6l-1.7 2.8 .2 2.3M666.4 345.1l1.9 2.7-3.8 .4-.7-.6 0-1.9M669.7 348.4l-1.4-.6M651.9 354.1l2.2-.5-1-5.5M663.8 347.6l-1.9 1.1-5-.8-.5-.7M650.9 343l2.7 4.7M654.1 353.6l3 .5-.6 4M656.9 347.9l1.2 4.9-1 1.3M646.8 365.9l3 2 1.9-1.2-.6-5.5M646.1 372.7l3-2.2 .7-2.6M658.5 365.2l-3.7 2.5-3.1-1M655.8 359.8l2.7 5.4 1 .3 1.5 3.8 5.7 .3-1.8 4.4 2.3 2.3M656.9 387.6l.3 .9M650 389.5l-.7-5.5M656.9 387.6l-5-4.1M667.2 393.3l-2.1-3.5 3-4.8M658.1 388.8l2.4-.7 4.6 1.7M670.2 371l-3.2-1.5 .2-5 1.1-.7 1.7 .1M659.5 365.5l4.1-2 3.6 1M671.5 357.4l-3.3 2 .1 4.4M663.6 363.5l-.9-5.3M668.2 359.4l-2-1.7M665.4 351.5l1 .7-2.6 4.6M665.4 351.5l-3 .3-1.7 1.5 2.5 3.6M668.4 352.1l-2 .1M664.5 348.2l.9 3.3M661.9 348.7l.5 3.1M658.1 352.8l2.6 .5M649.1 370.5l4.1 2.1 1.7-2.8-.1-2.1M661 369.3l-1.2 3.5-4.9-3M644.2 383.1l-2.9-4.3 2.5-2 4.5 2.5-.9 3.1M640.4 378.6l.9 .2M645.7 373l-1.9 3.8M646.1 372.7l4.7 4.4-2.5 2.2M662.7 380.4l-.6-5.9 2.8-.5M660.5 388.1l4.4-6M659.8 372.8l.1 .5 2.2 1.2M657.5 375.4l1.5 5M657.5 375.4l-3.8 0-1.6 1.6 1.4 3.1M659.9 373.3l-2.4 2.1M653.2 372.6l.5 2.8M650.8 377.1l1.3-.1M656.9 387.6l1-6.2" fill="none" stroke="#14141c" stroke-width="0.8"/>
<path d="M538.9 190L542 187.6L544.3 185.9L546.6 184.2L545.2 186.5L543.2 188.1L541.1 189.6L538.9 190ZM609.8 213.4L613.4 214.9L617.1 216.2L620 216.8L623 217.4L625 215.5L626.9 213.5L622.8 210.4L619.6 211.2L616.4 211.9L613.1 212.7L609.8 213.4Z" fill="#e6ebff" stroke="none"/>
<path d="M175.6 135.4L179.7 136.5L183.8 137.7L187.9 138.9L192 140L196.1 141.1L200.2 142.2L204.3 143.3L208.4 144.3L212.5 145.4L216.7 146.4L220.8 147.4L224.9 148.4L229.1 149.4L233.2 150.3L237.4 151.3L241.5 152.2L245.7 153.1L249.8 154L254 154.8L258.2 155.7L262.3 156.5L266.5 157.3L270.7 158.1L274.9 158.9L279 159.7L283.2 160.4L287.4 161.1L291.6 161.8L295.8 162.5L300 163.2L304.2 163.8L308.4 164.5L312.6 165.1L316.8 165.7L321 166.2L325.3 166.8L329.5 167.3L333.7 167.9L337.9 168.4L342.1 168.9L346.4 169.3L350.6 169.8L354.8 170.2L359.1 170.6L363.3 171L367.5 171.4L371.8 171.8L376 172.1L380.2 172.4L384.5 172.7L388.7 173L393 173.3L397.2 173.6L401.5 173.8L405.7 174L410 174.2L414.2 174.4L418.5 174.5L422.7 174.7L427 174.8L431.2 174.9L435.5 175L439.7 175.1L444 175.1L448.2 175.1L452.5 175.2L456.7 175.2L461 175.1L465.2 175.1L469.5 175L473.7 175M473.7 175L473.6 168.7M155.2 176L158.2 176.8L161.1 177.7L163.9 180.2L166.4 181.8L166.9 186.1L166.5 189.4L168.8 190.9L171 192.3L175.9 191.5L178.2 191.8L180.4 192.1L183.2 194.8L186.5 194.6L189.8 194.4L192.2 195.1L194.6 195.8L198.3 195.1L202 194.3L205.3 195.1L208.6 195.8L209.1 194.8L212.8 195.7L216.6 196.5L220.3 197.4L224.1 198.3L227.9 199.1L231.6 199.9M240.8 152L239.5 157.9L238.2 163.7L236.9 169.6L235.7 175.4L234.4 181.2L233.1 187L231.8 192.9L232.2 197.3L231.6 199.9M231.6 199.9L232.7 202.7L233.8 209.5L231.3 213.1L228.8 216.7L225.9 219.4L223.1 223.7L224.1 227.2L225.5 229.2L222.9 233.9L221.6 239.7L220.4 245.4L219.1 251.2L217.9 256.9L216.6 262.7M133.7 241L138.2 242.4L142.8 243.7L147.4 245.1L151.9 246.4L156.5 247.7L161.1 248.9L165.7 250.2L170.3 251.4L174.9 252.6L179.5 253.8L184.1 255L188.7 256.2L193.4 257.3L198 258.4L202.6 259.5L207.3 260.6L211.9 261.6L216.6 262.7L221.2 263.7L225.9 264.7L230.5 265.6L235.2 266.6L239.9 267.5L244.6 268.4L249.2 269.3L253.9 270.2L258.6 271L263.3 271.9L268 272.7L272.7 273.5L277.4 274.2L282.1 275L286.8 275.7M182.1 254.5L180.6 260.3L179.1 266.2L177.6 272L176.2 277.8L174.7 283.7L173.2 289.5L171.7 295.3L170.2 301.2L173.8 306.8L177.3 312.4L180.9 318L184.6 323.5L188.3 329.1L192 334.7L195.8 340.2L199.6 345.8L203.5 351.3L207.4 356.8L211.3 362.3L215.3 367.8L219.3 373.3L223.4 378.7M251.6 269.8L250.4 275.9L249.3 282L248.2 288.1L247 294.2L245.9 300.3L244.8 306.4L243.6 312.5L242.5 318.6L241.4 324.7L240.2 330.8L239.1 336.9L238 342.9L236.8 349L235.7 355.1L234.6 361.2L229.8 361.2L225.2 361.4L225 362.7L224.3 369.1L224.5 372.8L224.6 376.5L223.4 378.7M223.4 378.7L223.6 382L224.3 387.9L226.7 391.6L223.7 393.5L220.8 399.5L217.6 403.8L216.3 409.3L219 410.6L216.6 414.6L215.3 414.5M182.8 410.9L187.4 411.5L192 412L196.7 412.5L201.3 413.1L206 413.6L210.6 414L215.3 414.5M215.3 414.5L213.4 417.9L218 420.7L222.7 423.5L227.3 426.3L232 429L236.8 431.7L241.5 434.4L246.2 437.1L251 439.8L255.8 442.5L260.6 445.1L265.5 445.9L270.4 446.6L275.2 447.3L280.1 448L285 448.6L289.9 449.3L294.8 449.9L299.7 450.5L300.1 446.9L300.6 443.3L305.1 443.8L309.7 444.4L314.3 444.9L318.9 445.4L323.5 445.8M323.5 445.8L327.5 451.3L330.7 453.2L335.1 458.3L338.9 462.2L342.8 466L344.6 469.8L346.3 473.6L348 478.9L349.7 484.1L352.4 486.5L355 488.9L358.1 490.4L361.2 491.8L366.7 495.1L371.2 490.9L372.6 487.2L374.1 483.4L378.8 481.1L383 482.2L387.2 483.3L392.1 483.6L395.5 487.2L398.8 490.7L402.2 495.7L404.1 501.5L405.4 505.2L406.7 508.9L409.8 512.7L412.9 516.4L417.8 521.5L418.1 525.1L418.3 528.8L420.4 533L422.5 537.1L424.7 539.6L429.7 542.2L434.9 544.7L439.6 546.8L444.4 548.9L446.6 548.4L451.8 547.1M236.9 348.6L241.9 349.5L246.9 350.4L251.9 351.3L256.9 352.2L261.9 353L266.9 353.8L271.9 354.6L276.9 355.4L282 356.1L287 356.8L292 357.5L297.1 358.2L302.1 358.9L307.1 359.5L312.2 360.1L317.2 360.7L322.2 361.3L327.3 361.9L332.3 362.4L337.4 362.9L342.4 363.4L347.5 363.9L352.6 364.3L357.6 364.7L362.7 365.1L367.7 365.5L372.8 365.9L377.9 366.2L382.9 366.5L388 366.8L393.1 367.1L398.1 367.3L403.2 367.6L408.3 367.8L413.4 367.9L418.4 368.1L423.5 368.2L428.6 368.4L433.7 368.5L438.7 368.5L443.8 368.6L448.9 368.6L454 368.6L459 368.6L464.1 368.6L469.2 368.5L474.3 368.4L479.3 368.3L484.4 368.2M288.2 449L289 442.8L289.8 436.7L290.6 430.5L291.4 424.3L292.2 418.1L293 411.9L293.9 405.8L294.7 399.6L295.5 393.5L296.3 387.3L297.1 381.1L297.9 375L298.7 368.8L299.5 362.7L300.3 356.5L301.1 350.4L301.9 344.2L302.7 338.1L303.5 331.9L304.3 325.8L305.1 319.6L305.9 313.5L306.7 307.3L307.5 301.2L308.3 295M286.8 275.7L286 281L285.2 286.3L284.4 291.6L289 292.3L293.7 293L298.4 293.7L303.1 294.3L307.8 294.9L312.5 295.5L317.2 296.1L321.9 296.7L326.6 297.2L331.4 297.8L336.1 298.3L340.8 298.8L345.5 299.2L350.2 299.7L354.9 300.1L359.7 300.5L364.4 300.9L369.1 301.3L373.8 301.6L378.6 302L383.3 302.3L388 302.5L392.8 302.8M286.8 275.7L287.7 269.8L288.6 263.8L289.5 257.8L290.4 251.9L291.3 245.9L292.3 239.9L293.2 234L294.1 228M294.1 228L298.5 228.6L302.9 229.3L307.3 229.9L311.7 230.5L316.1 231.1L320.5 231.7L324.9 232.2L329.3 232.7L333.7 233.3L338.1 233.8L342.5 234.2L346.9 234.7L351.4 235.1L355.8 235.5L360.2 236L364.6 236.3L369.1 236.7L373.5 237M292.8 236.4L290.6 231.8L287.9 234.4L285 233.9L282.2 233.4L279.8 233.9L277.4 234.3L272.6 235.1L270.6 233.1L268.6 229.5L266.6 225.9L266.8 221.8L264.8 216.5L263.5 211.3L258.4 214.1L256.4 212.1L259.7 207.3L259.5 202.3L260.8 198.9L262.1 195.4L259.2 194.9L256.5 188.5L253.5 183.8L251.6 181.8L249.8 179.8L248.8 175L247.8 170.2L249 164.9L250.1 159.6L251.2 154.3M378.4 172.3L377.9 178.8L377.4 185.3L376.9 191.8L376.4 198.3L375.9 204.8L375.4 211.2L375 217.7L374.5 224.2L374 230.6L373.5 237L373 243.5L372.5 249.9L372 256.3L371.5 262.8L371 269.2L370.5 275.6L370.1 282L369.6 288.4L369.1 294.8L368.6 301.2M374.6 221.9L379.1 222.2L383.5 222.5L387.9 222.8L392.3 223.1L396.8 223.3L401.2 223.6L405.6 223.8L410.1 224L414.5 224.2L418.9 224.3L423.4 224.5L427.8 224.6L432.2 224.7L436.7 224.8L441.1 224.8L445.5 224.9L450 224.9L454.4 224.9L458.9 224.9M371 269.2L375.7 269.5L380.3 269.9L385 270.2L389.7 270.4L394.3 270.7L399 271L403.6 271.2L408.3 271.4L412.9 271.6L417.6 271.7L422.3 271.9L426.9 272L431.6 272.1L436.3 272.2L439.2 274.1L442.1 276L444.5 275.3L446.8 274.7L449.2 274.4L451.6 275.2L453.9 276L457.5 278.8L460.4 280.5M392.8 302.8L392.4 309.2L392.1 315.6L391.7 322L391.4 328.4L391 334.9L390.7 341.3L390.3 347.7L390 354.1L389.6 360.5L389.3 366.9M391.9 318.8L396.8 319.1L401.6 319.3L406.5 319.5L411.4 319.7L416.2 319.9L421.1 320.1L426 320.2L430.8 320.3L435.7 320.4L440.6 320.4L445.5 320.5L450.3 320.5L455.2 320.5L460.1 320.5L465 320.5L469.8 320.4L474.7 320.3M377.1 366.2L376.9 370.2L376.6 374.2L381.4 374.5L386.3 374.7L391.1 375L395.9 375.2L400.8 375.5L405.6 375.7L410.4 375.9L415.3 376L415.1 382.2L414.9 388.5L414.7 394.7L414.5 400.9L414.3 407.2L418.1 410.2L421.4 410.9L424.7 411.6L428.7 412.9L432.7 414.2L436 414.4L439.3 414.6L441.3 418.7L446.3 419.7L451.3 420.8L454.6 417.6L459.3 419.5L463.3 419.3L467.3 419.1L470.6 418.8L474 418.6L477.3 418.3L480.6 418.1L484.1 420.1L487.6 422.1M376.1 374.1L375.7 380.1L375.3 386.1L374.9 392.1L374.5 398.1L374 404.2L373.6 410.2L373.2 416.2L372.8 422.2L372.4 428.2L372 434.2L371.5 440.3L371.1 446.3L365.7 445.9L360.3 445.5L354.9 445.1L349.5 444.7L344.2 444.2L338.8 443.8L333.4 443.3L328 442.7L322.6 442.2L323.5 445.8M487.6 422.1L490.6 422.8L493.6 423.4L493.8 429.7L494 435.9L494.2 442.2L494.4 448.5L497.9 454.7L499.8 458L501.6 461.3L501.1 465.9L500.2 470L499.3 474L500.2 479.7L498.3 485.4M487.6 422.1L487.6 416.5L487.6 410.9L487.6 405.2L487.6 399.6L487.6 394L486.6 388.1L485.6 382.2L484.6 376.2L484.5 370.3L484.3 364.3L484.2 358.4L484 352.4L483.9 346.5L483.7 340.5L483.5 334.6L480 330.6L477.4 327.5L479.8 323.9L477.3 322.1L474.7 320.3L470.4 315.6L468.9 311.1L468.4 307.7L467.9 304.4L467 300.1L464.7 294.8L464.7 288.4L461.7 284.4L460.4 280.5L459.2 274.7L460.4 269.1L458.8 264.3L460.3 264.3L460.3 258.5L460.3 252.7L460.2 246.9L460.2 241L460.2 235.2L455.6 230.4L458.9 224.9L458.4 219.1L457.4 214.4L456.3 209.7L455.4 204L454.5 198.3L453.6 192.6L452.9 188L452.3 183.3L451.8 179.2L451.4 175.2M460.3 264.3L464.7 264.2L469.1 264.2L473.4 264.1L477.8 264L482.2 263.9L486.5 263.8L490.9 263.6L495.2 263.5L499.6 263.3L504 263.1L508.3 262.9L512.7 262.7L517 262.4L521.4 262.2M468.9 311.1L473.4 311L477.9 310.9L482.3 310.7L486.8 310.5L491.3 310.4L495.8 310.2L500.2 309.9L504.7 309.7L509.2 309.4L513.6 309.2L518.1 308.9L522.1 312.3M484.6 376.2L489.4 376.1L494.2 376L499 375.8L503.8 375.6L508.6 375.4L513.4 375.1L518.2 374.9L523 374.6L527.8 374.3L532.6 374L537.4 373.7L542.2 373.4L541.1 377.5L539.9 381.6L544.3 381.2L548.6 380.9M493.9 431.9L498.8 431.8L503.6 431.6L508.4 431.5L513.3 431.3L518.1 431.1L523 430.9L527.8 430.6L532.6 430.4M509.3 211.1L506.3 211.9L506.5 216.6L506.8 221.3L504.3 223.3L501.8 225.2L500.5 229.8L503.3 232.5L502.4 239L502 243L505.6 245.9L508.6 247.1L511.5 248.2L515.2 252.8L517.7 254.7L520.1 256.6L521.4 262.2L522.3 268.6L522.8 271.7L526 274.7L529.2 277.6L532.4 282.4L535.8 287L534.3 291.1L531.1 293.4L528.3 294.6L525.5 295.7L525.1 299L527.2 302.9L525.6 305.4L522.2 309.6L522.1 312.3L521.5 318.5L522.5 319.6L523.6 323.2L527.7 326.5L531.7 329.9L532.8 334.6L535.5 334.4L539.3 339.3L538.5 342.8L537.7 346.3L540.7 348.5L543.7 350.7L546.5 355.3L549.3 359.9L554.7 364.6L554.3 370.8L550.6 372.7L549.7 377.6L548.6 380.9L546.5 387.5L545.7 391.4L544.9 395.2L542 397.5L538.5 404.2L536.5 408.4L534.4 412.5L533.7 416.6L533 420.7L532.8 425.5L532.6 430.4L533.4 434.4L534.1 438.4L537 441.1L535.5 444.6L534 448.1L530.7 453.9L529.5 458.4L528.3 463L533.6 462.6L538.8 462.3L544.1 461.9L549.3 461.6L554.6 461.2L553.6 466.9L556.6 472.4L558.4 474.2M542 397.5L547 397.1L552 396.7L556.9 396.3L561.9 395.9L566.9 395.4L571.8 395L576.8 394.5L581.7 394L586.7 393.4L591.7 392.9L596.6 392.3L601.6 391.7L606.5 391.1L611.4 390.4L616.4 389.8L621.3 389.1L626.3 388.4L631.2 387.7L636.1 387M569.5 395.2L569.7 401.4L569.8 407.7L570 413.9L570.1 420.2L570.2 426.4L570.4 432.7L570.5 438.9L570.6 445.2L571.4 451.4L572.3 457.6L573.1 463.8L573.9 470M603.5 391.8L605.1 397.3L606.7 402.8L608.4 408.3L610.1 413.7L611.7 419.2L613.4 424.7L615.2 429.1L617 433.5L617.5 439.6L617.9 445.6L618.8 450L619.7 454.3L622.3 458.9L627.6 458.5L632.8 458L638.1 457.6L643.4 457.1L648.7 456.6L653.9 456.1L659.2 455.6L661.8 458.6L661.6 455.2L661.4 451.8L665.3 451.6L669.1 451.5M586.3 470L587.3 463.8L584 458.5L589.1 458L594.2 457.4L599.3 456.8L604.4 456.2L609.5 455.6L614.6 455L619.7 454.3M673.4 429.3L668.9 425.6L665.6 420.5L662.3 415.3L658.7 412.1L655.1 408.9L650.8 405.6L646.6 402.4L643.6 398.8L640.7 395.2L636.9 392L633.5 391.9L636.1 387L641.1 384.6L646 382.2L650.1 381.7L654.2 381.2L658.3 380.7L662.3 380.2L662.9 381.8L664 380.8L666.7 384.8L671.6 384.1L676.4 383.3L681.2 382.5L687 386.5L692.8 390.5L698.7 394.5M620.3 389.4L623.3 384L626.5 381.3L629.6 378.7L631.9 376.7L634.3 374.7L637.2 372.4L640.1 370.1L643.2 368.8L646.3 367.5L648.3 363.2L650.4 358.8M550.6 372.7L555.1 372.3L559.7 371.9L564.3 371.5L568.9 371.1L568.6 368.2L573.8 367.8L578.9 367.4L584 366.9L589.1 366.5L594.2 366L599.3 365.5L604.5 365L609.6 364.4L614.7 363.9L619.8 363.3L624.9 362.7L629.9 362L634.8 361.3L639.8 360.5L644.8 359.8L649.8 359L654.7 358.2L659.7 357.4L664.7 356.5L669.6 355.7L674.6 354.8L679.5 353.9L684.5 352.9L689.4 352L694.3 351L699.3 350L704.2 349L709.1 348L714 347L719 345.9L723.9 344.8M624.9 362.7L627.8 361L630.6 359.4L634.1 356.4L637.4 352.7L640.7 348.9L644.2 344.4L639.7 342.6L637.2 339.3L634.8 336L634.1 331.8M644.2 344.4L648.7 349.2L651.5 348.4L654.3 347.6L658.8 345L662 343.2L665.2 341.4L666.5 337.5L667.7 333.6L669 328.5L670.2 323.4L674.9 324.6L677 321.3L679.1 318L681.3 312.4L683.5 306.9L687.1 308.3L690.7 309.8L691.4 306.5M653.5 292.4L653.3 296.3L652.9 301.3L652.2 307.9L648.8 313.4L644.6 316.2L643.1 320.9L640.3 323L639.2 328L637.8 330.7L634.1 331.8L630.2 327L628.4 327.8L624.5 329.1L620.6 330.4L619 330.3L616.2 329.5L613.4 328.7L609 324.4L605.1 324.9L605.1 328.2L601.2 331.9L598.7 331.8L596.9 335.7L595.2 339.6L592.6 344.3L588.6 342.4L586.5 346.1L582.8 347.8L579.2 349.4L576.2 348.3L573.2 347.3L570.8 348.9L568.5 350.5L567.4 350.3L567 355.1L562.7 357.2L562.6 362.5L561.3 362.4L558 363.5L554.7 364.6M567.4 350.3L567.6 347L567.8 343.8L571.1 338.6L572.5 334.4L571.8 329.7L571.2 324.9L570.6 319.4L570 313.9L569.5 308.4L568.9 302.9L568.3 297.4L567.8 291.9L567.2 286.4M605.1 324.9L604.3 319L603.5 313.1L602.8 307.2L602 301.3L601.2 295.4L600.5 289.5L599.7 283.6M575.7 285.5L579.7 285.1L583.6 284.6L587.6 284.1L591.6 283.6L595.6 283.1L599.6 282.6L599.7 283.6L603.7 282.9L607.7 282.2L611.8 281.5L615.8 280.8M649.7 270.9L650.8 276.9L651.8 282.9L652.9 288.9L654 294.9L655.1 300.9L656.2 306.9L661 306L665.7 305.1L670.5 304.2L675.3 303.3L680 302.3L684.8 301.3L689.6 300.3L694.3 299.3L699.1 298.3L703.8 297.2L708.6 296.2L713.3 295.1L714.5 300L715.6 304.9L716.8 309.8L717.9 314.7L722.4 313.7L727 312.7M668.8 304.5L669.6 308.6L670.4 312.7L672.6 310L674.7 307.3L677.6 304L682.2 303.8L684.6 301.7L688.9 302.5L691.4 306.5L695 307.4L698.2 310.3L701.1 311.3L700.4 315.6L699.6 319.8L703.6 320.6L708.6 322.4L713.5 324.2M713.3 295.1L715.1 292.7L717.5 292.8L720.4 289.6L723.9 284.6L719.4 281.6L716.7 278.1L716.5 273.7L718.3 270L720.1 266.4L715.1 263.6L714.5 261.3L710.1 258.2L705.8 259.2L701.5 260.2L697.3 261.2L693 262.2L688.7 263.1L684.4 264L680.1 264.9L675.8 265.8L671.5 266.7L667.2 267.6L662.9 268.4L658.6 269.2L657.8 265M720.1 266.4L725.5 268L730.9 269.6M733.8 268.9L732.5 267.6L735 265.1L733.8 263.9L732.6 258L731.4 252.1L731.3 246.3L731.2 240.5L729.7 234.2L728.1 228L725.8 227.8L725 222.6L724.1 217.4L722.6 211.4L721.1 205.5M741.4 200L741.9 204.1L742.5 208.2L740.9 212L739.2 215.8L739.3 222.5L739.1 227.5L739 232.6L740.4 238.4M731.2 240.5L735.7 239.5L740.3 238.4L744.8 237.3L749.3 236.2L753.8 235.1L756.4 231.5L758.5 230.9M731.4 252.1L735.4 251.1L739.3 250.2L743.2 249.2L747.1 248.3L751 247.3L753.5 246.6L755.9 245.9L756.4 247.8L757.5 249.5L759.4 250.6L761 253.1M751 247.3L752.4 252.1L753.8 256.8L753.4 258.3M744.7 194.2L746.7 200.3L748.8 206.4L750.6 211.7L752.5 217.1L754.4 223.2L756.8 225.1L758.9 227.5M560.9 233L558.2 229.2L557 222.8L554.1 222.3L550.5 219.4L546.5 218.7L542.4 218L538.5 217.2L534.7 216.4L530.8 215.5L527.2 212.1M529.2 277.6L533.4 277.3L537.6 277L541.8 276.7L546 276.4L550.2 276L554.4 275.7L558.6 275.3L562.8 274.9M705.5 209.6L709.5 208.6L713.5 207.6L717.5 206.5L721.5 205.5L725.5 204.4L729.5 203.3L733.4 202.2L737.4 201.1L741.4 200L741.6 196.7L744.7 194.2L747.4 194.2L747.3 191.7L748.7 190.5L749.8 184.2L750 179.1L749 177.7L750.8 173.8L749.9 169L752.3 161.8L754.6 154.7L757.1 156.6L759.3 158L762 155.6L764.7 153.2L768 154.6L771.4 155.9L773.4 161.7L775.3 167.4L777.3 173.1L778.2 175L782.6 177.3L784.9 183.4L786.5 183.7L791.7 187.6M689.8 228.2L691.2 226.3L693.6 224.1L696.1 221.8L698 217.6L700 213.4L702.8 211.5L705.5 209.6M662.8 247.8L663.5 250.3L665.6 253.1M688.8 226.5L692.7 222.6L696.5 218.7L698.3 216.1L700 213.4L702.8 211.3L705.7 209.2M736.6 170.9L738.9 164.9L741.1 158.9L743.7 152.2L746.3 145.5L748.6 140.1L750.8 134.7L754 130.3L757.1 125.8M736.7 171.2L739.7 168.6L742.7 166.1L744.9 160.6L747.1 155.1L749.2 149.7L751.9 145.4L754.6 141.2L757.2 136.9L760 133.8L762.7 130.6L765.5 127.4L768.8 124.8L772.2 122.1L775.5 119.5L778.8 116.8M632.6 117.1L633.8 123.4L634.9 129.7L636.1 136L637.3 142.3L638.5 148.5L639.7 154.8L640.8 161L642 167.2L643.2 173.5M272 158.4L269.6 152.9L267.2 147.5L268.8 141.9L270.4 136.4L267.5 132.5L264.5 128.5L261.9 124.1L259.3 119.6L256.7 115.2L254.3 110.1L251.9 105.1L249.5 100.1M315 165.4L315.9 158.9L316.9 152.5L317.8 146L318.7 139.5L319.6 132.9L320.5 126.4L321.5 119.9L322.4 113.3L323.3 106.8L324.2 100.2M407.2 174.1L407.2 167.5L407.3 161L407.4 154.4L407.4 147.8L407.5 141.3L407.6 134.7L407.6 128L407.7 121.4L407.8 114.8L407.9 108.1M473.6 168.7L473.5 162.5L473.3 156.3L473.2 150.1L473.1 143.8L473 137.6L472.8 131.3L472.7 125L472.6 118.7L472.4 112.4M591.8 206.5L595.1 206.1M133.4 91.6L135.1 96L136.9 100.4L138.7 104.8L140.9 108.4L143 112L145.1 115.6L147.5 120.2L149.9 124.9L152 127.8L154.1 130.8L156.1 133.7L159.1 136.8L162.1 139.8L164.8 141.8L167.4 143.7L170 145.6L173.3 144L172.6 137L171.2 133.2L169.8 129.4L166.3 126.2L162.8 123L162 118.4L161.2 113.9L158.2 109.5L155.2 105.1L152.3 103L149.3 100.8L146.3 98.7L143.9 96.1L141.5 93.6L139.1 91L136.2 91.3L133.4 91.6ZM508.3 210.3L510.6 208L512.8 205.7L515 203.3L517.2 200.9L520.4 198.2L523.6 195.6L526.8 192.9L530.6 190.6L534.4 188.2L538.2 181.4L540.4 182L542.7 182.6L545.5 177.5L547.9 174.4L550.3 171.3L553 172L555.8 172.7L558 172.9L560.2 173.2L564 173.2L567.8 173.2L569.2 176.4L570.7 179.7L574.5 184.2L578.2 184.1L581.8 184L585.5 184L586.5 187.3L587.5 190.7L589.7 194.9L592.1 200L591.4 203.3L591.8 206.5L590.8 207L587.4 207.1L587.4 202.7L584.4 203.8L581.5 204.9L578.9 205.3L576.2 205.7L572.8 208.2L569.3 210.6L565 210L560.7 209.4L556.9 205.3L554.6 204.4L551.7 205.9L548.8 207.4L551.2 203.1L553.8 196.3L556 195.7L553.9 195.1L551 195.6L548.7 197.5L546.4 199.4L542.9 203.8L539 206.3L536.4 206.9L533.7 207.5L530.5 209.8L527.2 212.1L524.6 212L522 211.9L523.4 210.2L522.6 207.8L520.9 206.3L518.2 207.8L513.8 209.4L509.5 211.1L508.3 210.3ZM538.9 190L542 187.6L544.3 185.9L546.6 184.2L545.2 186.5L543.2 188.1L541.1 189.6L538.9 190ZM566.2 285.1L567.4 287.4L569.6 288.4L572.2 287.4L574.8 286.3L576.8 283L578.9 279.7L580.9 274.6L580.9 268.6L579.7 265L578.5 261.4L577 258.2L575.6 254.9L576 250L575 248.4L576.9 245.1L577.2 238.9L578.6 234.3L581.3 231.5L583.9 228.8L583.9 232.2L584 235.6L586.2 231.7L586.9 226.4L590.3 225L588.5 224.1L588.6 220.8L589 219.2L591.9 218.3L591.9 216.8L588.5 215.2L585.9 214.8L583.3 214.3L580.9 215.6L578.5 216.9L574.6 217.7L571.5 220.5L570.8 223.8L569.7 219.9L566 221.9L566.3 219.4L564.7 223.3L563.1 227.1L560.9 233L558.4 236.5L557.2 242.3L560.2 237.9L563.7 232.7L567.3 229.1L566.7 233.2L564.8 237.5L563.1 243.3L563 248.2L562 249.1L562 254.8L560.5 260.6L561 266.5L562.7 271.2L562.7 273.6L562.8 277L565.1 282L566.2 285.1ZM591.9 218.3L595.1 220L599 221.3L602.9 222.6L606.9 223.2L608.2 227.7L610.1 228.1L610.8 234L611 239.2L609.8 240.7L608.6 244.2L605.4 246.2L606.3 251L610.6 249.6L611 248.7L612.6 245.2L616 242.7L620 245.7L621.4 250.2L622.8 254.7L624.8 258.8L624.9 265.3L622.2 264.9L620.5 266L620.7 269.5L619.7 270.5L618.7 271.9L618.6 275.2L616.6 277.9L615.9 281.3L619 282L622.2 283.3L624.9 282.5L625.4 283.9L627.3 284.4L631.5 282.6L634.3 281.9L637.1 281.2L639.3 278.7L641.4 276.2L644 274.6L646.7 273L649.4 271.4L651.9 269.5L654.4 267.6L658.2 264.1L661.9 260.6L664 257L666.2 253.3L665.6 253.1L661.9 254.3L657.9 255.4L654.5 256.7L651.2 257.9L649.3 260.8L653.6 261.2L651.2 261.4L648.8 261.5L644.6 261.3L642.1 261.6L639.6 261.9L636.2 265.7L632.8 269.6L629.7 271.3L626.7 273.1L626.5 276.3L625.1 274.5L621.3 275.9L619.2 275.4L619 274.3L619.7 270.8L623.3 270.4L626.1 269.2L625.4 265.2L625.1 259.2L627.1 257L629.1 254.8L631.8 252.8L631.3 249.2L630.9 245.6L630.9 242L630.8 238.5L632.9 233L632.9 228L630.2 224.8L627.5 221.6L631.6 220.9L632.9 225.1L634.7 228.6L637.7 230.8L641.3 229.8L645.9 230.6L648.3 229.7L649 226L647.2 221.4L645.3 216.8L641.7 214L638 211.2L634.2 209.3L630.8 209.5L627.5 209.8L624.4 208.8L621.4 207.8L617.5 208L614.2 208.5L610.8 209L607.4 209L604 208.9L601.1 208.5L598.1 207.3L595.1 206.1L597.5 210.7L600.7 213.6L598.2 214L595.7 214.3L591.9 216.8L591.9 218.3ZM609.8 213.4L613.4 214.9L617.1 216.2L620 216.8L623 217.4L625 215.5L626.9 213.5L622.8 210.4L619.6 211.2L616.4 211.9L613.1 212.7L609.8 213.4ZM662.8 247.8L660.9 249.1L657.6 249L654.3 248.8L654.4 248.4L655.6 246.2L658.1 242.6L659.9 240.8L663.4 237.6L667.1 236.2L670.9 234.8L673.5 233.9L676 232.9L678 233.6L682.8 234.1L684.7 231.9L686.8 229.2L688.8 226.5L690.9 227.5L692.4 231.8L694.6 236.2L691.5 238.4L689 240.5L686.5 242.5L683.1 243.4L679.7 244.3L676 244.2L672.4 244L669.6 244.9L666.8 245.7L662.8 247.8ZM264 277.7L267.8 280.4L271.6 283.1L272.2 287.2L272.7 291.4L269.8 294.2L265.7 289.4L263.7 283.4L264 277.7ZM195.9 491.5L228.3 494.2M290.6 451.4L291.9 465L289.2 481.2L287.9 492L282.5 500L285.2 513.6L287.9 519.5M287.9 519.5L279.8 527.2L274.3 531.2L271.6 535.3M287.9 519.5L293.3 527.2L298.7 535.3L306.8 543.4L313.6 544.8L317.6 535.3L323 527.2L333.9 532.6L340.1 533.9L348.2 529.9L355 529.3M306.8 543.4L304.1 547.5L302.7 554.2L306.8 562.3L312.2 567.5M365.8 494.2L357.7 500.1L355 511L356.4 527.2L355 529.3L360.4 533.9L361.8 543.4L359.1 554.2L363.1 559.6L372.6 562.3L371.2 567.5M411 516.5L407.8 516.9L399.6 521.7L402.3 527.2L396.9 532.6L392.9 538L395.6 546.1L399.6 554.2L405 556.9L398.3 559.6L396.9 567.7M415 528L418.6 532.6L421.3 540.7L429.4 546.1L432.1 554.2L425.3 559.6L417.2 567.5M633.1 122.7L644.5 182.2L649.9 191.7L659.3 197.1L672.9 198.5L682.3 201.2L685 205.2L693.2 206.6L701.3 201.2L706.7 199.8L708 206.6L702.5 212M760.8 153L767.6 145.7L774.3 141.6L782.5 136.8L796 131.4M479 176.4L482.8 179.2L488.5 181.1L492.2 176.4L494.1 179.2L499.8 181.1L504.5 182.9L509.2 185.8L512.9 188L517.6 185.8L521.4 186.7L529.9 187.6L535.5 184.8L538.3 182.6M489 180L492.5 177.5L495 180.5L499 180L502 183M446.5 528L449.8 543.5L451 550.6L449 557.6M154 460L155.5 460L155.5 464.5L154 464.5ZM193 483L195 481.5L196 485L194 487ZM220 468L222 467L226 474L225 478L222 476ZM234 478L237 475L239 479L237 483L234 482ZM421.6 121L423.5 129.3L428.2 133.1L432.9 136.8L434.8 142.5L437.6 154.7L440.5 155.6L444.2 152.8L442.4 147.2L438.6 144.4L436.7 138.7L434.8 132.1L430.1 130.2L425.4 125.5L423.5 121ZM442.4 121L445.2 127.4L449.9 126.5L451.8 133.1L453.6 135.9L454.6 142.5L453.6 150.9L456.5 152.8L459.3 149.1L461.2 140.6L458.4 134L456.5 129.3L454.6 123.6L452.7 121ZM540.2 150.9L544.9 150.4L548.3 154.7L548.7 160.4L545.9 164.7L541.2 164.1L537.8 160.4L538.4 154.7ZM473.7 170.5L474 165L478 162.5L483 163L486.5 166L487 171L484 175L480 173L479 177L475 176.5ZM476 166L481 165.5L484 169L481 171L477 170ZM688 506.3L691 507.5L691.8 510.5L690 513.3L686.8 513.5L684.5 511L685 508ZM545 474L549 471.5L556 471.5L561 474L558 477.5L550 478Z" fill="none" stroke="#000" stroke-width="1.7" stroke-linejoin="round" stroke-linecap="round"/>
<path d="M139.8 92.1L142.1 95.1L144.4 98L147.1 99.8L149.8 101.6L152.9 103.9L156 106.2L158.8 107.5L161.7 108.9L164.8 113.3L167.1 118.3L169.5 122L172 125.8L175.1 127.5L178.2 129.3L178.1 131.5L177.9 136L181.4 137L182.9 141.7L180.8 145.3L181.8 149.8L182.5 154.6L178.9 160L176.9 165L174 166.1L171.2 167.1L173.3 161.8L178 157.2L178.1 154.7L177.6 150.7L174.2 148.9L170.5 148.6L167.6 147.4L164.7 146.2L162.1 143.7L159.5 141.2L158.2 140.7L157.5 144.5L156.8 148.4L157.2 153.7L157.7 158.9L157.8 164.9L157 169.7L155.2 176L154.5 181.1L153.2 185.7L151.9 190.3L149.7 195.6L147.5 201L146 204.7L144.6 208.4L142.4 212.4L140.1 216.4L137.8 220.4L135.7 223.7L133.6 226.9L133.2 233.4L132.9 239.9L132.6 244.9L131.3 250.3L130 255.7L127 260L124.1 264.3L123.9 267.4L126.1 271.8L126.3 276.7L126.4 281.6L125.9 285.6L125.4 289.7L127.8 295.8L130.2 301.9L129.5 306.7L132.2 309.2L134.9 311.6L133.6 316.2L133.4 321.5L137 326.2L139.2 329.4L136.6 331.6L135.8 336.8L137.7 340.8L139.5 344.7L140.9 348.9L142.9 351.8L144.9 354.7L144 356.5L146.9 359.1L145.5 362.7L144.5 367.8L146.3 370.4L151.1 372L155.9 373.7L158.3 375.3L160.6 377L162.5 380.4L166 382.8L170 383.5L170 387.8L172.9 388.4L175.9 391.7L178.4 394.6L181.7 399.6L181.8 405.4L181.7 408.3L182.8 410.9L184.9 416.9L187.1 422.9L184.9 424.6L186 429.4L187.1 434.2L188.2 439L189.7 443.4L191.3 447.9L191.6 451.7L191.9 455.5L195.2 460.5L198.5 465.6L201.4 468.8L204.4 472L206.9 476L209.4 480.1L209.4 485.6L209.5 491.2L204.7 491.1L199.9 491L195.2 490.9L197.2 494.1L200.6 499.2L204.1 504.3L208.6 508.7L213.1 513.1L218.8 512.8L222.6 516.5L226.4 520.2L230.3 523.9L231 528.6L231.7 533.3L229.9 538L228.1 542.7L226.4 547.4L230 553L235.4 557.2L240.8 561.4L245.1 565.7L249.4 569.9L253.8 574.2L255.4 579.2L257.1 584.2M265.9 578.4L264.4 572.3L263 566.3L258.7 564.4L254.4 562.6L252.2 556.8L250 551.1L248.6 545.1L247.3 539L245.3 534.6L243.4 530.2L241 524.8L238.7 519.5L236.3 514.1L235 510.2L233.6 506.4L231.1 500.5L228.6 494.6L227.2 490L225.8 485.3L224.5 480.7L220 477.4L217.8 472.3L215.6 467.3L213.5 462.2L212 457.5L210.5 452.8L209 448.2L208.8 444.6L208.6 441L210 434.9L211.4 428.9L213.8 431L218.1 434L222.4 437L226.8 440L229.1 444.5L231.5 449L232.5 454.1L233.5 459.2L234.5 464.3L236.9 471.3L239.3 478.3L242.1 483.3L245.3 488.1L248.5 492.9L251.6 496.5L254.7 500.1L256 505.5L257.5 510.8L262.5 516.5L267.6 522.1L270.7 526.7L273.7 531.2L274.9 536.4L276.1 541.5L280.4 545.8L284.7 550L287.9 555L291.1 559.9L295 564.8L299 569.7L303 574.6L306.9 580L310.8 585.3L315.7 591.7L320.6 598M440.9 608.3L441.3 602L441.6 595.7L442 589.4L442.3 583.1L442.9 577.1L443.5 571.1L445.3 566.7L447 562.3L448.8 558L450.3 552.5L451.8 547.1L451 545.3L450.3 541L449.6 536.6L449.1 531.7L448.6 526.8L449.7 523.6L450.8 520.3L453.3 516.6L456.5 513.6L459.7 510.5L462.6 508.1L465.8 506L469 503.9L473.6 501.2L478.1 498.4L481.6 495.4L485.1 492.3L490.6 488.1L494.5 486.9L498.3 485.7L502 484.9L505.6 484L510.8 485.2L516 486.3L520.2 486.5L524.5 486.7L527.3 487.3L533 487.8L533.9 490.2L537.2 492L540.5 493.9L544 493.4L547.6 493L550.3 491.4L553 489.7L555.8 489.1L558.6 488.5L561.6 494.2L565.6 492.8L567.2 489.4L563.4 487.2L559.6 483.5L560.7 480.1L557.6 476.3L558.4 474.2L561.5 472L564.2 470.8L566.9 470L571.8 470.4L573.9 469.7L578.2 471.3L578.3 464.7L578.9 463.9L580.8 468.6L579.7 471.4L583.8 470.7L586.3 470L590.6 468.7L595.4 467.8L600.2 466.8L606.1 468.4L611.9 470L614.7 473.2L617.5 476.3L622.7 476.8L626.9 473.8L631.1 470.8L633.1 467.7L636.3 467.6L642 472.5L644.9 472.9L648.1 476.7L651.3 480.4L655 482.8L656.5 483.4L656.8 489.5L657 495.7L657.1 499L659 502.8L661.3 500L663.3 503.8L659.6 506L662.4 508.9L664.6 511.8L668.3 517.5L671.4 521.8L676.5 525.8L678.1 529L679.2 530.2L683.1 529.5L686.3 534.9L689.5 540.4L692.4 539.7L696 538.6L699.6 537.4L699.9 533.2L701.8 527.5L701.2 521.8L700.9 517L700.5 512.3L699.2 508.4L697.6 504.5L694.4 500.6L692.8 497.9L690.9 494.5L689 491.2L688.2 485.3L686.8 483.3L684.1 480.2L681.4 477.1L679.4 474.2L676.6 469.2L673.8 464.1L672.5 461.1L671.1 458L669.4 451.8L669.1 451.5L668.9 448.2L668.7 444.8L670.5 439.3L672.1 434.5L673.7 429.7L675.5 425.8L679.7 420.4L682.2 417.9L684.7 415.4L687.8 412.8L690.9 410.1L692.6 406.5L693.8 402.2L695 397.8L698.7 394.6L702.6 393.9L706.5 393.2L707.4 387.1L710.4 382.3L712.7 380.2L714.9 378.1L718.7 377.7L722.5 377.2L724.4 371.9L727.6 368.3L730.3 366.2L733.1 364.1L732 360L731 356L729.5 353.4L727.3 350.4L725.2 347.5L723.9 344.8L721.5 340.4L720.9 339.2L717 339.8L715.9 337.6L715.1 331.2L714.3 327.7L713.5 324.2L710.4 319.1L709.2 315.3L708 311.4L707.9 308.1L707.8 304.9L710.4 299.4L711.9 300.6L711 307.5L711.2 311.5L711.5 315.6L716.3 319.4L719 322.9L721.1 323.2L720.3 327.1L719.6 331L720.6 336.2L722.1 332.3L723.6 328.4L725.4 322.2L726.2 318.5L727.1 314.7L727 312.7L725.2 307.4L721.9 304.9L719.6 300.5L717.2 298.6L716.9 294.6L717.5 292.8L717.6 297.7L722.2 300.7L726.6 304.9L728.9 300.8L731.1 296.7L733.4 289.5L732.6 283.8L731.8 278.2L728.7 278.4L730.5 275.5L731.3 273.7L730.9 269.6L731.4 272.8L731.3 276.1L734.3 275.5L737.2 274.8L740 273.5L742.9 272.3L746 269.8L749.1 267.3L751.8 264.7L754.4 262.2L749.6 262.2L746.6 264L743.7 265.8L740.7 267.6L737.2 269.3L733.7 271L733.8 268.9L736.2 266.9L738.7 264.9L741.6 262.7L744.6 261.6L747.6 260.5L750.7 259.4L753.4 258.4L757.6 256.4L757 250.9L758.9 254.4L760.4 254L761.6 253L763.3 250.8L766.3 251.3L770.3 248.2L773.9 246.5L773.4 244L769.1 241L771.9 243.2L769.6 246.9L766.6 246.5L764.6 244.6L758.7 239.6L760.4 236.6L762 233.6L758.6 230.4L758.9 227.5L759.7 225.9L761 222L762.3 218.1L765.5 214.6L768.8 211.7L770.4 208.9L772 206.2L771.6 200.9L773.9 200.5L777 200.8L780.1 201.1L782.4 199L784.4 196.6L786.4 194.3L787.9 191.7L790.1 191L792 187.5L791.2 186.4L789.6 184L792.8 181.8L796.1 179.5L799.3 177.3L802.5 174.3L805.6 171.3L808.8 168.3L810.7 165.4L812.7 162.6L811.7 167.4L810.8 172.2L813.9 171.7L817.1 171.3L814.2 175.5L811.3 179.7L808.3 183.9L805.3 187.5L802.3 191.1L804.2 195.6L806 200.1L810.1 202.1L814.2 204L816.4 199.8L818.6 195.6L820.8 191.4L823.8 186.9L826.7 182.3L829.6 177.8" fill="none" stroke="#000" stroke-width="2.1" stroke-linejoin="round" stroke-linecap="round"/>
<path d="M701.6 528L700 536L695 543L688 548L680.4 551M684 549.5L680.4 551.2M715 509.5L721 508.5L726 506L730 505M730 502L738 501L745 505L745.6 510L743 517M733 502L741 502.5L744 507M723 499L723.6 499.3M727 500L727.6 500.3M714 525.3L714.3 526M734 520L736.5 523L736 526M731 529L735 532L741 540L746 548L746 554L743 555L739 549L733 543L729 540L732 534L731 529M733 535L738 542L743 550L744.5 553M734 538L740 546M742 531.5L747 529.5M750 522L756 521L762 526L763 532L760.4 531M766 532L771 535L777 539.5M753 534L758 540L766 547L774 551L779 550M779 546L784 552L789 557.5M790 536L790.4 538.5M782 543L783 543.4M786 544L787 544.2M775.5 559L774.5 563L776 567M750 546L750.4 546.4M773 556L773.4 556.3M685 482L687.5 486L688 489M657.5 497L660 500L659 504L662 503L661.5 498.5M667.5 513L669.5 517L671.5 520.5L670 516M145 376.5L150 378L154 378L157 379.5M153 391.5L155.6 393M167.3 391.5L169 393L170.5 395M165.3 398L167 400L168 402.5M182 139L183 145L181.5 152L182 157L180 162L178 166M178 166L174 167L171.5 163.5L173.5 158.5L177 156.5L179 150M176 128L179 134L181 139M163 122L168 127L173 132L178 138M180 141L181 148L179.5 154L180.5 160M150 122.4L155.3 130.6L159.4 134L165.3 138.8L170 142.4M152 123L156 126L158 124M157 129L161 131M158 164L160 170L158.5 176M157.5 177L162 179L165 183M711.8 297.6L708.2 307L709.4 313L711.8 318.8L715.3 325.9L718.8 333L720.6 335.3M711 301L710 310L712.5 316L714 322L717 328M700 317.6L707 321L713 326M706 326L714 330.6M707 335L713 337L719 340M709 331L716 334.5M713 300L714 306L713 311M716.5 318L718 324L721 331M722.5 293L725 298L727.6 301L727 306M723 296L726.5 303M721 344L725 350L728 356L726 362L722 366M727 347L731 354L733 360L729 366L724 372M719 346L726 348L730 351M730.5 276L736 273L743 269L750 264.5L754 261.5M731 273.5L738 270L746 265.5L752 261M761 249.5L766 250.5L771 250L773.5 246.5L772 242.5L769 241L771.5 243.5L772 247M772 252.5L775 253.5M764 253.5L767.5 254.5M757 254L759.5 250.5L762 248.5M752.5 255.5L754 251.5L755 248M762.4 218.2L764.3 216.8L765 214.1L767.2 213.2L769.9 212.3L771 210.5L769.9 207.4L771.1 205.9L771.2 203.8L773.2 202.2L774.7 200.6L776.6 201.6L778.5 201.9L779.6 200.6L782.9 199.3L784 197.6L783.9 194.9L786.5 194.4L787.1 192.6L788.7 191.9L789.5 190.7L791.6 189.5L792 187.5M763.1 214.2L766.1 213L766.6 209.8L769.1 209L769.3 206.7L770.6 205.1L772 203.6L772.6 201.5L773.5 199.3L775.8 198.7L777.7 198.3L781.1 198L783.2 195.8M482.4 483.5L484 486L485.9 489.4L483.5 488M497.6 480L498.8 484.7M513 481.2L516 483M523 484L526 486.5L529 486M551 479L556 481.5L560 485L566 488L563.5 492M557 485.5L561 490L558 492M549 484L553 487L556 490M567 475.3L569 478.5L568.5 482M458 506L462 502.5L466 500.5M446 525L449 521.5L452 520M452 516L455 511.5L458 509M135 306.5L137.5 310L138.5 314L140.5 318M137 308L139.5 307L142 309M224.5 360L228 361L232 356.5L233 362L236 365L240 368M721 205.5L722.3 213L723.8 221M540 181.5L543 177.5L546 174.5L550 172.5M541.5 178L545 179.5M544 175.5L548 176M538.5 190L543 187.5L547 185.6" fill="none" stroke="#000" stroke-width="2.3" stroke-linejoin="round" stroke-linecap="round"/>
</g>
<rect x="112.8" y="121.6" width="682.7" height="445.8" fill="none" stroke="#111" stroke-width="1.1"/>
<path d="M99.5 183.25 H112.8M99.5 268 H112.8M99.5 351.7 H112.8M99.5 435.5 H112.8M99.5 520.2 H112.8M258.2 567.4 V580.5M409 567.4 V580.5M558.85 567.4 V580.5M711.2 567.4 V580.5" stroke="#111" stroke-width="1.1" fill="none"/>
<text x="89.5" y="188.85" font-size="15.75" text-anchor="end" style="font-family:'Liberation Sans',sans-serif;fill:#000" xml:space="preserve">45°N</text>
<text x="89.5" y="273.6" font-size="15.75" text-anchor="end" style="font-family:'Liberation Sans',sans-serif;fill:#000" xml:space="preserve">40°N</text>
<text x="89.5" y="357.3" font-size="15.75" text-anchor="end" style="font-family:'Liberation Sans',sans-serif;fill:#000" xml:space="preserve">35°N</text>
<text x="89.5" y="441.1" font-size="15.75" text-anchor="end" style="font-family:'Liberation Sans',sans-serif;fill:#000" xml:space="preserve">30°N</text>
<text x="89.5" y="525.8" font-size="15.75" text-anchor="end" style="font-family:'Liberation Sans',sans-serif;fill:#000" xml:space="preserve">25°N</text>
<text x="258.2" y="604.2" font-size="15.75" text-anchor="middle" style="font-family:'Liberation Sans',sans-serif;fill:#000" xml:space="preserve">110°W</text>
<text x="409" y="604.2" font-size="15.75" text-anchor="middle" style="font-family:'Liberation Sans',sans-serif;fill:#000" xml:space="preserve">100°W</text>
<text x="558.85" y="604.2" font-size="15.75" text-anchor="middle" style="font-family:'Liberation Sans',sans-serif;fill:#000" xml:space="preserve">90°W</text>
<text x="711.2" y="604.2" font-size="15.75" text-anchor="middle" style="font-family:'Liberation Sans',sans-serif;fill:#000" xml:space="preserve">80°W</text>
<text x="112" y="28.3" font-size="17.6" text-anchor="start" textLength="333.3" lengthAdjust="spacingAndGlyphs" style="font-family:'Liberation Sans',sans-serif;fill:#000" xml:space="preserve">IWFAQRP Contiguous US Real Time WRF</text>
<text x="795.8" y="30.3" font-size="11.6" text-anchor="end" textLength="132.8" lengthAdjust="spacingAndGlyphs" style="font-family:'Liberation Sans',sans-serif;fill:#000" xml:space="preserve">Init: 2026-03-31_00:00:00</text>
<text x="116.1" y="105.8" font-size="11.66" text-anchor="start" textLength="337.6" lengthAdjust="spacingAndGlyphs" style="font-family:'Liberation Sans',sans-serif;fill:#000" xml:space="preserve">Superfog Potential Index valid at 2026-04-01_21:00:00 UTC   (%)</text>
<text x="454.6" y="657" font-size="16.5" text-anchor="middle" textLength="215.6" lengthAdjust="spacingAndGlyphs" style="font-family:'Liberation Sans',sans-serif;fill:#000" xml:space="preserve">Superfog Potential Index  (%)</text>
<text x="114.6" y="821" font-size="10.48" text-anchor="start" textLength="176.7" lengthAdjust="spacingAndGlyphs" style="font-family:'Liberation Sans',sans-serif;fill:#000" xml:space="preserve">OUTPUT FROM WRF V4.6.1 MODEL</text>
<text x="114.6" y="833" font-size="10.49" text-anchor="start" textLength="412.9" lengthAdjust="spacingAndGlyphs" style="font-family:'Liberation Sans',sans-serif;fill:#000" xml:space="preserve">WE = 580 ; SN = 380 ; Levels = 38 ; Dis = 8km ; Phys Opt = 8 ; PBL Opt = 1 ; Cu Opt = 5</text>
<rect x="236.50" y="664.7" width="36.27" height="23.6" fill="#eff2fa" stroke="#333" stroke-width="0.8"/>
<rect x="272.77" y="664.7" width="36.27" height="23.6" fill="#e6eaff" stroke="#333" stroke-width="0.8"/>
<rect x="309.04" y="664.7" width="36.27" height="23.6" fill="#d9e2ff" stroke="#333" stroke-width="0.8"/>
<rect x="345.31" y="664.7" width="36.27" height="23.6" fill="#d9e0ff" stroke="#333" stroke-width="0.8"/>
<rect x="381.58" y="664.7" width="36.27" height="23.6" fill="#d0d6ff" stroke="#333" stroke-width="0.8"/>
<rect x="417.85" y="664.7" width="36.27" height="23.6" fill="#dfeccc" stroke="#333" stroke-width="0.8"/>
<rect x="454.12" y="664.7" width="36.27" height="23.6" fill="#f5fbdc" stroke="#333" stroke-width="0.8"/>
<rect x="490.39" y="664.7" width="36.27" height="23.6" fill="#ffffa5" stroke="#333" stroke-width="0.8"/>
<rect x="526.66" y="664.7" width="36.27" height="23.6" fill="#ffedaa" stroke="#333" stroke-width="0.8"/>
<rect x="562.93" y="664.7" width="36.27" height="23.6" fill="#ffe9a8" stroke="#333" stroke-width="0.8"/>
<rect x="599.20" y="664.7" width="36.27" height="23.6" fill="#ffdaa3" stroke="#333" stroke-width="0.8"/>
<rect x="635.47" y="664.7" width="36.27" height="23.6" fill="#ffb9a0" stroke="#333" stroke-width="0.8"/>
<text x="272.77" y="717.9" font-size="14.8" text-anchor="middle" style="font-family:'Liberation Sans',sans-serif;fill:#000" xml:space="preserve">0</text>
<text x="309.04" y="717.9" font-size="14.8" text-anchor="middle" style="font-family:'Liberation Sans',sans-serif;fill:#000" xml:space="preserve">10</text>
<text x="345.31" y="717.9" font-size="14.8" text-anchor="middle" style="font-family:'Liberation Sans',sans-serif;fill:#000" xml:space="preserve">20</text>
<text x="381.58" y="717.9" font-size="14.8" text-anchor="middle" style="font-family:'Liberation Sans',sans-serif;fill:#000" xml:space="preserve">30</text>
<text x="417.85" y="717.9" font-size="14.8" text-anchor="middle" style="font-family:'Liberation Sans',sans-serif;fill:#000" xml:space="preserve">40</text>
<text x="454.12" y="717.9" font-size="14.8" text-anchor="middle" style="font-family:'Liberation Sans',sans-serif;fill:#000" xml:space="preserve">50</text>
<text x="490.39" y="717.9" font-size="14.8" text-anchor="middle" style="font-family:'Liberation Sans',sans-serif;fill:#000" xml:space="preserve">60</text>
<text x="526.66" y="717.9" font-size="14.8" text-anchor="middle" style="font-family:'Liberation Sans',sans-serif;fill:#000" xml:space="preserve">70</text>
<text x="562.93" y="717.9" font-size="14.8" text-anchor="middle" style="font-family:'Liberation Sans',sans-serif;fill:#000" xml:space="preserve">80</text>
<text x="599.2" y="717.9" font-size="14.8" text-anchor="middle" style="font-family:'Liberation Sans',sans-serif;fill:#000" xml:space="preserve">90</text>
<text x="635.47" y="717.9" font-size="14.8" text-anchor="middle" style="font-family:'Liberation Sans',sans-serif;fill:#000" xml:space="preserve">100</text>
</svg></body></html>
